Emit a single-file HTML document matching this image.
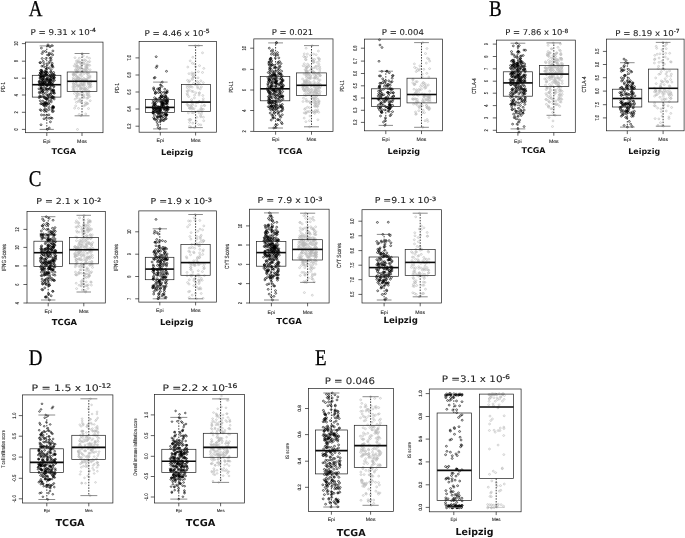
<!DOCTYPE html>
<html lang="en"><head><meta charset="utf-8"><title>Figure</title>
<style>
html,body{margin:0;padding:0;background:#fff;}
body{width:685px;height:538px;overflow:hidden;}
svg{display:block;filter:blur(.4px);}
text{text-rendering:geometricPrecision;}
</style></head><body>
<svg width="685" height="538" viewBox="0 0 685 538">
<rect width="685" height="538" fill="#fff"/>
<g><g fill="none" stroke="#000" stroke-width=".62" transform="scale(1 .9)">
<circle cx="40.4" cy="81" r="0.98"/><circle cx="44.9" cy="118.2" r="0.98"/><circle cx="45.8" cy="89.8" r="0.98"/><circle cx="40.3" cy="93.9" r="0.98"/><circle cx="42.4" cy="90.4" r="0.98"/><circle cx="53.8" cy="103.4" r="0.98"/><circle cx="41" cy="138.6" r="0.98"/><circle cx="44" cy="127.9" r="0.98"/><circle cx="51.6" cy="84.3" r="0.98"/><circle cx="48.1" cy="85.1" r="0.98"/><circle cx="40.3" cy="112" r="0.98"/><circle cx="42.4" cy="80.1" r="0.98"/><circle cx="48.1" cy="110" r="0.98"/><circle cx="43.7" cy="88.2" r="0.98"/><circle cx="48" cy="98.9" r="0.98"/><circle cx="52.5" cy="108.6" r="0.98"/><circle cx="41" cy="107.6" r="0.98"/><circle cx="50" cy="52" r="0.98"/><circle cx="49.4" cy="89.7" r="0.98"/><circle cx="48" cy="94.5" r="0.98"/><circle cx="48.3" cy="106.4" r="0.98"/><circle cx="46.2" cy="123.1" r="0.98"/><circle cx="49.2" cy="115.9" r="0.98"/><circle cx="49.9" cy="88.1" r="0.98"/><circle cx="44" cy="132" r="0.98"/><circle cx="49.5" cy="92.9" r="0.98"/><circle cx="40.9" cy="85" r="0.98"/><circle cx="51" cy="91.9" r="0.98"/><circle cx="52.7" cy="93.9" r="0.98"/><circle cx="46.1" cy="78.7" r="0.98"/><circle cx="51.9" cy="122.2" r="0.98"/><circle cx="45.6" cy="75" r="0.98"/><circle cx="42.2" cy="65" r="0.98"/><circle cx="43.2" cy="68.2" r="0.98"/><circle cx="43.5" cy="73.6" r="0.98"/><circle cx="45.5" cy="92.2" r="0.98"/><circle cx="49.2" cy="59.1" r="0.98"/><circle cx="48.5" cy="114.6" r="0.98"/><circle cx="50.4" cy="135.4" r="0.98"/><circle cx="51.3" cy="108.7" r="0.98"/><circle cx="48.9" cy="88.3" r="0.98"/><circle cx="40" cy="89.8" r="0.98"/><circle cx="39.9" cy="86.7" r="0.98"/><circle cx="41.5" cy="82.1" r="0.98"/><circle cx="52.7" cy="91.8" r="0.98"/><circle cx="41.3" cy="97.6" r="0.98"/><circle cx="41" cy="85.6" r="0.98"/><circle cx="54.2" cy="110" r="0.98"/><circle cx="40.6" cy="87.6" r="0.98"/><circle cx="43.1" cy="93.4" r="0.98"/><circle cx="53.9" cy="96.4" r="0.98"/><circle cx="41.2" cy="97.9" r="0.98"/><circle cx="53.7" cy="118.8" r="0.98"/><circle cx="49.9" cy="98.3" r="0.98"/><circle cx="51" cy="87.8" r="0.98"/><circle cx="51.1" cy="103.3" r="0.98"/><circle cx="54.4" cy="89.3" r="0.98"/><circle cx="50.9" cy="130.9" r="0.98"/><circle cx="47.1" cy="95" r="0.98"/><circle cx="39.6" cy="83" r="0.98"/><circle cx="49.8" cy="91.9" r="0.98"/><circle cx="46" cy="109.7" r="0.98"/><circle cx="42.4" cy="91.2" r="0.98"/><circle cx="48.8" cy="90.7" r="0.98"/><circle cx="52" cy="107.2" r="0.98"/><circle cx="40.7" cy="78.2" r="0.98"/><circle cx="52.5" cy="124.1" r="0.98"/><circle cx="41.7" cy="94.1" r="0.98"/><circle cx="44.4" cy="117.4" r="0.98"/><circle cx="45.3" cy="114.3" r="0.98"/><circle cx="50.3" cy="97.7" r="0.98"/><circle cx="53.1" cy="87.9" r="0.98"/><circle cx="41.3" cy="102.5" r="0.98"/><circle cx="44.7" cy="123.8" r="0.98"/><circle cx="41" cy="97.8" r="0.98"/><circle cx="47.2" cy="72.1" r="0.98"/><circle cx="45.8" cy="99.5" r="0.98"/><circle cx="42.9" cy="100.6" r="0.98"/><circle cx="42.8" cy="84.6" r="0.98"/><circle cx="41" cy="95.4" r="0.98"/><circle cx="44.7" cy="115.4" r="0.98"/><circle cx="45.8" cy="65.1" r="0.98"/><circle cx="46.8" cy="116.2" r="0.98"/><circle cx="45.9" cy="98" r="0.98"/><circle cx="39" cy="93.7" r="0.98"/><circle cx="50.3" cy="105" r="0.98"/><circle cx="44.2" cy="114.5" r="0.98"/><circle cx="41.5" cy="127.7" r="0.98"/><circle cx="42.9" cy="106.3" r="0.98"/><circle cx="47.8" cy="91.5" r="0.98"/><circle cx="52.7" cy="118.2" r="0.98"/><circle cx="47" cy="80.1" r="0.98"/><circle cx="46.1" cy="109.9" r="0.98"/><circle cx="49.3" cy="142.3" r="0.98"/><circle cx="53.7" cy="100.8" r="0.98"/><circle cx="51.1" cy="59.6" r="0.98"/><circle cx="41.1" cy="80.6" r="0.98"/><circle cx="40.3" cy="83.8" r="0.98"/><circle cx="51.2" cy="100.8" r="0.98"/><circle cx="49.2" cy="112.4" r="0.98"/><circle cx="52.2" cy="73.8" r="0.98"/><circle cx="45.2" cy="103.7" r="0.98"/><circle cx="52.9" cy="56.6" r="0.98"/><circle cx="47" cy="105.6" r="0.98"/><circle cx="42.3" cy="80.1" r="0.98"/><circle cx="47.7" cy="93.6" r="0.98"/><circle cx="39.2" cy="91.1" r="0.98"/><circle cx="40.3" cy="80.9" r="0.98"/><circle cx="51.1" cy="111.3" r="0.98"/><circle cx="39.7" cy="106.8" r="0.98"/><circle cx="43.2" cy="103.9" r="0.98"/><circle cx="51" cy="64" r="0.98"/><circle cx="41.7" cy="78.1" r="0.98"/><circle cx="41.1" cy="122.8" r="0.98"/><circle cx="49.7" cy="83.8" r="0.98"/><circle cx="48.5" cy="61.3" r="0.98"/><circle cx="40.7" cy="115.3" r="0.98"/><circle cx="46.2" cy="131.3" r="0.98"/><circle cx="47.6" cy="81.6" r="0.98"/><circle cx="47.2" cy="95.3" r="0.98"/><circle cx="40.8" cy="86" r="0.98"/><circle cx="43.9" cy="84.2" r="0.98"/><circle cx="50.9" cy="90.9" r="0.98"/><circle cx="44.5" cy="84.4" r="0.98"/><circle cx="42.9" cy="94.1" r="0.98"/><circle cx="41.9" cy="92" r="0.98"/><circle cx="53" cy="74.6" r="0.98"/><circle cx="46.7" cy="87.2" r="0.98"/><circle cx="45.2" cy="113.8" r="0.98"/><circle cx="44.5" cy="116.3" r="0.98"/><circle cx="44.5" cy="107.8" r="0.98"/><circle cx="41.2" cy="82.2" r="0.98"/><circle cx="41.5" cy="93.4" r="0.98"/><circle cx="52" cy="82.2" r="0.98"/><circle cx="42.8" cy="102.1" r="0.98"/><circle cx="46.2" cy="83" r="0.98"/><circle cx="53.8" cy="82.7" r="0.98"/><circle cx="47.5" cy="99.4" r="0.98"/><circle cx="44.6" cy="81.1" r="0.98"/><circle cx="44.9" cy="91.3" r="0.98"/><circle cx="46.9" cy="83.7" r="0.98"/><circle cx="43.1" cy="93.9" r="0.98"/><circle cx="39.3" cy="90.5" r="0.98"/><circle cx="42.6" cy="91.4" r="0.98"/><circle cx="48.9" cy="127.6" r="0.98"/><circle cx="52.7" cy="100.3" r="0.98"/><circle cx="41.9" cy="73.5" r="0.98"/><circle cx="52" cy="131.4" r="0.98"/><circle cx="50.4" cy="104.7" r="0.98"/><circle cx="46.9" cy="110.1" r="0.98"/><circle cx="51.3" cy="113.2" r="0.98"/><circle cx="49.2" cy="131.4" r="0.98"/><circle cx="42.9" cy="115.9" r="0.98"/><circle cx="40.7" cy="84.3" r="0.98"/><circle cx="47.7" cy="108.5" r="0.98"/><circle cx="46.6" cy="115.8" r="0.98"/><circle cx="51.1" cy="77.4" r="0.98"/><circle cx="49.1" cy="119.4" r="0.98"/><circle cx="50.5" cy="93.8" r="0.98"/><circle cx="50.3" cy="83.3" r="0.98"/><circle cx="50.6" cy="88.6" r="0.98"/><circle cx="46.5" cy="114.2" r="0.98"/><circle cx="51" cy="94.9" r="0.98"/><circle cx="41.3" cy="99.2" r="0.98"/><circle cx="50.6" cy="89.3" r="0.98"/><circle cx="39.9" cy="91.9" r="0.98"/><circle cx="49.5" cy="93.1" r="0.98"/><circle cx="47.1" cy="101.7" r="0.98"/><circle cx="46.3" cy="82.6" r="0.98"/><circle cx="54.2" cy="86" r="0.98"/><circle cx="39.3" cy="102.5" r="0.98"/><circle cx="46.1" cy="76.8" r="0.98"/><circle cx="43.1" cy="57.3" r="0.98"/><circle cx="41.2" cy="100.7" r="0.98"/><circle cx="53.2" cy="120.3" r="0.98"/><circle cx="52.8" cy="86.2" r="0.98"/><circle cx="42.9" cy="116.1" r="0.98"/><circle cx="39" cy="98.7" r="0.98"/><circle cx="46" cy="93.8" r="0.98"/><circle cx="44" cy="85.1" r="0.98"/><circle cx="39.2" cy="108.6" r="0.98"/><circle cx="53.5" cy="99.6" r="0.98"/><circle cx="53.1" cy="102.9" r="0.98"/><circle cx="54.4" cy="83.4" r="0.98"/><circle cx="44.7" cy="108.8" r="0.98"/><circle cx="40.5" cy="93.3" r="0.98"/><circle cx="43.4" cy="100.5" r="0.98"/><circle cx="47" cy="94.2" r="0.98"/><circle cx="44.9" cy="81.9" r="0.98"/><circle cx="48.6" cy="122" r="0.98"/><circle cx="53.1" cy="118.9" r="0.98"/><circle cx="50.5" cy="95.3" r="0.98"/><circle cx="50.8" cy="89.3" r="0.98"/><circle cx="53.5" cy="95.6" r="0.98"/><circle cx="46.4" cy="89.3" r="0.98"/><circle cx="54.2" cy="86.6" r="0.98"/><circle cx="48.9" cy="69.9" r="0.98"/><circle cx="41.9" cy="79.6" r="0.98"/><circle cx="42.2" cy="88.6" r="0.98"/><circle cx="53" cy="108.5" r="0.98"/><circle cx="46" cy="94.4" r="0.98"/><circle cx="44.3" cy="91.7" r="0.98"/><circle cx="42.7" cy="87.8" r="0.98"/><circle cx="50.1" cy="64.8" r="0.98"/><circle cx="45.5" cy="80.4" r="0.98"/><circle cx="40.1" cy="107.4" r="0.98"/><circle cx="54" cy="84.3" r="0.98"/><circle cx="51.9" cy="72.3" r="0.98"/><circle cx="43.2" cy="93.6" r="0.98"/><circle cx="53.6" cy="80.5" r="0.98"/><circle cx="52.5" cy="107.2" r="0.98"/><circle cx="52.2" cy="70.3" r="0.98"/><circle cx="48.2" cy="89.2" r="0.98"/><circle cx="51.1" cy="66.6" r="0.98"/><circle cx="53.4" cy="123.5" r="0.98"/><circle cx="47.1" cy="87.2" r="0.98"/><circle cx="53.7" cy="101.6" r="0.98"/><circle cx="46.2" cy="115" r="0.98"/><circle cx="40.3" cy="121.9" r="0.98"/><circle cx="49.1" cy="99.1" r="0.98"/><circle cx="42.1" cy="59.5" r="0.98"/><circle cx="41.1" cy="78.4" r="0.98"/><circle cx="47.2" cy="76" r="0.98"/><circle cx="48.4" cy="105.2" r="0.98"/><circle cx="43.7" cy="87" r="0.98"/><circle cx="52.2" cy="72.6" r="0.98"/><circle cx="42.7" cy="88.4" r="0.98"/><circle cx="44.1" cy="70.7" r="0.98"/><circle cx="46.8" cy="88.2" r="0.98"/><circle cx="49.4" cy="107.9" r="0.98"/><circle cx="42.5" cy="101.7" r="0.98"/><circle cx="49.6" cy="85.6" r="0.98"/><circle cx="51.2" cy="80.3" r="0.98"/><circle cx="54" cy="107.9" r="0.98"/><circle cx="51.9" cy="93.8" r="0.98"/><circle cx="43.6" cy="89.4" r="0.98"/><circle cx="46.7" cy="128.1" r="0.98"/><circle cx="49.4" cy="91.4" r="0.98"/><circle cx="41.6" cy="115" r="0.98"/><circle cx="41.3" cy="84.5" r="0.98"/><circle cx="41.4" cy="53.4" r="0.98"/><circle cx="49.9" cy="68.3" r="0.98"/><circle cx="53" cy="119.4" r="0.98"/><circle cx="50.5" cy="79.8" r="0.98"/><circle cx="48.9" cy="60.8" r="0.98"/><circle cx="41.7" cy="84.4" r="0.98"/><circle cx="43.4" cy="84.2" r="0.98"/><circle cx="54" cy="86.5" r="0.98"/><circle cx="44.5" cy="91.9" r="0.98"/><circle cx="39.8" cy="103.6" r="0.98"/><circle cx="44.9" cy="79.3" r="0.98"/><circle cx="53" cy="100.9" r="0.98"/><circle cx="45.5" cy="80.3" r="0.98"/><circle cx="39.5" cy="94.7" r="0.98"/><circle cx="53.4" cy="89.7" r="0.98"/><circle cx="44.3" cy="93.5" r="0.98"/><circle cx="52.7" cy="61" r="0.98"/><circle cx="43.9" cy="96.6" r="0.98"/><circle cx="40" cy="69.6" r="0.98"/><circle cx="53.1" cy="119.2" r="0.98"/><circle cx="42.8" cy="83.1" r="0.98"/><circle cx="45.4" cy="57.1" r="0.98"/><circle cx="45.7" cy="83.8" r="0.98"/><circle cx="51.5" cy="85.3" r="0.98"/><circle cx="51.9" cy="99.8" r="0.98"/><circle cx="44.1" cy="108.3" r="0.98"/><circle cx="51.2" cy="85.5" r="0.98"/><circle cx="42.9" cy="85.7" r="0.98"/><circle cx="40.4" cy="69.6" r="0.98"/><circle cx="52.2" cy="120.3" r="0.98"/><circle cx="46.8" cy="88.1" r="0.98"/><circle cx="46" cy="98.7" r="0.98"/><circle cx="49.3" cy="75.4" r="0.98"/><circle cx="52.1" cy="108.3" r="0.98"/><circle cx="43.9" cy="122.5" r="0.98"/><circle cx="45" cy="121.1" r="0.98"/><circle cx="42.8" cy="98.9" r="0.98"/><circle cx="52.6" cy="83" r="0.98"/><circle cx="54.5" cy="103.6" r="0.98"/><circle cx="42.8" cy="112.3" r="0.98"/><circle cx="48" cy="51" r="0.98"/><circle cx="47.4" cy="143.8" r="0.98"/><circle cx="48" cy="49.8" r="0.98"/><circle cx="52" cy="50.6" r="0.98"/>
</g>
<g fill="none" stroke="#b9b9b9" stroke-width=".62" transform="scale(1 .9)">
<circle cx="87.6" cy="105.4" r="0.98"/><circle cx="89.4" cy="101.7" r="0.98"/><circle cx="76.3" cy="88.2" r="0.98"/><circle cx="83.5" cy="98.4" r="0.98"/><circle cx="81.2" cy="113.5" r="0.98"/><circle cx="86.5" cy="68.2" r="0.98"/><circle cx="84.1" cy="108" r="0.98"/><circle cx="79.7" cy="77.6" r="0.98"/><circle cx="83.8" cy="87" r="0.98"/><circle cx="76.7" cy="102.6" r="0.98"/><circle cx="76.4" cy="79.6" r="0.98"/><circle cx="77.1" cy="69.9" r="0.98"/><circle cx="74.7" cy="96.1" r="0.98"/><circle cx="82.9" cy="88.7" r="0.98"/><circle cx="85.5" cy="98.7" r="0.98"/><circle cx="78" cy="85.4" r="0.98"/><circle cx="83.2" cy="77.6" r="0.98"/><circle cx="80.5" cy="86.5" r="0.98"/><circle cx="76.8" cy="106.2" r="0.98"/><circle cx="76.5" cy="90.7" r="0.98"/><circle cx="87.6" cy="77.2" r="0.98"/><circle cx="88.9" cy="81" r="0.98"/><circle cx="83" cy="89" r="0.98"/><circle cx="89.6" cy="92.8" r="0.98"/><circle cx="82.1" cy="79.7" r="0.98"/><circle cx="78.1" cy="80.1" r="0.98"/><circle cx="81.8" cy="97.5" r="0.98"/><circle cx="90.6" cy="93.9" r="0.98"/><circle cx="89.5" cy="64.7" r="0.98"/><circle cx="75" cy="64.1" r="0.98"/><circle cx="83.9" cy="117.8" r="0.98"/><circle cx="76.4" cy="113.7" r="0.98"/><circle cx="88.4" cy="93.3" r="0.98"/><circle cx="76.5" cy="107" r="0.98"/><circle cx="80" cy="75.4" r="0.98"/><circle cx="77.5" cy="79.4" r="0.98"/><circle cx="83.1" cy="94.2" r="0.98"/><circle cx="73.5" cy="93.2" r="0.98"/><circle cx="82.9" cy="107" r="0.98"/><circle cx="78.6" cy="105.5" r="0.98"/><circle cx="84.8" cy="76.3" r="0.98"/><circle cx="80.9" cy="82.3" r="0.98"/><circle cx="77.4" cy="77.3" r="0.98"/><circle cx="86.9" cy="103.4" r="0.98"/><circle cx="74.9" cy="82.9" r="0.98"/><circle cx="80.8" cy="74.7" r="0.98"/><circle cx="74.2" cy="73.2" r="0.98"/><circle cx="74.4" cy="97.4" r="0.98"/><circle cx="73.8" cy="93.8" r="0.98"/><circle cx="79.9" cy="109.9" r="0.98"/><circle cx="90.2" cy="111.9" r="0.98"/><circle cx="87.1" cy="115.1" r="0.98"/><circle cx="89.7" cy="72.6" r="0.98"/><circle cx="75.8" cy="92.6" r="0.98"/><circle cx="79.3" cy="95.9" r="0.98"/><circle cx="75.7" cy="92.9" r="0.98"/><circle cx="75.5" cy="95.1" r="0.98"/><circle cx="88.5" cy="120.6" r="0.98"/><circle cx="78.7" cy="88.9" r="0.98"/><circle cx="76.6" cy="72.2" r="0.98"/><circle cx="88.5" cy="69" r="0.98"/><circle cx="87.1" cy="81.3" r="0.98"/><circle cx="79.7" cy="68.9" r="0.98"/><circle cx="83" cy="94.9" r="0.98"/><circle cx="91" cy="96.1" r="0.98"/><circle cx="80.1" cy="95.6" r="0.98"/><circle cx="83.4" cy="95" r="0.98"/><circle cx="86.4" cy="100" r="0.98"/><circle cx="87.9" cy="86.9" r="0.98"/><circle cx="83.3" cy="62.1" r="0.98"/><circle cx="79.2" cy="127.1" r="0.98"/><circle cx="84.1" cy="81.8" r="0.98"/><circle cx="82.2" cy="88.5" r="0.98"/><circle cx="84.8" cy="98.4" r="0.98"/><circle cx="73" cy="82.2" r="0.98"/><circle cx="77.1" cy="79" r="0.98"/><circle cx="83.6" cy="100" r="0.98"/><circle cx="75.6" cy="78" r="0.98"/><circle cx="77.5" cy="103.6" r="0.98"/><circle cx="88.3" cy="72.3" r="0.98"/><circle cx="80.3" cy="103.8" r="0.98"/><circle cx="83" cy="68.3" r="0.98"/><circle cx="84.7" cy="88.7" r="0.98"/><circle cx="77.9" cy="67.3" r="0.98"/><circle cx="73.8" cy="100.7" r="0.98"/><circle cx="74.1" cy="100.5" r="0.98"/><circle cx="73.1" cy="97.2" r="0.98"/><circle cx="76.6" cy="98.9" r="0.98"/><circle cx="82.1" cy="93.7" r="0.98"/><circle cx="78.5" cy="94.3" r="0.98"/><circle cx="73.9" cy="81.6" r="0.98"/><circle cx="73" cy="95.8" r="0.98"/><circle cx="85.9" cy="116.1" r="0.98"/><circle cx="76.9" cy="89.5" r="0.98"/><circle cx="77.4" cy="73.5" r="0.98"/><circle cx="85.4" cy="77.3" r="0.98"/><circle cx="85.4" cy="114.1" r="0.98"/><circle cx="87" cy="74.9" r="0.98"/><circle cx="77.7" cy="96.2" r="0.98"/><circle cx="88.8" cy="101.7" r="0.98"/><circle cx="77.6" cy="88" r="0.98"/><circle cx="86.5" cy="88.9" r="0.98"/><circle cx="89.5" cy="96.2" r="0.98"/><circle cx="85.5" cy="101.2" r="0.98"/><circle cx="87.8" cy="108.9" r="0.98"/><circle cx="88.6" cy="92.8" r="0.98"/><circle cx="78.5" cy="87.2" r="0.98"/><circle cx="84" cy="70.7" r="0.98"/><circle cx="73.4" cy="83.1" r="0.98"/><circle cx="89.9" cy="85.8" r="0.98"/><circle cx="73.5" cy="88" r="0.98"/><circle cx="84.5" cy="93.5" r="0.98"/><circle cx="83.7" cy="90.8" r="0.98"/><circle cx="87.8" cy="84.7" r="0.98"/><circle cx="88.8" cy="95.1" r="0.98"/><circle cx="90.2" cy="94.2" r="0.98"/><circle cx="73.4" cy="88.3" r="0.98"/><circle cx="87.7" cy="98.1" r="0.98"/><circle cx="78.2" cy="101" r="0.98"/><circle cx="75.3" cy="71" r="0.98"/><circle cx="80.6" cy="94.4" r="0.98"/><circle cx="77.7" cy="77.4" r="0.98"/><circle cx="78.7" cy="87.2" r="0.98"/><circle cx="82.1" cy="105.9" r="0.98"/><circle cx="80.4" cy="93.4" r="0.98"/><circle cx="87" cy="87.7" r="0.98"/><circle cx="76.8" cy="85" r="0.98"/><circle cx="75.1" cy="110.2" r="0.98"/><circle cx="76.5" cy="90.7" r="0.98"/><circle cx="90.8" cy="91.1" r="0.98"/><circle cx="87" cy="72.5" r="0.98"/><circle cx="81.9" cy="89.3" r="0.98"/><circle cx="90.1" cy="84.5" r="0.98"/><circle cx="76.9" cy="80" r="0.98"/><circle cx="84.5" cy="98.4" r="0.98"/><circle cx="87.3" cy="90.3" r="0.98"/><circle cx="79.4" cy="95.7" r="0.98"/><circle cx="80.3" cy="69.4" r="0.98"/><circle cx="74.6" cy="120.2" r="0.98"/><circle cx="78" cy="73.8" r="0.98"/><circle cx="88.6" cy="106.6" r="0.98"/><circle cx="81.3" cy="90.2" r="0.98"/><circle cx="84.7" cy="91.1" r="0.98"/><circle cx="79.3" cy="64.7" r="0.98"/><circle cx="86.3" cy="77.9" r="0.98"/><circle cx="81" cy="71.5" r="0.98"/><circle cx="81.3" cy="97.9" r="0.98"/><circle cx="77.2" cy="94.5" r="0.98"/><circle cx="88.2" cy="82.7" r="0.98"/><circle cx="76.4" cy="67.7" r="0.98"/><circle cx="75.9" cy="81.7" r="0.98"/><circle cx="76.7" cy="73.8" r="0.98"/><circle cx="90.5" cy="91.4" r="0.98"/><circle cx="79.9" cy="83.3" r="0.98"/><circle cx="80.8" cy="97.9" r="0.98"/><circle cx="84.2" cy="66.4" r="0.98"/><circle cx="73.4" cy="86.2" r="0.98"/><circle cx="87" cy="75.7" r="0.98"/><circle cx="81.4" cy="113.9" r="0.98"/><circle cx="83.9" cy="90.3" r="0.98"/><circle cx="80.7" cy="88.4" r="0.98"/><circle cx="85.7" cy="126.6" r="0.98"/><circle cx="89" cy="87" r="0.98"/><circle cx="85.2" cy="116.7" r="0.98"/><circle cx="81.2" cy="100.5" r="0.98"/><circle cx="84.1" cy="70.5" r="0.98"/><circle cx="85.4" cy="66.9" r="0.98"/><circle cx="77.6" cy="104.4" r="0.98"/><circle cx="80.5" cy="69.8" r="0.98"/><circle cx="89.9" cy="96.8" r="0.98"/><circle cx="80.1" cy="75.3" r="0.98"/><circle cx="89.7" cy="68.4" r="0.98"/><circle cx="87.1" cy="81.6" r="0.98"/><circle cx="82.4" cy="93" r="0.98"/><circle cx="85.7" cy="73.3" r="0.98"/><circle cx="84.5" cy="99.7" r="0.98"/><circle cx="89.7" cy="107.3" r="0.98"/><circle cx="85.4" cy="88.2" r="0.98"/><circle cx="91" cy="89.7" r="0.98"/><circle cx="74" cy="82.5" r="0.98"/><circle cx="80.5" cy="88.3" r="0.98"/><circle cx="85.7" cy="88.9" r="0.98"/><circle cx="86.5" cy="89.3" r="0.98"/><circle cx="82.5" cy="102.1" r="0.98"/><circle cx="76.7" cy="85.5" r="0.98"/><circle cx="86.8" cy="75.8" r="0.98"/><circle cx="83.1" cy="102.8" r="0.98"/><circle cx="90.1" cy="77.5" r="0.98"/><circle cx="87.3" cy="72.1" r="0.98"/><circle cx="78.6" cy="68.7" r="0.98"/><circle cx="79.6" cy="112.6" r="0.98"/><circle cx="78.2" cy="112.6" r="0.98"/><circle cx="76.2" cy="90" r="0.98"/><circle cx="85.8" cy="74.2" r="0.98"/><circle cx="81.6" cy="89.9" r="0.98"/><circle cx="84.4" cy="77.4" r="0.98"/><circle cx="87.7" cy="115.2" r="0.98"/><circle cx="87.1" cy="63.5" r="0.98"/><circle cx="88.1" cy="92.3" r="0.98"/><circle cx="73.2" cy="99.3" r="0.98"/><circle cx="77.9" cy="69" r="0.98"/><circle cx="75.5" cy="83.7" r="0.98"/><circle cx="75.6" cy="88" r="0.98"/><circle cx="87.1" cy="105.5" r="0.98"/><circle cx="86.8" cy="74.1" r="0.98"/><circle cx="88.9" cy="104.7" r="0.98"/><circle cx="85.5" cy="96.2" r="0.98"/><circle cx="86.4" cy="99.7" r="0.98"/><circle cx="77.9" cy="75.9" r="0.98"/><circle cx="75.7" cy="77.2" r="0.98"/><circle cx="75.9" cy="74.3" r="0.98"/><circle cx="82" cy="84.2" r="0.98"/><circle cx="88.3" cy="91.6" r="0.98"/><circle cx="83.2" cy="89" r="0.98"/><circle cx="80.5" cy="99" r="0.98"/><circle cx="74.5" cy="103.9" r="0.98"/><circle cx="84" cy="93" r="0.98"/><circle cx="90" cy="93.4" r="0.98"/><circle cx="81.7" cy="72.1" r="0.98"/><circle cx="73.4" cy="92.6" r="0.98"/><circle cx="88.5" cy="101" r="0.98"/><circle cx="81.5" cy="80.5" r="0.98"/><circle cx="80.8" cy="91.8" r="0.98"/><circle cx="83" cy="79.9" r="0.98"/><circle cx="80.3" cy="98.6" r="0.98"/><circle cx="78.5" cy="120.4" r="0.98"/><circle cx="86.8" cy="114.3" r="0.98"/><circle cx="78.6" cy="86.8" r="0.98"/><circle cx="86.8" cy="71.7" r="0.98"/><circle cx="86" cy="79.1" r="0.98"/><circle cx="78.3" cy="95.4" r="0.98"/><circle cx="76.3" cy="89" r="0.98"/><circle cx="86.9" cy="109.2" r="0.98"/><circle cx="83.9" cy="105.7" r="0.98"/><circle cx="83.6" cy="108.3" r="0.98"/><circle cx="77.1" cy="108.7" r="0.98"/><circle cx="75.7" cy="117.6" r="0.98"/><circle cx="73.6" cy="83.5" r="0.98"/><circle cx="79.8" cy="111.2" r="0.98"/><circle cx="87.1" cy="102.8" r="0.98"/><circle cx="82.2" cy="59.4" r="0.98"/><circle cx="81" cy="128.7" r="0.98"/><circle cx="77.5" cy="143.8" r="0.98"/>
</g>
<g fill="none" stroke="#1e1e1e" stroke-width=".7">
<rect x="25.5" y="42.1" width="77.5" height="90.6"/>
<path d="M25.5 129.4h-3.6"/>
<path d="M25.5 112.3h-3.6"/>
<path d="M25.5 95h-3.6"/>
<path d="M25.5 78.2h-3.6"/>
<path d="M25.5 61.2h-3.6"/>
<path d="M25.5 43.6h-3.6"/>
<path d="M46.8 132.7v3.3"/>
<rect x="32.3" y="75.3" width="28.6" height="21.8"/>
<path stroke="#3a3a3a" stroke-width=".58" d="M39.6 45.9h14.3 M39.6 129.4h14.3"/>
<path stroke="#000" stroke-width=".75" stroke-dasharray="1.5 1.3" d="M46.8 75.3V45.9 M46.8 97.1V129.4"/>
<path stroke="#0a0a0a" stroke-width="1.6" d="M32.3 84.7H60.9"/>
<path d="M82 132.7v3.3"/>
<rect x="67.2" y="72" width="29.7" height="19.4"/>
<path stroke="#3a3a3a" stroke-width=".58" d="M74.6 53.5h14.9 M74.6 115.8h14.9"/>
<path stroke="#000" stroke-width=".75" stroke-dasharray="1.5 1.3" d="M82 72V53.5 M82 91.4V115.8"/>
<path stroke="#0a0a0a" stroke-width="1.6" d="M67.2 81.3H96.9"/>
</g>
<g font-family="'Liberation Sans',Arial,sans-serif" fill="#1a1a1a" stroke="#1a1a1a" stroke-width=".12" text-anchor="middle">
<text font-size="5.6" transform="translate(18.2 129.4) rotate(-90) scale(0.72 1)">0</text>
<text font-size="5.6" transform="translate(18.2 112.3) rotate(-90) scale(0.72 1)">2</text>
<text font-size="5.6" transform="translate(18.2 95) rotate(-90) scale(0.72 1)">4</text>
<text font-size="5.6" transform="translate(18.2 78.2) rotate(-90) scale(0.72 1)">6</text>
<text font-size="5.6" transform="translate(18.2 61.2) rotate(-90) scale(0.72 1)">8</text>
<text font-size="5.6" transform="translate(18.2 43.6) rotate(-90) scale(0.72 1)">10</text>
<text stroke-width=".1" fill="#2a2a2a" font-size="5.9" text-anchor="start" textLength="9.6" lengthAdjust="spacingAndGlyphs" transform="translate(5.3 91.8) rotate(-90)">PD-1</text>
<text stroke-width=".08" text-anchor="start" textLength="7.5" lengthAdjust="spacingAndGlyphs" font-size="4.9" x="43" y="142.9">Epi</text>
<text stroke-width=".08" text-anchor="start" textLength="9.8" lengthAdjust="spacingAndGlyphs" font-size="4.9" x="77.1" y="142.9">Mes</text>
</g>
<text font-family="'DejaVu Sans',Verdana,sans-serif" font-weight="bold" font-size="8" x="51.4" y="154.4" fill="#111" textLength="24.6" lengthAdjust="spacingAndGlyphs">TCGA</text>
<text font-family="'DejaVu Sans',Verdana,sans-serif" font-size="8" x="30.4" y="35" fill="#222" stroke="#222" stroke-width=".07" textLength="65.4" lengthAdjust="spacingAndGlyphs">P = 9.31 x 10<tspan font-size="5.6" dy="-2.6" stroke-width=".22">-4</tspan></text></g>
<g><g fill="none" stroke="#000" stroke-width=".62" transform="scale(1 .9)">
<circle cx="159.3" cy="109.2" r="0.98"/><circle cx="167.1" cy="122.8" r="0.98"/><circle cx="154.3" cy="115.9" r="0.98"/><circle cx="161.5" cy="120.3" r="0.98"/><circle cx="158.5" cy="120.7" r="0.98"/><circle cx="167.2" cy="119.8" r="0.98"/><circle cx="154.5" cy="127.9" r="0.98"/><circle cx="155.8" cy="120.7" r="0.98"/><circle cx="163.2" cy="118" r="0.98"/><circle cx="167.7" cy="119.2" r="0.98"/><circle cx="152.8" cy="114.6" r="0.98"/><circle cx="156.3" cy="122.6" r="0.98"/><circle cx="164.6" cy="120.4" r="0.98"/><circle cx="165.9" cy="121.8" r="0.98"/><circle cx="163.3" cy="129.5" r="0.98"/><circle cx="166.9" cy="110" r="0.98"/><circle cx="153.6" cy="98.9" r="0.98"/><circle cx="162.7" cy="114.7" r="0.98"/><circle cx="163.8" cy="125.7" r="0.98"/><circle cx="165.9" cy="113.9" r="0.98"/><circle cx="161.4" cy="107.6" r="0.98"/><circle cx="163.1" cy="114.7" r="0.98"/><circle cx="162.6" cy="115.7" r="0.98"/><circle cx="159.1" cy="127" r="0.98"/><circle cx="164.7" cy="112.2" r="0.98"/><circle cx="157.7" cy="139" r="0.98"/><circle cx="164.8" cy="99.1" r="0.98"/><circle cx="162" cy="116" r="0.98"/><circle cx="157.4" cy="124.9" r="0.98"/><circle cx="165.9" cy="103.7" r="0.98"/><circle cx="166.4" cy="112.2" r="0.98"/><circle cx="157.2" cy="129.8" r="0.98"/><circle cx="161.7" cy="118.2" r="0.98"/><circle cx="166" cy="128.1" r="0.98"/><circle cx="165.8" cy="107.3" r="0.98"/><circle cx="157.2" cy="132.6" r="0.98"/><circle cx="166.7" cy="123.8" r="0.98"/><circle cx="154.5" cy="100.6" r="0.98"/><circle cx="164.2" cy="121" r="0.98"/><circle cx="156.2" cy="124.7" r="0.98"/><circle cx="155.8" cy="123.5" r="0.98"/><circle cx="164" cy="106.1" r="0.98"/><circle cx="165.1" cy="122.8" r="0.98"/><circle cx="156.1" cy="120.2" r="0.98"/><circle cx="160.6" cy="133.3" r="0.98"/><circle cx="161.6" cy="102.8" r="0.98"/><circle cx="163.5" cy="116.4" r="0.98"/><circle cx="161.3" cy="111.6" r="0.98"/><circle cx="153.3" cy="111.9" r="0.98"/><circle cx="158.3" cy="119.8" r="0.98"/><circle cx="155.4" cy="103.8" r="0.98"/><circle cx="158.1" cy="130.3" r="0.98"/><circle cx="168" cy="121.5" r="0.98"/><circle cx="160.1" cy="119.6" r="0.98"/><circle cx="159.1" cy="120.4" r="0.98"/><circle cx="163.9" cy="133.9" r="0.98"/><circle cx="153.3" cy="125.6" r="0.98"/><circle cx="155.3" cy="117" r="0.98"/><circle cx="165.6" cy="103.4" r="0.98"/><circle cx="167.3" cy="114" r="0.98"/><circle cx="158.8" cy="129.8" r="0.98"/><circle cx="167.4" cy="112.4" r="0.98"/><circle cx="166.8" cy="102" r="0.98"/><circle cx="158.7" cy="124.1" r="0.98"/><circle cx="167.2" cy="100.9" r="0.98"/><circle cx="166.7" cy="118.9" r="0.98"/><circle cx="165.3" cy="127.2" r="0.98"/><circle cx="162.6" cy="114.6" r="0.98"/><circle cx="154.2" cy="132.2" r="0.98"/><circle cx="163.1" cy="118.4" r="0.98"/><circle cx="157.5" cy="119.5" r="0.98"/><circle cx="154.5" cy="113.1" r="0.98"/><circle cx="154.7" cy="114.6" r="0.98"/><circle cx="152.8" cy="124.7" r="0.98"/><circle cx="167.1" cy="120.1" r="0.98"/><circle cx="167.1" cy="116" r="0.98"/><circle cx="159.5" cy="122.9" r="0.98"/><circle cx="167" cy="114.7" r="0.98"/><circle cx="157.9" cy="125.7" r="0.98"/><circle cx="160" cy="126" r="0.98"/><circle cx="153.4" cy="123" r="0.98"/><circle cx="161.1" cy="124" r="0.98"/><circle cx="158.9" cy="112.2" r="0.98"/><circle cx="156.8" cy="111.8" r="0.98"/><circle cx="160.2" cy="121.9" r="0.98"/><circle cx="166.5" cy="112.4" r="0.98"/><circle cx="166.5" cy="114.9" r="0.98"/><circle cx="155.7" cy="119.7" r="0.98"/><circle cx="155.6" cy="117" r="0.98"/><circle cx="167.7" cy="109.4" r="0.98"/><circle cx="157" cy="122.7" r="0.98"/><circle cx="153.3" cy="121.1" r="0.98"/><circle cx="153" cy="125.6" r="0.98"/><circle cx="158.3" cy="141.8" r="0.98"/><circle cx="160.6" cy="94.4" r="0.98"/><circle cx="159.3" cy="119" r="0.98"/><circle cx="154.6" cy="121.5" r="0.98"/><circle cx="164.1" cy="102.5" r="0.98"/><circle cx="153.8" cy="120.5" r="0.98"/><circle cx="160.2" cy="122.6" r="0.98"/><circle cx="163.5" cy="114.4" r="0.98"/><circle cx="161.5" cy="130.5" r="0.98"/><circle cx="159" cy="99.7" r="0.98"/><circle cx="153.5" cy="124.8" r="0.98"/><circle cx="165.7" cy="127.6" r="0.98"/><circle cx="153.7" cy="97.6" r="0.98"/><circle cx="157.3" cy="136.2" r="0.98"/><circle cx="165.5" cy="115.4" r="0.98"/><circle cx="161.8" cy="112.8" r="0.98"/><circle cx="160.6" cy="108.5" r="0.98"/><circle cx="163.6" cy="112.7" r="0.98"/><circle cx="166.1" cy="119.8" r="0.98"/><circle cx="164.3" cy="116.2" r="0.98"/><circle cx="165.8" cy="106.8" r="0.98"/><circle cx="160.7" cy="129.4" r="0.98"/><circle cx="152.7" cy="119.7" r="0.98"/><circle cx="154" cy="120.2" r="0.98"/><circle cx="165.2" cy="111.1" r="0.98"/><circle cx="156" cy="102.6" r="0.98"/><circle cx="161.8" cy="107.7" r="0.98"/><circle cx="154.8" cy="132.3" r="0.98"/><circle cx="163.7" cy="121.2" r="0.98"/><circle cx="160.3" cy="108.3" r="0.98"/><circle cx="154.6" cy="108.6" r="0.98"/><circle cx="165.7" cy="107.8" r="0.98"/><circle cx="161.4" cy="106" r="0.98"/><circle cx="166.8" cy="127.4" r="0.98"/><circle cx="159.2" cy="98.2" r="0.98"/><circle cx="166.8" cy="127.7" r="0.98"/><circle cx="157.8" cy="120.7" r="0.98"/><circle cx="167.7" cy="112.2" r="0.98"/><circle cx="166.4" cy="127.1" r="0.98"/><circle cx="160.6" cy="120.9" r="0.98"/><circle cx="167.1" cy="121.6" r="0.98"/><circle cx="158.4" cy="102.9" r="0.98"/><circle cx="153.7" cy="124.9" r="0.98"/><circle cx="154.6" cy="116.6" r="0.98"/><circle cx="164.7" cy="119.4" r="0.98"/><circle cx="165.8" cy="129.6" r="0.98"/><circle cx="153.7" cy="130.7" r="0.98"/><circle cx="156.7" cy="120.6" r="0.98"/><circle cx="166.2" cy="131.9" r="0.98"/><circle cx="159.3" cy="119.4" r="0.98"/><circle cx="157.3" cy="129.5" r="0.98"/><circle cx="161.8" cy="115.3" r="0.98"/><circle cx="160.5" cy="122.7" r="0.98"/><circle cx="155.3" cy="103.4" r="0.98"/><circle cx="154.5" cy="115.9" r="0.98"/><circle cx="156.4" cy="110.3" r="0.98"/><circle cx="161" cy="113.3" r="0.98"/><circle cx="162.5" cy="127.7" r="0.98"/><circle cx="163.5" cy="108.4" r="0.98"/><circle cx="159.9" cy="102" r="0.98"/><circle cx="156.3" cy="113.9" r="0.98"/><circle cx="161.6" cy="106.4" r="0.98"/><circle cx="158" cy="118.3" r="0.98"/><circle cx="160.2" cy="120.1" r="0.98"/><circle cx="167.2" cy="102.6" r="0.98"/><circle cx="153.5" cy="118.3" r="0.98"/><circle cx="159.4" cy="124.2" r="0.98"/><circle cx="163.8" cy="108.5" r="0.98"/><circle cx="156.1" cy="110.1" r="0.98"/><circle cx="157.7" cy="119.7" r="0.98"/><circle cx="163" cy="111.7" r="0.98"/><circle cx="160.6" cy="128.5" r="0.98"/><circle cx="163.7" cy="131.9" r="0.98"/><circle cx="163.1" cy="133.9" r="0.98"/><circle cx="154.4" cy="121.6" r="0.98"/><circle cx="161.5" cy="133.6" r="0.98"/><circle cx="167.6" cy="118.7" r="0.98"/><circle cx="165.4" cy="132.1" r="0.98"/><circle cx="158.5" cy="126.6" r="0.98"/><circle cx="157.5" cy="98.9" r="0.98"/><circle cx="161.2" cy="113.8" r="0.98"/><circle cx="165.6" cy="109.2" r="0.98"/><circle cx="159.5" cy="98.5" r="0.98"/><circle cx="161.5" cy="116.9" r="0.98"/><circle cx="153.9" cy="123.8" r="0.98"/><circle cx="165.4" cy="126.6" r="0.98"/><circle cx="156.3" cy="133.8" r="0.98"/><circle cx="153.2" cy="117.7" r="0.98"/><circle cx="160.3" cy="120" r="0.98"/><circle cx="168.2" cy="120.9" r="0.98"/><circle cx="160.5" cy="129.7" r="0.98"/><circle cx="161.7" cy="125.4" r="0.98"/><circle cx="167.2" cy="111.4" r="0.98"/><circle cx="158.3" cy="123.1" r="0.98"/><circle cx="161.3" cy="118.4" r="0.98"/><circle cx="160.1" cy="135.1" r="0.98"/><circle cx="162" cy="96" r="0.98"/><circle cx="162.3" cy="91.2" r="0.98"/><circle cx="159.7" cy="143.2" r="0.98"/><circle cx="156.2" cy="63" r="0.98"/><circle cx="157" cy="73.3" r="0.98"/><circle cx="156.3" cy="75" r="0.98"/><circle cx="166.5" cy="79.2" r="0.98"/><circle cx="155" cy="86.1" r="0.98"/><circle cx="154.2" cy="86.7" r="0.98"/>
</g>
<g fill="none" stroke="#b9b9b9" stroke-width=".62" transform="scale(1 .9)">
<circle cx="192.3" cy="117.2" r="0.98"/><circle cx="201.5" cy="122" r="0.98"/><circle cx="198.6" cy="138.4" r="0.98"/><circle cx="203.7" cy="134.2" r="0.98"/><circle cx="191.8" cy="121.3" r="0.98"/><circle cx="195.7" cy="117.7" r="0.98"/><circle cx="197.5" cy="96.5" r="0.98"/><circle cx="203.8" cy="76" r="0.98"/><circle cx="200.6" cy="128.7" r="0.98"/><circle cx="199.1" cy="105.6" r="0.98"/><circle cx="197.1" cy="94.6" r="0.98"/><circle cx="190.9" cy="141.2" r="0.98"/><circle cx="198.2" cy="91.8" r="0.98"/><circle cx="204.7" cy="117.4" r="0.98"/><circle cx="189.3" cy="120.1" r="0.98"/><circle cx="188.4" cy="117.6" r="0.98"/><circle cx="201.4" cy="96.5" r="0.98"/><circle cx="200.8" cy="129.8" r="0.98"/><circle cx="192.8" cy="63.6" r="0.98"/><circle cx="192.9" cy="115.5" r="0.98"/><circle cx="203.1" cy="112.1" r="0.98"/><circle cx="192.9" cy="120.4" r="0.98"/><circle cx="202.8" cy="106.1" r="0.98"/><circle cx="204.1" cy="116.8" r="0.98"/><circle cx="187.4" cy="97.4" r="0.98"/><circle cx="202" cy="121.4" r="0.98"/><circle cx="192.4" cy="70.3" r="0.98"/><circle cx="203.4" cy="130.2" r="0.98"/><circle cx="193.6" cy="92.8" r="0.98"/><circle cx="190.5" cy="117" r="0.98"/><circle cx="200.8" cy="89.7" r="0.98"/><circle cx="189.8" cy="89.8" r="0.98"/><circle cx="192" cy="83.2" r="0.98"/><circle cx="193.9" cy="85.3" r="0.98"/><circle cx="188.7" cy="107.4" r="0.98"/><circle cx="190" cy="120.3" r="0.98"/><circle cx="190.9" cy="95.9" r="0.98"/><circle cx="189.3" cy="99.8" r="0.98"/><circle cx="188.4" cy="125.5" r="0.98"/><circle cx="194.6" cy="105.7" r="0.98"/><circle cx="201.1" cy="120.3" r="0.98"/><circle cx="193.5" cy="85.3" r="0.98"/><circle cx="190.7" cy="133" r="0.98"/><circle cx="194.8" cy="124.4" r="0.98"/><circle cx="199.4" cy="112.8" r="0.98"/><circle cx="193.3" cy="82.1" r="0.98"/><circle cx="197.5" cy="90.6" r="0.98"/><circle cx="195.8" cy="103.1" r="0.98"/><circle cx="191.4" cy="119.1" r="0.98"/><circle cx="196.8" cy="130.3" r="0.98"/><circle cx="193.7" cy="85.2" r="0.98"/><circle cx="192.5" cy="88.3" r="0.98"/><circle cx="189.5" cy="140.3" r="0.98"/><circle cx="192" cy="125.1" r="0.98"/><circle cx="192.3" cy="87.2" r="0.98"/><circle cx="191.9" cy="80.9" r="0.98"/><circle cx="202.5" cy="80.5" r="0.98"/><circle cx="189.6" cy="136" r="0.98"/><circle cx="187.8" cy="74.5" r="0.98"/><circle cx="194" cy="120.8" r="0.98"/><circle cx="199.1" cy="125.7" r="0.98"/><circle cx="197.9" cy="97.9" r="0.98"/><circle cx="188.8" cy="91.1" r="0.98"/><circle cx="187.1" cy="115.9" r="0.98"/><circle cx="190.2" cy="67.6" r="0.98"/><circle cx="187.2" cy="104.1" r="0.98"/><circle cx="198" cy="86.5" r="0.98"/><circle cx="199.5" cy="93.2" r="0.98"/><circle cx="194.5" cy="81.4" r="0.98"/><circle cx="201.8" cy="113.8" r="0.98"/><circle cx="191.7" cy="114" r="0.98"/><circle cx="187.6" cy="89.2" r="0.98"/><circle cx="189" cy="81.8" r="0.98"/><circle cx="200.1" cy="121.9" r="0.98"/><circle cx="198.5" cy="50.8" r="0.98"/><circle cx="191.6" cy="112.6" r="0.98"/><circle cx="202.5" cy="58.7" r="0.98"/><circle cx="199.5" cy="73" r="0.98"/><circle cx="197.9" cy="123.4" r="0.98"/><circle cx="194.4" cy="70.9" r="0.98"/><circle cx="203.4" cy="121.4" r="0.98"/><circle cx="199.3" cy="112.8" r="0.98"/><circle cx="191.2" cy="118" r="0.98"/><circle cx="196.3" cy="134.9" r="0.98"/><circle cx="187.5" cy="105.5" r="0.98"/><circle cx="192.2" cy="96.8" r="0.98"/><circle cx="199.4" cy="103.1" r="0.98"/><circle cx="195.9" cy="114.3" r="0.98"/><circle cx="203.3" cy="91.8" r="0.98"/><circle cx="189.2" cy="94.9" r="0.98"/><circle cx="200.3" cy="98.8" r="0.98"/><circle cx="198.4" cy="79.7" r="0.98"/><circle cx="200.8" cy="138.8" r="0.98"/><circle cx="191.8" cy="101.4" r="0.98"/><circle cx="191.6" cy="110.7" r="0.98"/><circle cx="199.3" cy="103.5" r="0.98"/><circle cx="195" cy="93.9" r="0.98"/><circle cx="189.6" cy="96.6" r="0.98"/><circle cx="187.9" cy="116.7" r="0.98"/><circle cx="189.1" cy="133" r="0.98"/><circle cx="194.4" cy="108.8" r="0.98"/><circle cx="203.3" cy="109.8" r="0.98"/><circle cx="198" cy="114" r="0.98"/><circle cx="191" cy="120.1" r="0.98"/><circle cx="187.1" cy="95.3" r="0.98"/><circle cx="189.9" cy="120.3" r="0.98"/><circle cx="201.8" cy="124.3" r="0.98"/><circle cx="201.4" cy="126.6" r="0.98"/><circle cx="192.8" cy="136.8" r="0.98"/><circle cx="193.2" cy="101.8" r="0.98"/><circle cx="193.3" cy="125.4" r="0.98"/><circle cx="196.8" cy="113.7" r="0.98"/><circle cx="201.5" cy="117.9" r="0.98"/><circle cx="195.6" cy="74.1" r="0.98"/><circle cx="187.9" cy="101.7" r="0.98"/><circle cx="190" cy="132.7" r="0.98"/><circle cx="187.2" cy="101" r="0.98"/><circle cx="195.4" cy="50.7" r="0.98"/><circle cx="194.4" cy="141.8" r="0.98"/>
</g>
<g fill="none" stroke="#1e1e1e" stroke-width=".7">
<rect x="139.1" y="41.5" width="77.3" height="90.7"/>
<path d="M139.1 57.9h-3.6"/>
<path d="M139.1 75h-3.6"/>
<path d="M139.1 92h-3.6"/>
<path d="M139.1 109h-3.6"/>
<path d="M139.1 126.2h-3.6"/>
<path d="M160.3 132.2v3.3"/>
<rect x="145.5" y="99.4" width="28.9" height="13.1"/>
<path stroke="#3a3a3a" stroke-width=".58" d="M153.1 82.1h14.5 M153.1 128.9h14.5"/>
<path stroke="#000" stroke-width=".75" stroke-dasharray="1.5 1.3" d="M160.3 99.4V82.1 M160.3 112.5V128.9"/>
<path stroke="#0a0a0a" stroke-width="1.6" d="M145.5 107.4H174.4"/>
<path d="M195.6 132.2v3.3"/>
<rect x="181.5" y="84.4" width="29.1" height="27"/>
<path stroke="#3a3a3a" stroke-width=".58" d="M188.3 45.6h14.5 M188.3 127.6h14.5"/>
<path stroke="#000" stroke-width=".75" stroke-dasharray="1.5 1.3" d="M195.6 84.4V45.6 M195.6 111.4V127.6"/>
<path stroke="#0a0a0a" stroke-width="1.6" d="M181.5 102.1H210.6"/>
</g>
<g font-family="'Liberation Sans',Arial,sans-serif" fill="#1a1a1a" stroke="#1a1a1a" stroke-width=".12" text-anchor="middle">
<text font-size="5.6" transform="translate(131.4 57.9) rotate(-90) scale(0.72 1)">7.0</text>
<text font-size="5.6" transform="translate(131.4 75) rotate(-90) scale(0.72 1)">6.8</text>
<text font-size="5.6" transform="translate(131.4 92) rotate(-90) scale(0.72 1)">6.6</text>
<text font-size="5.6" transform="translate(131.4 109) rotate(-90) scale(0.72 1)">6.4</text>
<text font-size="5.6" transform="translate(131.4 126.2) rotate(-90) scale(0.72 1)">6.2</text>
<text stroke-width=".1" fill="#2a2a2a" font-size="5.9" text-anchor="start" textLength="9.6" lengthAdjust="spacingAndGlyphs" transform="translate(118.7 92.8) rotate(-90)">PD-1</text>
<text stroke-width=".08" text-anchor="start" textLength="7.5" lengthAdjust="spacingAndGlyphs" font-size="4.9" x="156.6" y="142.3">Epi</text>
<text stroke-width=".08" text-anchor="start" textLength="9.8" lengthAdjust="spacingAndGlyphs" font-size="4.9" x="190.7" y="142.3">Mes</text>
</g>
<text font-family="'DejaVu Sans',Verdana,sans-serif" font-weight="bold" font-size="8" x="161" y="154.6" fill="#111" textLength="32.3" lengthAdjust="spacingAndGlyphs">Leipzig</text>
<text font-family="'DejaVu Sans',Verdana,sans-serif" font-size="8" x="144.4" y="36" fill="#222" stroke="#222" stroke-width=".07" textLength="65.3" lengthAdjust="spacingAndGlyphs">P = 4.46 x 10<tspan font-size="5.6" dy="-2.6" stroke-width=".22">-5</tspan></text></g>
<g><g fill="none" stroke="#000" stroke-width=".62" transform="scale(1 .9)">
<circle cx="267.7" cy="100.3" r="0.98"/><circle cx="274.5" cy="120" r="0.98"/><circle cx="277.9" cy="70.6" r="0.98"/><circle cx="274.7" cy="114.5" r="0.98"/><circle cx="280.7" cy="107.2" r="0.98"/><circle cx="274.7" cy="107.1" r="0.98"/><circle cx="273.3" cy="112.9" r="0.98"/><circle cx="275" cy="83.2" r="0.98"/><circle cx="282" cy="107.6" r="0.98"/><circle cx="280.5" cy="106.8" r="0.98"/><circle cx="272.5" cy="86.3" r="0.98"/><circle cx="282.1" cy="122.9" r="0.98"/><circle cx="273.2" cy="88.4" r="0.98"/><circle cx="268.4" cy="112" r="0.98"/><circle cx="269.2" cy="89.1" r="0.98"/><circle cx="273.7" cy="118.1" r="0.98"/><circle cx="276.5" cy="119.7" r="0.98"/><circle cx="269.7" cy="86.2" r="0.98"/><circle cx="269.9" cy="79" r="0.98"/><circle cx="271.9" cy="114.5" r="0.98"/><circle cx="275.4" cy="83.5" r="0.98"/><circle cx="271.3" cy="101.6" r="0.98"/><circle cx="276.9" cy="116.7" r="0.98"/><circle cx="274.2" cy="82.8" r="0.98"/><circle cx="276.3" cy="61.1" r="0.98"/><circle cx="279.5" cy="113.3" r="0.98"/><circle cx="270.2" cy="66.3" r="0.98"/><circle cx="273.9" cy="100.5" r="0.98"/><circle cx="279.5" cy="73.4" r="0.98"/><circle cx="279.9" cy="92.2" r="0.98"/><circle cx="267.9" cy="97.1" r="0.98"/><circle cx="271.4" cy="117.7" r="0.98"/><circle cx="281.7" cy="93" r="0.98"/><circle cx="281.1" cy="118.8" r="0.98"/><circle cx="271.2" cy="133.4" r="0.98"/><circle cx="273.3" cy="118.5" r="0.98"/><circle cx="269.9" cy="114.3" r="0.98"/><circle cx="278.8" cy="64.3" r="0.98"/><circle cx="277.2" cy="99.7" r="0.98"/><circle cx="276.4" cy="92.7" r="0.98"/><circle cx="277.9" cy="132.8" r="0.98"/><circle cx="271.4" cy="68.6" r="0.98"/><circle cx="269.7" cy="84.6" r="0.98"/><circle cx="270" cy="75.9" r="0.98"/><circle cx="272.3" cy="108.6" r="0.98"/><circle cx="273.9" cy="121.7" r="0.98"/><circle cx="278.4" cy="80.8" r="0.98"/><circle cx="282.3" cy="116" r="0.98"/><circle cx="275.6" cy="92.3" r="0.98"/><circle cx="280.3" cy="108.1" r="0.98"/><circle cx="278.3" cy="83.2" r="0.98"/><circle cx="275.3" cy="64.6" r="0.98"/><circle cx="281.4" cy="87.3" r="0.98"/><circle cx="269.2" cy="115" r="0.98"/><circle cx="277" cy="89.6" r="0.98"/><circle cx="271.3" cy="56.7" r="0.98"/><circle cx="274" cy="72.6" r="0.98"/><circle cx="267.8" cy="93.3" r="0.98"/><circle cx="275" cy="100.7" r="0.98"/><circle cx="268.4" cy="102.1" r="0.98"/><circle cx="272.1" cy="91" r="0.98"/><circle cx="272" cy="112.5" r="0.98"/><circle cx="268.4" cy="107.4" r="0.98"/><circle cx="279.9" cy="103.9" r="0.98"/><circle cx="277.3" cy="138.4" r="0.98"/><circle cx="281.4" cy="91.6" r="0.98"/><circle cx="278" cy="133.2" r="0.98"/><circle cx="275.7" cy="95.9" r="0.98"/><circle cx="273.6" cy="131" r="0.98"/><circle cx="273" cy="104.5" r="0.98"/><circle cx="283.3" cy="94.7" r="0.98"/><circle cx="271.5" cy="88.5" r="0.98"/><circle cx="270" cy="87.5" r="0.98"/><circle cx="274.8" cy="83.3" r="0.98"/><circle cx="272.6" cy="114.4" r="0.98"/><circle cx="272.7" cy="83" r="0.98"/><circle cx="276.4" cy="105.4" r="0.98"/><circle cx="276.8" cy="122.7" r="0.98"/><circle cx="271.4" cy="60.2" r="0.98"/><circle cx="279.7" cy="117.2" r="0.98"/><circle cx="281.4" cy="97.2" r="0.98"/><circle cx="272.7" cy="55.5" r="0.98"/><circle cx="268.1" cy="94.5" r="0.98"/><circle cx="271.2" cy="95.1" r="0.98"/><circle cx="271.5" cy="67.2" r="0.98"/><circle cx="271.1" cy="117.4" r="0.98"/><circle cx="282.3" cy="120.2" r="0.98"/><circle cx="280.7" cy="130.3" r="0.98"/><circle cx="270.2" cy="81" r="0.98"/><circle cx="277.4" cy="58.4" r="0.98"/><circle cx="271.1" cy="107.9" r="0.98"/><circle cx="274.1" cy="98.5" r="0.98"/><circle cx="273.3" cy="127.3" r="0.98"/><circle cx="277.6" cy="93.4" r="0.98"/><circle cx="275.5" cy="95.5" r="0.98"/><circle cx="267.9" cy="99.6" r="0.98"/><circle cx="276.5" cy="120.7" r="0.98"/><circle cx="278.8" cy="124.3" r="0.98"/><circle cx="269.3" cy="89" r="0.98"/><circle cx="269.6" cy="77.1" r="0.98"/><circle cx="274.5" cy="125" r="0.98"/><circle cx="277.9" cy="120" r="0.98"/><circle cx="273" cy="111.9" r="0.98"/><circle cx="279.8" cy="100.2" r="0.98"/><circle cx="273" cy="129.8" r="0.98"/><circle cx="272.4" cy="120.2" r="0.98"/><circle cx="282.6" cy="101.7" r="0.98"/><circle cx="277.8" cy="75.7" r="0.98"/><circle cx="273.4" cy="99.9" r="0.98"/><circle cx="269.1" cy="103.2" r="0.98"/><circle cx="270.7" cy="64.9" r="0.98"/><circle cx="271.1" cy="72.9" r="0.98"/><circle cx="273.5" cy="99" r="0.98"/><circle cx="282" cy="84.1" r="0.98"/><circle cx="269.1" cy="68.9" r="0.98"/><circle cx="275.6" cy="101.3" r="0.98"/><circle cx="272.8" cy="91.6" r="0.98"/><circle cx="269.9" cy="119.5" r="0.98"/><circle cx="274.2" cy="124.8" r="0.98"/><circle cx="268.8" cy="110" r="0.98"/><circle cx="281.5" cy="136.1" r="0.98"/><circle cx="271.6" cy="122.4" r="0.98"/><circle cx="271.4" cy="97" r="0.98"/><circle cx="279.4" cy="77.1" r="0.98"/><circle cx="271.4" cy="117.7" r="0.98"/><circle cx="272.3" cy="72" r="0.98"/><circle cx="280" cy="128.9" r="0.98"/><circle cx="281.6" cy="87.2" r="0.98"/><circle cx="278.3" cy="78.3" r="0.98"/><circle cx="281.1" cy="123.6" r="0.98"/><circle cx="281.6" cy="90.9" r="0.98"/><circle cx="270.6" cy="91.1" r="0.98"/><circle cx="282.1" cy="137.4" r="0.98"/><circle cx="283" cy="88.9" r="0.98"/><circle cx="282.1" cy="97.2" r="0.98"/><circle cx="270.4" cy="97.9" r="0.98"/><circle cx="269.2" cy="107.6" r="0.98"/><circle cx="281" cy="70.6" r="0.98"/><circle cx="268.5" cy="114" r="0.98"/><circle cx="268.4" cy="90.6" r="0.98"/><circle cx="271.9" cy="127.8" r="0.98"/><circle cx="283.3" cy="95.5" r="0.98"/><circle cx="281.6" cy="96.2" r="0.98"/><circle cx="274.5" cy="87.8" r="0.98"/><circle cx="278.5" cy="97.8" r="0.98"/><circle cx="269.5" cy="96.9" r="0.98"/><circle cx="275.5" cy="74.9" r="0.98"/><circle cx="282.9" cy="106.7" r="0.98"/><circle cx="279.2" cy="109.8" r="0.98"/><circle cx="268.9" cy="91.7" r="0.98"/><circle cx="275.7" cy="84.4" r="0.98"/><circle cx="268.3" cy="80.6" r="0.98"/><circle cx="278" cy="105.2" r="0.98"/><circle cx="282.3" cy="127.5" r="0.98"/><circle cx="279" cy="107.8" r="0.98"/><circle cx="283" cy="89.9" r="0.98"/><circle cx="273.9" cy="79.5" r="0.98"/><circle cx="269.3" cy="53.5" r="0.98"/><circle cx="273.7" cy="99.5" r="0.98"/><circle cx="271.4" cy="70.8" r="0.98"/><circle cx="281.6" cy="79.1" r="0.98"/><circle cx="278.3" cy="69.1" r="0.98"/><circle cx="272.8" cy="83.2" r="0.98"/><circle cx="268.3" cy="118.5" r="0.98"/><circle cx="277" cy="113" r="0.98"/><circle cx="271.7" cy="117.5" r="0.98"/><circle cx="279" cy="99.5" r="0.98"/><circle cx="276" cy="78.9" r="0.98"/><circle cx="277.6" cy="106.4" r="0.98"/><circle cx="271.4" cy="114.3" r="0.98"/><circle cx="275.2" cy="102.7" r="0.98"/><circle cx="275.9" cy="141.7" r="0.98"/><circle cx="282.3" cy="96.6" r="0.98"/><circle cx="276" cy="109.4" r="0.98"/><circle cx="270.5" cy="104.3" r="0.98"/><circle cx="275" cy="112.1" r="0.98"/><circle cx="281" cy="118.3" r="0.98"/><circle cx="274" cy="60.7" r="0.98"/><circle cx="270.2" cy="102.9" r="0.98"/><circle cx="269.4" cy="89.2" r="0.98"/><circle cx="274.9" cy="90.6" r="0.98"/><circle cx="274.1" cy="75.4" r="0.98"/><circle cx="275.3" cy="106" r="0.98"/><circle cx="279.4" cy="119" r="0.98"/><circle cx="275.9" cy="90.4" r="0.98"/><circle cx="273.7" cy="81.1" r="0.98"/><circle cx="270.9" cy="95.9" r="0.98"/><circle cx="268.6" cy="101.2" r="0.98"/><circle cx="272.8" cy="95.4" r="0.98"/><circle cx="280.6" cy="82.8" r="0.98"/><circle cx="271.4" cy="72.4" r="0.98"/><circle cx="279.6" cy="68.4" r="0.98"/><circle cx="274.7" cy="102.8" r="0.98"/><circle cx="278.9" cy="94.3" r="0.98"/><circle cx="280.1" cy="74.1" r="0.98"/><circle cx="273.9" cy="82.7" r="0.98"/><circle cx="282.9" cy="110.1" r="0.98"/><circle cx="273.6" cy="104.5" r="0.98"/><circle cx="279.6" cy="102.3" r="0.98"/><circle cx="276" cy="91.9" r="0.98"/><circle cx="268.9" cy="70.9" r="0.98"/><circle cx="275" cy="118" r="0.98"/><circle cx="275.2" cy="87.5" r="0.98"/><circle cx="274.7" cy="116" r="0.98"/><circle cx="277.8" cy="61" r="0.98"/><circle cx="274" cy="101.4" r="0.98"/><circle cx="279.8" cy="87.7" r="0.98"/><circle cx="270.1" cy="121.4" r="0.98"/><circle cx="270.2" cy="65.6" r="0.98"/><circle cx="279.4" cy="81.3" r="0.98"/><circle cx="278.5" cy="126.8" r="0.98"/><circle cx="268.7" cy="88.3" r="0.98"/><circle cx="282.8" cy="121.4" r="0.98"/><circle cx="281.3" cy="111.6" r="0.98"/><circle cx="268" cy="86.3" r="0.98"/><circle cx="272.3" cy="119.3" r="0.98"/><circle cx="281.2" cy="92.7" r="0.98"/><circle cx="275.8" cy="112.7" r="0.98"/><circle cx="281.1" cy="82.3" r="0.98"/><circle cx="281.2" cy="104" r="0.98"/><circle cx="276.2" cy="96.7" r="0.98"/><circle cx="275" cy="92.3" r="0.98"/><circle cx="280.1" cy="81.9" r="0.98"/><circle cx="282.1" cy="89" r="0.98"/><circle cx="276.1" cy="115" r="0.98"/><circle cx="276.6" cy="93.1" r="0.98"/><circle cx="272.3" cy="93.3" r="0.98"/><circle cx="279.6" cy="133.5" r="0.98"/><circle cx="281.4" cy="85.3" r="0.98"/><circle cx="269.2" cy="72.2" r="0.98"/><circle cx="269" cy="110.1" r="0.98"/><circle cx="276.5" cy="117.7" r="0.98"/><circle cx="275.6" cy="139.1" r="0.98"/><circle cx="271.1" cy="106.2" r="0.98"/><circle cx="270.2" cy="113.4" r="0.98"/><circle cx="269.2" cy="101.1" r="0.98"/><circle cx="282.6" cy="107.5" r="0.98"/><circle cx="281.9" cy="90.2" r="0.98"/><circle cx="270.3" cy="111.5" r="0.98"/><circle cx="280.9" cy="96.7" r="0.98"/><circle cx="271.4" cy="93.1" r="0.98"/><circle cx="270.3" cy="109.3" r="0.98"/><circle cx="273.1" cy="121.7" r="0.98"/><circle cx="282.6" cy="119.1" r="0.98"/><circle cx="269.1" cy="69" r="0.98"/><circle cx="276.3" cy="89.5" r="0.98"/><circle cx="275.1" cy="87.5" r="0.98"/><circle cx="270.2" cy="125.6" r="0.98"/><circle cx="269.8" cy="111.4" r="0.98"/><circle cx="272.3" cy="99.8" r="0.98"/><circle cx="282.4" cy="98.6" r="0.98"/><circle cx="275.4" cy="74.9" r="0.98"/><circle cx="269.6" cy="118.8" r="0.98"/><circle cx="272.1" cy="84.1" r="0.98"/><circle cx="282.2" cy="106.7" r="0.98"/><circle cx="277.1" cy="86.7" r="0.98"/><circle cx="277.8" cy="125.2" r="0.98"/><circle cx="273.4" cy="58.3" r="0.98"/><circle cx="270.5" cy="98.1" r="0.98"/><circle cx="272.9" cy="131.2" r="0.98"/><circle cx="276.4" cy="90.2" r="0.98"/><circle cx="277.1" cy="101.9" r="0.98"/><circle cx="269.8" cy="74.9" r="0.98"/><circle cx="269.8" cy="103.7" r="0.98"/><circle cx="278.1" cy="110.2" r="0.98"/><circle cx="270.6" cy="83" r="0.98"/><circle cx="281.1" cy="117.3" r="0.98"/><circle cx="270.9" cy="64.7" r="0.98"/><circle cx="275.5" cy="91.3" r="0.98"/><circle cx="269.6" cy="105.5" r="0.98"/><circle cx="275.7" cy="85.8" r="0.98"/><circle cx="271.2" cy="77.1" r="0.98"/><circle cx="271.5" cy="95.6" r="0.98"/><circle cx="275.6" cy="108.5" r="0.98"/><circle cx="280.2" cy="94.1" r="0.98"/><circle cx="279.5" cy="104" r="0.98"/><circle cx="272" cy="85.1" r="0.98"/><circle cx="272.5" cy="79.5" r="0.98"/><circle cx="269.3" cy="113.5" r="0.98"/><circle cx="280.1" cy="101.3" r="0.98"/><circle cx="276.4" cy="47.7" r="0.98"/><circle cx="273.8" cy="142.2" r="0.98"/><circle cx="276.5" cy="47.2" r="0.98"/>
</g>
<g fill="none" stroke="#b9b9b9" stroke-width=".62" transform="scale(1 .9)">
<circle cx="313.1" cy="67.4" r="0.98"/><circle cx="314.7" cy="117.1" r="0.98"/><circle cx="308.6" cy="100.7" r="0.98"/><circle cx="304.2" cy="131.2" r="0.98"/><circle cx="309.9" cy="103.7" r="0.98"/><circle cx="315.7" cy="81.8" r="0.98"/><circle cx="305.1" cy="101.3" r="0.98"/><circle cx="306.4" cy="86.1" r="0.98"/><circle cx="320.1" cy="84.3" r="0.98"/><circle cx="311.5" cy="99.7" r="0.98"/><circle cx="318.4" cy="113.2" r="0.98"/><circle cx="313.8" cy="102" r="0.98"/><circle cx="316.7" cy="103.2" r="0.98"/><circle cx="305.3" cy="90.9" r="0.98"/><circle cx="314.5" cy="109.9" r="0.98"/><circle cx="318.8" cy="115.4" r="0.98"/><circle cx="315.5" cy="118.2" r="0.98"/><circle cx="310.3" cy="101.9" r="0.98"/><circle cx="316.2" cy="115.8" r="0.98"/><circle cx="312.1" cy="107.6" r="0.98"/><circle cx="305.9" cy="135.2" r="0.98"/><circle cx="317.7" cy="97.7" r="0.98"/><circle cx="306.1" cy="79.6" r="0.98"/><circle cx="319" cy="92.8" r="0.98"/><circle cx="315.1" cy="114.1" r="0.98"/><circle cx="314.8" cy="87.1" r="0.98"/><circle cx="316.6" cy="123.7" r="0.98"/><circle cx="317.1" cy="69.4" r="0.98"/><circle cx="313.2" cy="79.3" r="0.98"/><circle cx="311.3" cy="95.2" r="0.98"/><circle cx="304.3" cy="92.9" r="0.98"/><circle cx="310.8" cy="114.6" r="0.98"/><circle cx="306.4" cy="81.2" r="0.98"/><circle cx="307.8" cy="78.9" r="0.98"/><circle cx="307.6" cy="71.3" r="0.98"/><circle cx="316.5" cy="117.6" r="0.98"/><circle cx="314.8" cy="84.1" r="0.98"/><circle cx="307.3" cy="89" r="0.98"/><circle cx="309" cy="104.3" r="0.98"/><circle cx="318.2" cy="73.2" r="0.98"/><circle cx="311.5" cy="76.9" r="0.98"/><circle cx="317.6" cy="92.2" r="0.98"/><circle cx="305.5" cy="94.2" r="0.98"/><circle cx="310.7" cy="94.9" r="0.98"/><circle cx="304.1" cy="94.9" r="0.98"/><circle cx="317.8" cy="110.3" r="0.98"/><circle cx="317.7" cy="122.1" r="0.98"/><circle cx="304.7" cy="121.5" r="0.98"/><circle cx="309.5" cy="134.1" r="0.98"/><circle cx="313.8" cy="109.2" r="0.98"/><circle cx="318.1" cy="64.4" r="0.98"/><circle cx="309" cy="90.5" r="0.98"/><circle cx="314.4" cy="124.3" r="0.98"/><circle cx="310.6" cy="105.8" r="0.98"/><circle cx="315.7" cy="115.6" r="0.98"/><circle cx="308.5" cy="73.9" r="0.98"/><circle cx="306.1" cy="53.6" r="0.98"/><circle cx="312.9" cy="105" r="0.98"/><circle cx="313.8" cy="68.4" r="0.98"/><circle cx="316" cy="73.5" r="0.98"/><circle cx="319.7" cy="74.3" r="0.98"/><circle cx="317.1" cy="99.6" r="0.98"/><circle cx="314.7" cy="126" r="0.98"/><circle cx="308" cy="123.9" r="0.98"/><circle cx="316.1" cy="60.8" r="0.98"/><circle cx="305.2" cy="77.4" r="0.98"/><circle cx="315.8" cy="101.9" r="0.98"/><circle cx="308.1" cy="86.3" r="0.98"/><circle cx="320.1" cy="88.9" r="0.98"/><circle cx="306.1" cy="110.4" r="0.98"/><circle cx="308.3" cy="82.1" r="0.98"/><circle cx="304.3" cy="90.1" r="0.98"/><circle cx="319.7" cy="78.9" r="0.98"/><circle cx="306.2" cy="82.3" r="0.98"/><circle cx="313.6" cy="124.9" r="0.98"/><circle cx="308.2" cy="104.5" r="0.98"/><circle cx="312.6" cy="93.8" r="0.98"/><circle cx="315.8" cy="113.5" r="0.98"/><circle cx="312" cy="65.1" r="0.98"/><circle cx="313.6" cy="60.1" r="0.98"/><circle cx="317.5" cy="94" r="0.98"/><circle cx="308.8" cy="99.6" r="0.98"/><circle cx="303.6" cy="96" r="0.98"/><circle cx="316" cy="107.1" r="0.98"/><circle cx="305.3" cy="120.6" r="0.98"/><circle cx="314" cy="75.4" r="0.98"/><circle cx="316.2" cy="111.8" r="0.98"/><circle cx="318.9" cy="71.4" r="0.98"/><circle cx="317" cy="103.8" r="0.98"/><circle cx="306" cy="77.7" r="0.98"/><circle cx="314.3" cy="114.6" r="0.98"/><circle cx="304.8" cy="98.8" r="0.98"/><circle cx="311.5" cy="75.5" r="0.98"/><circle cx="314.6" cy="101.7" r="0.98"/><circle cx="307.6" cy="112.6" r="0.98"/><circle cx="316.6" cy="107.1" r="0.98"/><circle cx="315.9" cy="109.2" r="0.98"/><circle cx="318.2" cy="115" r="0.98"/><circle cx="314.3" cy="96.1" r="0.98"/><circle cx="305.8" cy="125.6" r="0.98"/><circle cx="307.4" cy="101.3" r="0.98"/><circle cx="313.2" cy="67.8" r="0.98"/><circle cx="306.4" cy="96.4" r="0.98"/><circle cx="314.6" cy="80.8" r="0.98"/><circle cx="315.2" cy="99.8" r="0.98"/><circle cx="317.4" cy="76.5" r="0.98"/><circle cx="305.6" cy="66" r="0.98"/><circle cx="303.4" cy="94.2" r="0.98"/><circle cx="304.3" cy="59.9" r="0.98"/><circle cx="304.5" cy="105" r="0.98"/><circle cx="308.5" cy="82" r="0.98"/><circle cx="306.5" cy="105.8" r="0.98"/><circle cx="317.1" cy="102.9" r="0.98"/><circle cx="304.2" cy="125.5" r="0.98"/><circle cx="310.2" cy="114.2" r="0.98"/><circle cx="313.9" cy="90.5" r="0.98"/><circle cx="311.7" cy="109.3" r="0.98"/><circle cx="306.5" cy="103.3" r="0.98"/><circle cx="318.7" cy="124.8" r="0.98"/><circle cx="320.5" cy="93.8" r="0.98"/><circle cx="310.7" cy="83.9" r="0.98"/><circle cx="315.4" cy="96" r="0.98"/><circle cx="309.7" cy="87.6" r="0.98"/><circle cx="306" cy="83.7" r="0.98"/><circle cx="306.3" cy="112.6" r="0.98"/><circle cx="305.9" cy="96.6" r="0.98"/><circle cx="319.2" cy="65.3" r="0.98"/><circle cx="319.6" cy="104.3" r="0.98"/><circle cx="303.5" cy="99.3" r="0.98"/><circle cx="303.7" cy="62.7" r="0.98"/><circle cx="307.2" cy="98.9" r="0.98"/><circle cx="306" cy="66.4" r="0.98"/><circle cx="303.5" cy="109" r="0.98"/><circle cx="308.8" cy="93.8" r="0.98"/><circle cx="304.2" cy="100.9" r="0.98"/><circle cx="305.6" cy="73.6" r="0.98"/><circle cx="316.8" cy="103.9" r="0.98"/><circle cx="304.3" cy="90.1" r="0.98"/><circle cx="311.6" cy="102.6" r="0.98"/><circle cx="319.1" cy="94.7" r="0.98"/><circle cx="319.7" cy="98.2" r="0.98"/><circle cx="309.6" cy="119.7" r="0.98"/><circle cx="317.6" cy="105.2" r="0.98"/><circle cx="313" cy="80.6" r="0.98"/><circle cx="302.4" cy="93.6" r="0.98"/><circle cx="303.1" cy="98.9" r="0.98"/><circle cx="312.1" cy="112.9" r="0.98"/><circle cx="318.4" cy="82.1" r="0.98"/><circle cx="313.8" cy="69.2" r="0.98"/><circle cx="309.3" cy="92.9" r="0.98"/><circle cx="310.7" cy="102.6" r="0.98"/><circle cx="314" cy="102.7" r="0.98"/><circle cx="315.6" cy="100.6" r="0.98"/><circle cx="311" cy="91.9" r="0.98"/><circle cx="306.9" cy="79.7" r="0.98"/><circle cx="314.6" cy="118.1" r="0.98"/><circle cx="313.1" cy="66.7" r="0.98"/><circle cx="307.4" cy="60" r="0.98"/><circle cx="316.8" cy="97" r="0.98"/><circle cx="313.8" cy="111.2" r="0.98"/><circle cx="320.2" cy="101.9" r="0.98"/><circle cx="303" cy="96.5" r="0.98"/><circle cx="306.3" cy="91.9" r="0.98"/><circle cx="317.9" cy="133.1" r="0.98"/><circle cx="305.3" cy="106.1" r="0.98"/><circle cx="316.2" cy="87" r="0.98"/><circle cx="306.5" cy="63.1" r="0.98"/><circle cx="305.3" cy="99.2" r="0.98"/><circle cx="317.9" cy="117.8" r="0.98"/><circle cx="303" cy="112.8" r="0.98"/><circle cx="311.5" cy="123.8" r="0.98"/><circle cx="313.2" cy="105.4" r="0.98"/><circle cx="312.3" cy="99.7" r="0.98"/><circle cx="309.6" cy="91.6" r="0.98"/><circle cx="317.6" cy="94.6" r="0.98"/><circle cx="310.7" cy="98.4" r="0.98"/><circle cx="310.2" cy="86.6" r="0.98"/><circle cx="320.1" cy="83.5" r="0.98"/><circle cx="315.7" cy="99.2" r="0.98"/><circle cx="317.9" cy="100.7" r="0.98"/><circle cx="316.2" cy="83.1" r="0.98"/><circle cx="313.4" cy="82" r="0.98"/><circle cx="303.6" cy="95" r="0.98"/><circle cx="315.1" cy="92.4" r="0.98"/><circle cx="309.9" cy="113" r="0.98"/><circle cx="314.2" cy="97.1" r="0.98"/><circle cx="319.1" cy="98" r="0.98"/><circle cx="314.9" cy="124.3" r="0.98"/><circle cx="310.3" cy="78" r="0.98"/><circle cx="306.5" cy="124.2" r="0.98"/><circle cx="307.5" cy="119.1" r="0.98"/><circle cx="308.8" cy="83.3" r="0.98"/><circle cx="319.9" cy="76.5" r="0.98"/><circle cx="319.3" cy="104.9" r="0.98"/><circle cx="315.5" cy="122.5" r="0.98"/><circle cx="306.5" cy="91.2" r="0.98"/><circle cx="319.3" cy="96.6" r="0.98"/><circle cx="318.7" cy="90.3" r="0.98"/><circle cx="312" cy="123.3" r="0.98"/><circle cx="313.8" cy="86.7" r="0.98"/><circle cx="312.2" cy="79" r="0.98"/><circle cx="314.2" cy="105.6" r="0.98"/><circle cx="319" cy="112.1" r="0.98"/><circle cx="319.2" cy="68" r="0.98"/><circle cx="306.4" cy="78.7" r="0.98"/><circle cx="307.1" cy="92" r="0.98"/><circle cx="320.5" cy="96.3" r="0.98"/><circle cx="314.6" cy="66" r="0.98"/><circle cx="316.1" cy="104.4" r="0.98"/><circle cx="315" cy="94.6" r="0.98"/><circle cx="307.1" cy="89.9" r="0.98"/><circle cx="314.2" cy="108.6" r="0.98"/><circle cx="314.8" cy="112.2" r="0.98"/><circle cx="302.6" cy="87.8" r="0.98"/><circle cx="304.9" cy="91.8" r="0.98"/><circle cx="307.3" cy="96.5" r="0.98"/><circle cx="307.9" cy="98.1" r="0.98"/><circle cx="315" cy="86.3" r="0.98"/><circle cx="319.5" cy="93.5" r="0.98"/><circle cx="317.5" cy="85.7" r="0.98"/><circle cx="318" cy="87.8" r="0.98"/><circle cx="314.6" cy="105.3" r="0.98"/><circle cx="318.8" cy="81.5" r="0.98"/><circle cx="314.4" cy="94" r="0.98"/><circle cx="305" cy="100.3" r="0.98"/><circle cx="320.2" cy="83.8" r="0.98"/><circle cx="306.6" cy="79.5" r="0.98"/><circle cx="303.2" cy="73.1" r="0.98"/><circle cx="309.4" cy="124" r="0.98"/><circle cx="305.9" cy="125.9" r="0.98"/><circle cx="311.9" cy="94.9" r="0.98"/><circle cx="307.1" cy="75.3" r="0.98"/><circle cx="316.4" cy="98.4" r="0.98"/><circle cx="306.2" cy="75.3" r="0.98"/><circle cx="314" cy="80.2" r="0.98"/><circle cx="318.1" cy="81.8" r="0.98"/><circle cx="306.9" cy="74.7" r="0.98"/><circle cx="310.5" cy="61.5" r="0.98"/><circle cx="305" cy="63.6" r="0.98"/><circle cx="311.1" cy="86.8" r="0.98"/><circle cx="304.5" cy="92.1" r="0.98"/><circle cx="309.1" cy="72.9" r="0.98"/><circle cx="304.3" cy="70.8" r="0.98"/><circle cx="315.9" cy="84.7" r="0.98"/><circle cx="317.1" cy="124" r="0.98"/><circle cx="318.4" cy="56.7" r="0.98"/><circle cx="318.2" cy="95.4" r="0.98"/><circle cx="304" cy="82.3" r="0.98"/><circle cx="315.5" cy="74.6" r="0.98"/><circle cx="310.6" cy="84.4" r="0.98"/><circle cx="309" cy="86.4" r="0.98"/><circle cx="319.4" cy="65.8" r="0.98"/><circle cx="314.3" cy="93.5" r="0.98"/><circle cx="302.7" cy="97" r="0.98"/><circle cx="306.6" cy="93.3" r="0.98"/><circle cx="313.3" cy="69.5" r="0.98"/><circle cx="319.1" cy="113.2" r="0.98"/><circle cx="317.3" cy="118.5" r="0.98"/><circle cx="306.6" cy="84.2" r="0.98"/><circle cx="318.8" cy="100.8" r="0.98"/><circle cx="310.4" cy="93.6" r="0.98"/><circle cx="305.8" cy="89.4" r="0.98"/><circle cx="310" cy="128.9" r="0.98"/><circle cx="312.2" cy="50.7" r="0.98"/><circle cx="309.6" cy="140.9" r="0.98"/>
</g>
<g fill="none" stroke="#1e1e1e" stroke-width=".7">
<rect x="253.8" y="38.9" width="79.2" height="92.5"/>
<path d="M253.8 48.2h-3.6"/>
<path d="M253.8 69.4h-3.6"/>
<path d="M253.8 90h-3.6"/>
<path d="M253.8 110.5h-3.6"/>
<path d="M253.8 131.4h-3.6"/>
<path d="M275.6 131.4v3.3"/>
<rect x="260.3" y="76.5" width="29.5" height="24.3"/>
<path stroke="#3a3a3a" stroke-width=".58" d="M268.2 42.9h14.8 M268.2 128h14.8"/>
<path stroke="#000" stroke-width=".75" stroke-dasharray="1.5 1.3" d="M275.6 76.5V42.9 M275.6 100.8V128"/>
<path stroke="#0a0a0a" stroke-width="1.6" d="M260.3 88.8H289.8"/>
<path d="M311.5 131.4v3.3"/>
<rect x="296.5" y="72.9" width="30" height="22.5"/>
<path stroke="#3a3a3a" stroke-width=".58" d="M304 45.6h15 M304 126.8h15"/>
<path stroke="#000" stroke-width=".75" stroke-dasharray="1.5 1.3" d="M311.5 72.9V45.6 M311.5 95.4V126.8"/>
<path stroke="#0a0a0a" stroke-width="1.6" d="M296.5 85.3H326.5"/>
</g>
<g font-family="'Liberation Sans',Arial,sans-serif" fill="#1a1a1a" stroke="#1a1a1a" stroke-width=".12" text-anchor="middle">
<text font-size="5.6" transform="translate(246.4 48.2) rotate(-90) scale(0.72 1)">10</text>
<text font-size="5.6" transform="translate(246.4 69.4) rotate(-90) scale(0.72 1)">8</text>
<text font-size="5.6" transform="translate(246.4 90) rotate(-90) scale(0.72 1)">6</text>
<text font-size="5.6" transform="translate(246.4 110.5) rotate(-90) scale(0.72 1)">4</text>
<text font-size="5.6" transform="translate(246.4 131.4) rotate(-90) scale(0.72 1)">2</text>
<text stroke-width=".1" fill="#2a2a2a" font-size="5.9" text-anchor="start" textLength="11.2" lengthAdjust="spacingAndGlyphs" transform="translate(232.7 92.6) rotate(-90)">PD-L1</text>
<text stroke-width=".08" text-anchor="start" textLength="7.5" lengthAdjust="spacingAndGlyphs" font-size="4.9" x="271.9" y="141.3">Epi</text>
<text stroke-width=".08" text-anchor="start" textLength="9.8" lengthAdjust="spacingAndGlyphs" font-size="4.9" x="306.6" y="141.3">Mes</text>
</g>
<text font-family="'DejaVu Sans',Verdana,sans-serif" font-weight="bold" font-size="8" x="277.8" y="154" fill="#111" textLength="24.5" lengthAdjust="spacingAndGlyphs">TCGA</text>
<text font-family="'DejaVu Sans',Verdana,sans-serif" font-size="8" x="271.8" y="35.3" fill="#222" stroke="#222" stroke-width=".07" textLength="41.4" lengthAdjust="spacingAndGlyphs">P = 0.021</text></g>
<g><g fill="none" stroke="#000" stroke-width=".62" transform="scale(1 .9)">
<circle cx="382" cy="125" r="0.98"/><circle cx="393.6" cy="106.6" r="0.98"/><circle cx="381.1" cy="114.7" r="0.98"/><circle cx="385.2" cy="133.9" r="0.98"/><circle cx="384.4" cy="95.8" r="0.98"/><circle cx="388.5" cy="106" r="0.98"/><circle cx="390.9" cy="102.8" r="0.98"/><circle cx="387.5" cy="102.7" r="0.98"/><circle cx="388.8" cy="89.8" r="0.98"/><circle cx="381.7" cy="103.6" r="0.98"/><circle cx="380.2" cy="100.6" r="0.98"/><circle cx="387.1" cy="111.3" r="0.98"/><circle cx="380.7" cy="118.5" r="0.98"/><circle cx="385.1" cy="112.8" r="0.98"/><circle cx="391" cy="91.5" r="0.98"/><circle cx="382.4" cy="122" r="0.98"/><circle cx="392.3" cy="113" r="0.98"/><circle cx="378.2" cy="106.6" r="0.98"/><circle cx="391.5" cy="99.3" r="0.98"/><circle cx="388" cy="123.4" r="0.98"/><circle cx="380.5" cy="128.9" r="0.98"/><circle cx="390.4" cy="97.9" r="0.98"/><circle cx="392.5" cy="124.1" r="0.98"/><circle cx="386.7" cy="79.2" r="0.98"/><circle cx="388.6" cy="93.8" r="0.98"/><circle cx="386.2" cy="108.2" r="0.98"/><circle cx="379.5" cy="122" r="0.98"/><circle cx="388.4" cy="120" r="0.98"/><circle cx="378.4" cy="119.9" r="0.98"/><circle cx="388" cy="98.5" r="0.98"/><circle cx="392.2" cy="86.9" r="0.98"/><circle cx="393" cy="110.9" r="0.98"/><circle cx="384.5" cy="92.6" r="0.98"/><circle cx="389.4" cy="117.2" r="0.98"/><circle cx="388.3" cy="102.6" r="0.98"/><circle cx="381.4" cy="115.9" r="0.98"/><circle cx="378.6" cy="101.3" r="0.98"/><circle cx="379.5" cy="95.6" r="0.98"/><circle cx="392.6" cy="117.1" r="0.98"/><circle cx="384.9" cy="122.1" r="0.98"/><circle cx="385.5" cy="89.8" r="0.98"/><circle cx="383.8" cy="105.2" r="0.98"/><circle cx="389.9" cy="116.4" r="0.98"/><circle cx="388.9" cy="121.2" r="0.98"/><circle cx="381.4" cy="124" r="0.98"/><circle cx="390.9" cy="112.6" r="0.98"/><circle cx="391.1" cy="119.1" r="0.98"/><circle cx="378.3" cy="116.9" r="0.98"/><circle cx="389.3" cy="114.1" r="0.98"/><circle cx="380.6" cy="108" r="0.98"/><circle cx="378" cy="110" r="0.98"/><circle cx="393.5" cy="107.1" r="0.98"/><circle cx="380.5" cy="84.4" r="0.98"/><circle cx="383.3" cy="116.8" r="0.98"/><circle cx="383" cy="110.8" r="0.98"/><circle cx="379.1" cy="97.2" r="0.98"/><circle cx="380.5" cy="107.8" r="0.98"/><circle cx="382.4" cy="91.9" r="0.98"/><circle cx="389.1" cy="123.8" r="0.98"/><circle cx="392.4" cy="99.1" r="0.98"/><circle cx="378.7" cy="109.9" r="0.98"/><circle cx="389.2" cy="103.9" r="0.98"/><circle cx="390.2" cy="94.7" r="0.98"/><circle cx="381.3" cy="124" r="0.98"/><circle cx="390.4" cy="119.2" r="0.98"/><circle cx="388.4" cy="110.1" r="0.98"/><circle cx="380.2" cy="115.2" r="0.98"/><circle cx="387.9" cy="102.8" r="0.98"/><circle cx="382" cy="105.7" r="0.98"/><circle cx="379.4" cy="84.3" r="0.98"/><circle cx="381.4" cy="113.8" r="0.98"/><circle cx="387.5" cy="93.8" r="0.98"/><circle cx="381.5" cy="125" r="0.98"/><circle cx="380.5" cy="103" r="0.98"/><circle cx="389.9" cy="98.9" r="0.98"/><circle cx="390.4" cy="116.4" r="0.98"/><circle cx="387.5" cy="108.5" r="0.98"/><circle cx="378.7" cy="104.1" r="0.98"/><circle cx="391.1" cy="127.2" r="0.98"/><circle cx="381.8" cy="79.3" r="0.98"/><circle cx="383.8" cy="90.1" r="0.98"/><circle cx="386.3" cy="110.1" r="0.98"/><circle cx="384" cy="113.4" r="0.98"/><circle cx="381.9" cy="105.7" r="0.98"/><circle cx="385.4" cy="111.5" r="0.98"/><circle cx="389.8" cy="120.8" r="0.98"/><circle cx="387.6" cy="119.3" r="0.98"/><circle cx="382.7" cy="87.6" r="0.98"/><circle cx="393.3" cy="103.2" r="0.98"/><circle cx="387.6" cy="119.6" r="0.98"/><circle cx="379.3" cy="96.5" r="0.98"/><circle cx="379.3" cy="111.3" r="0.98"/><circle cx="379.9" cy="92.5" r="0.98"/><circle cx="389.8" cy="119.7" r="0.98"/><circle cx="379.6" cy="105.3" r="0.98"/><circle cx="390.9" cy="99.3" r="0.98"/><circle cx="381" cy="92.6" r="0.98"/><circle cx="380.1" cy="120.1" r="0.98"/><circle cx="393.2" cy="102.9" r="0.98"/><circle cx="392" cy="107.9" r="0.98"/><circle cx="385.4" cy="131.1" r="0.98"/><circle cx="385.3" cy="118.1" r="0.98"/><circle cx="389.4" cy="116.1" r="0.98"/><circle cx="379.9" cy="95.5" r="0.98"/><circle cx="385.3" cy="109.3" r="0.98"/><circle cx="380.5" cy="119.6" r="0.98"/><circle cx="389.6" cy="113" r="0.98"/><circle cx="381" cy="100.6" r="0.98"/><circle cx="386.9" cy="95.6" r="0.98"/><circle cx="389.3" cy="80.8" r="0.98"/><circle cx="383.5" cy="135.6" r="0.98"/><circle cx="390.2" cy="128.6" r="0.98"/><circle cx="383.5" cy="99.1" r="0.98"/><circle cx="379.9" cy="97.9" r="0.98"/><circle cx="387.8" cy="95.6" r="0.98"/><circle cx="389.7" cy="116.7" r="0.98"/><circle cx="392.5" cy="84.2" r="0.98"/><circle cx="389.6" cy="121" r="0.98"/><circle cx="387.1" cy="79.1" r="0.98"/><circle cx="384.8" cy="139.3" r="0.98"/><circle cx="379.5" cy="44.2" r="0.98"/><circle cx="380" cy="50" r="0.98"/><circle cx="382" cy="52.8" r="0.98"/><circle cx="379" cy="68.1" r="0.98"/><circle cx="393" cy="83.9" r="0.98"/><circle cx="392" cy="90.6" r="0.98"/>
</g>
<g fill="none" stroke="#b9b9b9" stroke-width=".62" transform="scale(1 .9)">
<circle cx="415.5" cy="124.4" r="0.98"/><circle cx="418.8" cy="123" r="0.98"/><circle cx="427.4" cy="120" r="0.98"/><circle cx="415.7" cy="127" r="0.98"/><circle cx="424.3" cy="105.8" r="0.98"/><circle cx="427.5" cy="64.7" r="0.98"/><circle cx="426.4" cy="117.1" r="0.98"/><circle cx="428.3" cy="108.5" r="0.98"/><circle cx="414.2" cy="94.1" r="0.98"/><circle cx="413" cy="87.9" r="0.98"/><circle cx="413.5" cy="105.8" r="0.98"/><circle cx="416" cy="110.2" r="0.98"/><circle cx="428.9" cy="65.6" r="0.98"/><circle cx="423.8" cy="77" r="0.98"/><circle cx="425" cy="134.2" r="0.98"/><circle cx="428.3" cy="94.4" r="0.98"/><circle cx="427.1" cy="119.5" r="0.98"/><circle cx="421.2" cy="116.4" r="0.98"/><circle cx="416.5" cy="76" r="0.98"/><circle cx="419.1" cy="77.9" r="0.98"/><circle cx="429.1" cy="107.4" r="0.98"/><circle cx="423.1" cy="91.9" r="0.98"/><circle cx="414" cy="99.2" r="0.98"/><circle cx="427" cy="119.4" r="0.98"/><circle cx="426" cy="111.1" r="0.98"/><circle cx="416.4" cy="112.7" r="0.98"/><circle cx="419.5" cy="119.7" r="0.98"/><circle cx="429.4" cy="105.7" r="0.98"/><circle cx="425.8" cy="97.3" r="0.98"/><circle cx="422.3" cy="82.3" r="0.98"/><circle cx="429.9" cy="108.8" r="0.98"/><circle cx="422.6" cy="111.7" r="0.98"/><circle cx="422.4" cy="117.4" r="0.98"/><circle cx="427.1" cy="132.8" r="0.98"/><circle cx="412.9" cy="88.7" r="0.98"/><circle cx="428.8" cy="109.3" r="0.98"/><circle cx="428.8" cy="120.9" r="0.98"/><circle cx="415" cy="109.6" r="0.98"/><circle cx="423.4" cy="109.8" r="0.98"/><circle cx="417.6" cy="78.4" r="0.98"/><circle cx="414.6" cy="74.9" r="0.98"/><circle cx="418.5" cy="102.5" r="0.98"/><circle cx="417" cy="105.1" r="0.98"/><circle cx="415.7" cy="115.2" r="0.98"/><circle cx="423" cy="112.7" r="0.98"/><circle cx="426.1" cy="110.3" r="0.98"/><circle cx="427.7" cy="107.7" r="0.98"/><circle cx="413.6" cy="115.7" r="0.98"/><circle cx="413.6" cy="110.5" r="0.98"/><circle cx="424.8" cy="107.1" r="0.98"/><circle cx="429.7" cy="67.9" r="0.98"/><circle cx="426.4" cy="95.5" r="0.98"/><circle cx="419.8" cy="100" r="0.98"/><circle cx="417.9" cy="112.8" r="0.98"/><circle cx="415.8" cy="102.8" r="0.98"/><circle cx="421.6" cy="93.9" r="0.98"/><circle cx="429.6" cy="76.3" r="0.98"/><circle cx="429.7" cy="101.3" r="0.98"/><circle cx="415" cy="93.5" r="0.98"/><circle cx="414.4" cy="71" r="0.98"/><circle cx="419" cy="118.8" r="0.98"/><circle cx="418.8" cy="99.4" r="0.98"/><circle cx="428.1" cy="111.2" r="0.98"/><circle cx="412.5" cy="110" r="0.98"/><circle cx="423.9" cy="106.7" r="0.98"/><circle cx="419.8" cy="117.8" r="0.98"/><circle cx="424.5" cy="94.8" r="0.98"/><circle cx="429" cy="121.8" r="0.98"/><circle cx="426.3" cy="70.1" r="0.98"/><circle cx="424.4" cy="125.2" r="0.98"/><circle cx="419.9" cy="73.1" r="0.98"/><circle cx="414.5" cy="93.5" r="0.98"/><circle cx="418.2" cy="106" r="0.98"/><circle cx="421.4" cy="99.1" r="0.98"/><circle cx="422.1" cy="85.3" r="0.98"/><circle cx="424" cy="112.9" r="0.98"/><circle cx="423.5" cy="91.8" r="0.98"/><circle cx="417.3" cy="116.9" r="0.98"/><circle cx="428.8" cy="85.6" r="0.98"/><circle cx="417.5" cy="113.5" r="0.98"/><circle cx="425" cy="98.1" r="0.98"/><circle cx="416" cy="90.7" r="0.98"/><circle cx="416.5" cy="99.8" r="0.98"/><circle cx="417.2" cy="90.8" r="0.98"/><circle cx="429.7" cy="110.7" r="0.98"/><circle cx="427.8" cy="134.9" r="0.98"/><circle cx="416.2" cy="79.5" r="0.98"/><circle cx="428" cy="111.7" r="0.98"/><circle cx="425.5" cy="59.5" r="0.98"/><circle cx="429.6" cy="120.5" r="0.98"/><circle cx="412.8" cy="92" r="0.98"/><circle cx="423.9" cy="107.5" r="0.98"/><circle cx="423.5" cy="96.1" r="0.98"/><circle cx="430" cy="112.4" r="0.98"/><circle cx="419.6" cy="76.6" r="0.98"/><circle cx="416.6" cy="101.2" r="0.98"/><circle cx="416.3" cy="126.6" r="0.98"/><circle cx="415.1" cy="103.7" r="0.98"/><circle cx="422.1" cy="104.2" r="0.98"/><circle cx="413" cy="109.8" r="0.98"/><circle cx="420.6" cy="96.1" r="0.98"/><circle cx="423.2" cy="122.5" r="0.98"/><circle cx="427" cy="53.9" r="0.98"/><circle cx="422.5" cy="125.2" r="0.98"/><circle cx="425" cy="93" r="0.98"/><circle cx="426.8" cy="81.5" r="0.98"/><circle cx="427" cy="106.5" r="0.98"/><circle cx="424.6" cy="104.7" r="0.98"/><circle cx="430" cy="106.9" r="0.98"/><circle cx="428.9" cy="119.1" r="0.98"/><circle cx="417.3" cy="110.4" r="0.98"/><circle cx="426.6" cy="117.3" r="0.98"/><circle cx="422.7" cy="47.3" r="0.98"/><circle cx="422.8" cy="141.4" r="0.98"/>
</g>
<g fill="none" stroke="#1e1e1e" stroke-width=".7">
<rect x="364.5" y="39.1" width="78.1" height="91.7"/>
<path d="M364.5 48.2h-3.6"/>
<path d="M364.5 61.1h-3.6"/>
<path d="M364.5 73.5h-3.6"/>
<path d="M364.5 85.8h-3.6"/>
<path d="M364.5 98h-3.6"/>
<path d="M364.5 110.3h-3.6"/>
<path d="M364.5 122.4h-3.6"/>
<path d="M385.8 130.8v3.3"/>
<rect x="371.5" y="88.8" width="28.8" height="17.7"/>
<path stroke="#3a3a3a" stroke-width=".58" d="M378.6 71.2h14.4 M378.6 125.4h14.4"/>
<path stroke="#000" stroke-width=".75" stroke-dasharray="1.5 1.3" d="M385.8 88.8V71.2 M385.8 106.5V125.4"/>
<path stroke="#0a0a0a" stroke-width="1.6" d="M371.5 98.5H400.3"/>
<path d="M421.5 130.8v3.3"/>
<rect x="407" y="78.2" width="29.5" height="24.7"/>
<path stroke="#3a3a3a" stroke-width=".58" d="M414.1 42.6h14.8 M414.1 127.3h14.8"/>
<path stroke="#000" stroke-width=".75" stroke-dasharray="1.5 1.3" d="M421.5 78.2V42.6 M421.5 102.9V127.3"/>
<path stroke="#0a0a0a" stroke-width="1.6" d="M407 94.5H436.5"/>
</g>
<g font-family="'Liberation Sans',Arial,sans-serif" fill="#1a1a1a" stroke="#1a1a1a" stroke-width=".12" text-anchor="middle">
<text font-size="5.6" transform="translate(356.9 48.2) rotate(-90) scale(0.72 1)">6.8</text>
<text font-size="5.6" transform="translate(356.9 61.1) rotate(-90) scale(0.72 1)">6.7</text>
<text font-size="5.6" transform="translate(356.9 73.5) rotate(-90) scale(0.72 1)">6.6</text>
<text font-size="5.6" transform="translate(356.9 85.8) rotate(-90) scale(0.72 1)">6.5</text>
<text font-size="5.6" transform="translate(356.9 98) rotate(-90) scale(0.72 1)">6.4</text>
<text font-size="5.6" transform="translate(356.9 110.3) rotate(-90) scale(0.72 1)">6.3</text>
<text font-size="5.6" transform="translate(356.9 122.4) rotate(-90) scale(0.72 1)">6.2</text>
<text stroke-width=".1" fill="#2a2a2a" font-size="5.9" text-anchor="start" textLength="11.2" lengthAdjust="spacingAndGlyphs" transform="translate(343.7 91.6) rotate(-90)">PD-L1</text>
<text stroke-width=".08" text-anchor="start" textLength="7.5" lengthAdjust="spacingAndGlyphs" font-size="4.9" x="382.1" y="140.8">Epi</text>
<text stroke-width=".08" text-anchor="start" textLength="9.8" lengthAdjust="spacingAndGlyphs" font-size="4.9" x="416.6" y="140.8">Mes</text>
</g>
<text font-family="'DejaVu Sans',Verdana,sans-serif" font-weight="bold" font-size="8" x="387.6" y="154.2" fill="#111" textLength="32.4" lengthAdjust="spacingAndGlyphs">Leipzig</text>
<text font-family="'DejaVu Sans',Verdana,sans-serif" font-size="8" x="381.8" y="35.3" fill="#222" stroke="#222" stroke-width=".07" textLength="42" lengthAdjust="spacingAndGlyphs">P = 0.004</text></g>
<g><g fill="none" stroke="#000" stroke-width=".62" transform="scale(1 .9)">
<circle cx="521.9" cy="99.4" r="0.98"/><circle cx="519.6" cy="77.3" r="0.98"/><circle cx="514.5" cy="78.9" r="0.98"/><circle cx="511.7" cy="111.9" r="0.98"/><circle cx="522" cy="92.7" r="0.98"/><circle cx="524.2" cy="104.5" r="0.98"/><circle cx="512.6" cy="137.9" r="0.98"/><circle cx="512.1" cy="114.6" r="0.98"/><circle cx="517.1" cy="64.1" r="0.98"/><circle cx="514.5" cy="121.2" r="0.98"/><circle cx="517.8" cy="98" r="0.98"/><circle cx="513.4" cy="100.1" r="0.98"/><circle cx="524.5" cy="95.8" r="0.98"/><circle cx="525.3" cy="112.9" r="0.98"/><circle cx="521.4" cy="62.2" r="0.98"/><circle cx="523.4" cy="77.6" r="0.98"/><circle cx="512.3" cy="72.4" r="0.98"/><circle cx="512.3" cy="99.8" r="0.98"/><circle cx="521.4" cy="113.7" r="0.98"/><circle cx="514.1" cy="80.5" r="0.98"/><circle cx="510.8" cy="108.2" r="0.98"/><circle cx="523.2" cy="61.6" r="0.98"/><circle cx="517.4" cy="73.6" r="0.98"/><circle cx="515.4" cy="86.3" r="0.98"/><circle cx="513.6" cy="126.8" r="0.98"/><circle cx="513" cy="88.5" r="0.98"/><circle cx="515.4" cy="102.3" r="0.98"/><circle cx="522.1" cy="73.4" r="0.98"/><circle cx="524.3" cy="83.3" r="0.98"/><circle cx="524.7" cy="71.1" r="0.98"/><circle cx="519.9" cy="108.9" r="0.98"/><circle cx="511.8" cy="106.6" r="0.98"/><circle cx="522.5" cy="110.9" r="0.98"/><circle cx="517.3" cy="92.6" r="0.98"/><circle cx="524.9" cy="108" r="0.98"/><circle cx="518.7" cy="109.8" r="0.98"/><circle cx="513.2" cy="68.6" r="0.98"/><circle cx="514.5" cy="71.2" r="0.98"/><circle cx="518.8" cy="88.2" r="0.98"/><circle cx="523.9" cy="103.1" r="0.98"/><circle cx="525.1" cy="86.3" r="0.98"/><circle cx="524.9" cy="110.5" r="0.98"/><circle cx="518.6" cy="73.5" r="0.98"/><circle cx="512.2" cy="79.9" r="0.98"/><circle cx="519.9" cy="89.9" r="0.98"/><circle cx="516" cy="123.7" r="0.98"/><circle cx="520" cy="102.8" r="0.98"/><circle cx="515.8" cy="113.3" r="0.98"/><circle cx="515" cy="116.9" r="0.98"/><circle cx="511" cy="94.2" r="0.98"/><circle cx="511.9" cy="99.3" r="0.98"/><circle cx="520.3" cy="117.2" r="0.98"/><circle cx="520.9" cy="122.4" r="0.98"/><circle cx="524.8" cy="73.7" r="0.98"/><circle cx="519" cy="86.2" r="0.98"/><circle cx="519.1" cy="58.1" r="0.98"/><circle cx="510.8" cy="116" r="0.98"/><circle cx="511.9" cy="77.2" r="0.98"/><circle cx="514.8" cy="129.5" r="0.98"/><circle cx="524.9" cy="111.4" r="0.98"/><circle cx="521" cy="90.5" r="0.98"/><circle cx="512.4" cy="67.2" r="0.98"/><circle cx="520.4" cy="81.7" r="0.98"/><circle cx="525.4" cy="108.8" r="0.98"/><circle cx="512.9" cy="114.9" r="0.98"/><circle cx="518.7" cy="114.4" r="0.98"/><circle cx="512.4" cy="80.8" r="0.98"/><circle cx="512.4" cy="83.9" r="0.98"/><circle cx="517.9" cy="96.2" r="0.98"/><circle cx="518.8" cy="104.4" r="0.98"/><circle cx="510.9" cy="89" r="0.98"/><circle cx="513.7" cy="91.2" r="0.98"/><circle cx="513.8" cy="94.2" r="0.98"/><circle cx="517.6" cy="58.1" r="0.98"/><circle cx="513.7" cy="76.2" r="0.98"/><circle cx="522.5" cy="124.1" r="0.98"/><circle cx="519.2" cy="50.6" r="0.98"/><circle cx="511.1" cy="91.3" r="0.98"/><circle cx="520.2" cy="88.2" r="0.98"/><circle cx="514.9" cy="85.2" r="0.98"/><circle cx="512.6" cy="107.2" r="0.98"/><circle cx="515.1" cy="86.8" r="0.98"/><circle cx="512.7" cy="98.4" r="0.98"/><circle cx="512.4" cy="73.5" r="0.98"/><circle cx="519.9" cy="99.8" r="0.98"/><circle cx="518" cy="83.6" r="0.98"/><circle cx="521" cy="68" r="0.98"/><circle cx="513" cy="113.8" r="0.98"/><circle cx="512.1" cy="121.6" r="0.98"/><circle cx="510.3" cy="105.2" r="0.98"/><circle cx="511.5" cy="82.3" r="0.98"/><circle cx="525.6" cy="100.8" r="0.98"/><circle cx="513.5" cy="89.3" r="0.98"/><circle cx="520.5" cy="65" r="0.98"/><circle cx="518.6" cy="88.2" r="0.98"/><circle cx="524.5" cy="99.1" r="0.98"/><circle cx="513.5" cy="70.9" r="0.98"/><circle cx="517.8" cy="92.5" r="0.98"/><circle cx="522.7" cy="105.4" r="0.98"/><circle cx="513.3" cy="51" r="0.98"/><circle cx="520.8" cy="72.7" r="0.98"/><circle cx="524.8" cy="116" r="0.98"/><circle cx="511.9" cy="85" r="0.98"/><circle cx="511.9" cy="60" r="0.98"/><circle cx="521" cy="95.5" r="0.98"/><circle cx="521.1" cy="75.4" r="0.98"/><circle cx="510.6" cy="72.7" r="0.98"/><circle cx="521.5" cy="89.4" r="0.98"/><circle cx="523.7" cy="100.4" r="0.98"/><circle cx="511.9" cy="101.8" r="0.98"/><circle cx="510.7" cy="91.4" r="0.98"/><circle cx="523.8" cy="90.7" r="0.98"/><circle cx="522.2" cy="112.1" r="0.98"/><circle cx="519" cy="135.7" r="0.98"/><circle cx="518.8" cy="125" r="0.98"/><circle cx="518.1" cy="57.2" r="0.98"/><circle cx="518.1" cy="82.9" r="0.98"/><circle cx="513.7" cy="110.2" r="0.98"/><circle cx="516.7" cy="70.5" r="0.98"/><circle cx="512.9" cy="92.6" r="0.98"/><circle cx="521.1" cy="98.2" r="0.98"/><circle cx="518.1" cy="129.2" r="0.98"/><circle cx="516.1" cy="72.6" r="0.98"/><circle cx="516.4" cy="82.3" r="0.98"/><circle cx="521.5" cy="102.6" r="0.98"/><circle cx="517.2" cy="73" r="0.98"/><circle cx="521.9" cy="86.1" r="0.98"/><circle cx="513.5" cy="111.5" r="0.98"/><circle cx="520.7" cy="86.4" r="0.98"/><circle cx="520.6" cy="123.3" r="0.98"/><circle cx="510.9" cy="76.1" r="0.98"/><circle cx="518.3" cy="99.8" r="0.98"/><circle cx="514.3" cy="130.8" r="0.98"/><circle cx="511.8" cy="85.2" r="0.98"/><circle cx="515.8" cy="94.2" r="0.98"/><circle cx="517.7" cy="71" r="0.98"/><circle cx="522.9" cy="125.8" r="0.98"/><circle cx="516.8" cy="70.4" r="0.98"/><circle cx="512.7" cy="80.6" r="0.98"/><circle cx="524.6" cy="90.2" r="0.98"/><circle cx="523.7" cy="113.1" r="0.98"/><circle cx="513.8" cy="61" r="0.98"/><circle cx="524.2" cy="99.9" r="0.98"/><circle cx="516.3" cy="85.6" r="0.98"/><circle cx="516.2" cy="92.3" r="0.98"/><circle cx="510.2" cy="88.4" r="0.98"/><circle cx="520.7" cy="90.9" r="0.98"/><circle cx="513.3" cy="111.8" r="0.98"/><circle cx="514.7" cy="80.6" r="0.98"/><circle cx="523" cy="69.8" r="0.98"/><circle cx="519.1" cy="95.2" r="0.98"/><circle cx="511.4" cy="68" r="0.98"/><circle cx="518.1" cy="76.8" r="0.98"/><circle cx="513.7" cy="72.6" r="0.98"/><circle cx="523.9" cy="77.1" r="0.98"/><circle cx="525.5" cy="83.4" r="0.98"/><circle cx="519.3" cy="83.6" r="0.98"/><circle cx="510.8" cy="81.4" r="0.98"/><circle cx="522.2" cy="98.5" r="0.98"/><circle cx="525.3" cy="78.7" r="0.98"/><circle cx="519.8" cy="82.5" r="0.98"/><circle cx="523.2" cy="102.9" r="0.98"/><circle cx="512.3" cy="121.9" r="0.98"/><circle cx="521.5" cy="70.8" r="0.98"/><circle cx="517.3" cy="84.1" r="0.98"/><circle cx="510" cy="91.8" r="0.98"/><circle cx="516.9" cy="77.4" r="0.98"/><circle cx="514.6" cy="103.5" r="0.98"/><circle cx="518.1" cy="86.9" r="0.98"/><circle cx="513.8" cy="66.9" r="0.98"/><circle cx="515.9" cy="123.5" r="0.98"/><circle cx="514.7" cy="74.4" r="0.98"/><circle cx="524.7" cy="76.6" r="0.98"/><circle cx="518.4" cy="72" r="0.98"/><circle cx="515.4" cy="74.5" r="0.98"/><circle cx="525" cy="104.1" r="0.98"/><circle cx="516.4" cy="76" r="0.98"/><circle cx="517.1" cy="78" r="0.98"/><circle cx="514.1" cy="69.1" r="0.98"/><circle cx="516.2" cy="132" r="0.98"/><circle cx="510.6" cy="103.1" r="0.98"/><circle cx="520.3" cy="65.3" r="0.98"/><circle cx="517.5" cy="85.3" r="0.98"/><circle cx="520.9" cy="79.9" r="0.98"/><circle cx="520" cy="68.8" r="0.98"/><circle cx="518" cy="83.6" r="0.98"/><circle cx="518.7" cy="84.8" r="0.98"/><circle cx="512.8" cy="66.9" r="0.98"/><circle cx="520.7" cy="89.5" r="0.98"/><circle cx="518.9" cy="120.4" r="0.98"/><circle cx="517.1" cy="70.8" r="0.98"/><circle cx="516" cy="125.6" r="0.98"/><circle cx="525.1" cy="79.7" r="0.98"/><circle cx="519.7" cy="98.1" r="0.98"/><circle cx="524.7" cy="85" r="0.98"/><circle cx="523.4" cy="94.5" r="0.98"/><circle cx="522.9" cy="77.8" r="0.98"/><circle cx="517.1" cy="137.9" r="0.98"/><circle cx="520.9" cy="96.7" r="0.98"/><circle cx="524.1" cy="101.7" r="0.98"/><circle cx="510.6" cy="82.7" r="0.98"/><circle cx="519.8" cy="85.6" r="0.98"/><circle cx="512.5" cy="89.3" r="0.98"/><circle cx="524.2" cy="84.7" r="0.98"/><circle cx="524.1" cy="140.6" r="0.98"/><circle cx="524.6" cy="87.9" r="0.98"/><circle cx="521.4" cy="109.2" r="0.98"/><circle cx="518.6" cy="57.2" r="0.98"/><circle cx="523.1" cy="119.2" r="0.98"/><circle cx="522.4" cy="85.7" r="0.98"/><circle cx="513.5" cy="72.7" r="0.98"/><circle cx="523.1" cy="99.2" r="0.98"/><circle cx="520.5" cy="62.5" r="0.98"/><circle cx="525.1" cy="90" r="0.98"/><circle cx="518.1" cy="79.5" r="0.98"/><circle cx="521.2" cy="128.3" r="0.98"/><circle cx="515.7" cy="98.2" r="0.98"/><circle cx="520.2" cy="75.1" r="0.98"/><circle cx="518.2" cy="67.8" r="0.98"/><circle cx="518" cy="74.1" r="0.98"/><circle cx="513.2" cy="104.2" r="0.98"/><circle cx="512" cy="116.3" r="0.98"/><circle cx="519.8" cy="65.5" r="0.98"/><circle cx="513.7" cy="74.9" r="0.98"/><circle cx="510.5" cy="75.3" r="0.98"/><circle cx="518.7" cy="93.1" r="0.98"/><circle cx="519.6" cy="133.4" r="0.98"/><circle cx="523.6" cy="89.5" r="0.98"/><circle cx="520.6" cy="110.1" r="0.98"/><circle cx="524.2" cy="122.3" r="0.98"/><circle cx="511.8" cy="81.5" r="0.98"/><circle cx="513.6" cy="81.7" r="0.98"/><circle cx="516.1" cy="92.9" r="0.98"/><circle cx="513.1" cy="82.3" r="0.98"/><circle cx="518.4" cy="70.2" r="0.98"/><circle cx="511.5" cy="57.3" r="0.98"/><circle cx="513.1" cy="93.1" r="0.98"/><circle cx="518.5" cy="89.5" r="0.98"/><circle cx="521.9" cy="68.5" r="0.98"/><circle cx="519" cy="90.2" r="0.98"/><circle cx="515.9" cy="107.7" r="0.98"/><circle cx="520.6" cy="68" r="0.98"/><circle cx="518.7" cy="81.6" r="0.98"/><circle cx="523" cy="125.8" r="0.98"/><circle cx="514.3" cy="71.4" r="0.98"/><circle cx="517.7" cy="92" r="0.98"/><circle cx="514.8" cy="84.3" r="0.98"/><circle cx="521.1" cy="69.8" r="0.98"/><circle cx="514" cy="68.8" r="0.98"/><circle cx="521" cy="87.9" r="0.98"/><circle cx="525.6" cy="101.3" r="0.98"/><circle cx="516.7" cy="62.2" r="0.98"/><circle cx="516.2" cy="100.5" r="0.98"/><circle cx="518.1" cy="52.2" r="0.98"/><circle cx="517" cy="72.5" r="0.98"/><circle cx="512.9" cy="104.2" r="0.98"/><circle cx="523.7" cy="73.9" r="0.98"/><circle cx="517.3" cy="79.7" r="0.98"/><circle cx="514.2" cy="115.9" r="0.98"/><circle cx="515.8" cy="98" r="0.98"/><circle cx="525.4" cy="98.8" r="0.98"/><circle cx="523" cy="74.1" r="0.98"/><circle cx="512.5" cy="73.6" r="0.98"/><circle cx="513.3" cy="85.3" r="0.98"/><circle cx="520" cy="126.5" r="0.98"/><circle cx="515.3" cy="115.5" r="0.98"/><circle cx="515.3" cy="95.4" r="0.98"/><circle cx="522.4" cy="84.9" r="0.98"/><circle cx="518.6" cy="78.9" r="0.98"/><circle cx="511.7" cy="118.7" r="0.98"/><circle cx="511" cy="115.7" r="0.98"/><circle cx="516.3" cy="101.5" r="0.98"/><circle cx="516.6" cy="102.2" r="0.98"/><circle cx="524.9" cy="76.8" r="0.98"/><circle cx="516.9" cy="89.9" r="0.98"/><circle cx="520.1" cy="76.3" r="0.98"/><circle cx="516.2" cy="95.9" r="0.98"/><circle cx="510.7" cy="94" r="0.98"/><circle cx="523.7" cy="83.4" r="0.98"/><circle cx="514.8" cy="63.2" r="0.98"/><circle cx="516.5" cy="48" r="0.98"/><circle cx="518" cy="143.2" r="0.98"/><circle cx="524" cy="55.6" r="0.98"/><circle cx="525.5" cy="55.8" r="0.98"/><circle cx="519" cy="146.7" r="0.98"/>
</g>
<g fill="none" stroke="#b9b9b9" stroke-width=".62" transform="scale(1 .9)">
<circle cx="561.7" cy="73.7" r="0.98"/><circle cx="552.3" cy="84.3" r="0.98"/><circle cx="552.9" cy="64.4" r="0.98"/><circle cx="557.6" cy="91.2" r="0.98"/><circle cx="560.9" cy="64.7" r="0.98"/><circle cx="545.1" cy="75.3" r="0.98"/><circle cx="547.8" cy="61.3" r="0.98"/><circle cx="548.8" cy="74.4" r="0.98"/><circle cx="546.2" cy="81.5" r="0.98"/><circle cx="559.6" cy="74.8" r="0.98"/><circle cx="549.2" cy="81.5" r="0.98"/><circle cx="558.3" cy="80" r="0.98"/><circle cx="562" cy="78.7" r="0.98"/><circle cx="547.5" cy="59.5" r="0.98"/><circle cx="557.1" cy="66.3" r="0.98"/><circle cx="553.7" cy="85.3" r="0.98"/><circle cx="552.7" cy="71.2" r="0.98"/><circle cx="549.8" cy="72.2" r="0.98"/><circle cx="546.2" cy="91.2" r="0.98"/><circle cx="547" cy="97.1" r="0.98"/><circle cx="553.9" cy="82.7" r="0.98"/><circle cx="560.8" cy="97.1" r="0.98"/><circle cx="562.3" cy="72.1" r="0.98"/><circle cx="559.6" cy="80.3" r="0.98"/><circle cx="556.3" cy="102.5" r="0.98"/><circle cx="548.7" cy="118.1" r="0.98"/><circle cx="555.8" cy="68.9" r="0.98"/><circle cx="547.3" cy="60.8" r="0.98"/><circle cx="546.6" cy="89.9" r="0.98"/><circle cx="545.8" cy="69.7" r="0.98"/><circle cx="561.5" cy="65.1" r="0.98"/><circle cx="557.2" cy="70.3" r="0.98"/><circle cx="556.5" cy="91.3" r="0.98"/><circle cx="548.5" cy="67.1" r="0.98"/><circle cx="562.2" cy="92.7" r="0.98"/><circle cx="559.6" cy="105.2" r="0.98"/><circle cx="558.3" cy="81.6" r="0.98"/><circle cx="559.7" cy="118.2" r="0.98"/><circle cx="558.9" cy="72.4" r="0.98"/><circle cx="559.3" cy="77.2" r="0.98"/><circle cx="559.8" cy="100.4" r="0.98"/><circle cx="555" cy="88" r="0.98"/><circle cx="550.8" cy="75.2" r="0.98"/><circle cx="549" cy="69.8" r="0.98"/><circle cx="551" cy="109.2" r="0.98"/><circle cx="551.9" cy="87.6" r="0.98"/><circle cx="552.7" cy="71.9" r="0.98"/><circle cx="551.9" cy="54.6" r="0.98"/><circle cx="562.3" cy="80.1" r="0.98"/><circle cx="546.4" cy="82.3" r="0.98"/><circle cx="555.3" cy="86.9" r="0.98"/><circle cx="562.5" cy="82.7" r="0.98"/><circle cx="562.4" cy="70.8" r="0.98"/><circle cx="545.9" cy="110.4" r="0.98"/><circle cx="558.9" cy="110.3" r="0.98"/><circle cx="548.4" cy="117.9" r="0.98"/><circle cx="549.6" cy="93.8" r="0.98"/><circle cx="555.1" cy="74.4" r="0.98"/><circle cx="555.9" cy="112.2" r="0.98"/><circle cx="554.9" cy="115.3" r="0.98"/><circle cx="561.3" cy="70.3" r="0.98"/><circle cx="557.5" cy="72.2" r="0.98"/><circle cx="556.4" cy="93.3" r="0.98"/><circle cx="552.9" cy="115.1" r="0.98"/><circle cx="558.4" cy="73" r="0.98"/><circle cx="559.1" cy="67.3" r="0.98"/><circle cx="557" cy="69.9" r="0.98"/><circle cx="553.7" cy="90" r="0.98"/><circle cx="562" cy="76.9" r="0.98"/><circle cx="555.9" cy="116.5" r="0.98"/><circle cx="562.3" cy="74" r="0.98"/><circle cx="545.5" cy="68.7" r="0.98"/><circle cx="552.2" cy="75.3" r="0.98"/><circle cx="558.2" cy="116.4" r="0.98"/><circle cx="549.3" cy="102.9" r="0.98"/><circle cx="556.3" cy="68.3" r="0.98"/><circle cx="550.5" cy="83.4" r="0.98"/><circle cx="550.9" cy="96.1" r="0.98"/><circle cx="546.3" cy="82.1" r="0.98"/><circle cx="556.9" cy="58.8" r="0.98"/><circle cx="559.7" cy="100.4" r="0.98"/><circle cx="551.7" cy="85.2" r="0.98"/><circle cx="556" cy="81.3" r="0.98"/><circle cx="553.7" cy="69.2" r="0.98"/><circle cx="546.5" cy="78.8" r="0.98"/><circle cx="546.8" cy="90.9" r="0.98"/><circle cx="560" cy="108.5" r="0.98"/><circle cx="560.8" cy="82.7" r="0.98"/><circle cx="549.7" cy="88.6" r="0.98"/><circle cx="549.4" cy="102.3" r="0.98"/><circle cx="551.9" cy="120.8" r="0.98"/><circle cx="550.7" cy="81" r="0.98"/><circle cx="560.8" cy="110.5" r="0.98"/><circle cx="562.2" cy="104.9" r="0.98"/><circle cx="553.1" cy="73" r="0.98"/><circle cx="556.1" cy="90.1" r="0.98"/><circle cx="561" cy="113.5" r="0.98"/><circle cx="550.5" cy="77.8" r="0.98"/><circle cx="546.4" cy="115.9" r="0.98"/><circle cx="559.2" cy="95.6" r="0.98"/><circle cx="557.5" cy="75" r="0.98"/><circle cx="555.7" cy="92.3" r="0.98"/><circle cx="558" cy="52.6" r="0.98"/><circle cx="549.6" cy="108.6" r="0.98"/><circle cx="559.2" cy="96.5" r="0.98"/><circle cx="554.9" cy="73.8" r="0.98"/><circle cx="549.6" cy="86" r="0.98"/><circle cx="561.9" cy="81.3" r="0.98"/><circle cx="554.7" cy="74.7" r="0.98"/><circle cx="546.2" cy="99.6" r="0.98"/><circle cx="550.2" cy="78.1" r="0.98"/><circle cx="555.3" cy="91.4" r="0.98"/><circle cx="547.3" cy="77" r="0.98"/><circle cx="559.2" cy="105.4" r="0.98"/><circle cx="549.5" cy="58.6" r="0.98"/><circle cx="560.4" cy="72.9" r="0.98"/><circle cx="558.3" cy="110.8" r="0.98"/><circle cx="559.5" cy="102.4" r="0.98"/><circle cx="561.1" cy="100.5" r="0.98"/><circle cx="556.7" cy="58.9" r="0.98"/><circle cx="549.8" cy="97.7" r="0.98"/><circle cx="554.5" cy="67.6" r="0.98"/><circle cx="549.5" cy="63.7" r="0.98"/><circle cx="556.6" cy="115.4" r="0.98"/><circle cx="550.2" cy="78.1" r="0.98"/><circle cx="550.4" cy="58.8" r="0.98"/><circle cx="548.5" cy="119.1" r="0.98"/><circle cx="551" cy="77" r="0.98"/><circle cx="558.5" cy="86.5" r="0.98"/><circle cx="556.9" cy="77.7" r="0.98"/><circle cx="560.7" cy="81.9" r="0.98"/><circle cx="553" cy="61.7" r="0.98"/><circle cx="559.1" cy="76.7" r="0.98"/><circle cx="558.9" cy="95.1" r="0.98"/><circle cx="551.7" cy="85.7" r="0.98"/><circle cx="549.8" cy="75.4" r="0.98"/><circle cx="549.8" cy="86.4" r="0.98"/><circle cx="556.2" cy="100" r="0.98"/><circle cx="560.8" cy="59.3" r="0.98"/><circle cx="554.9" cy="60.7" r="0.98"/><circle cx="546.5" cy="83" r="0.98"/><circle cx="558.5" cy="98.1" r="0.98"/><circle cx="551.8" cy="64.7" r="0.98"/><circle cx="547.1" cy="97.8" r="0.98"/><circle cx="558.1" cy="94.8" r="0.98"/><circle cx="554.1" cy="91.7" r="0.98"/><circle cx="552.8" cy="72.2" r="0.98"/><circle cx="560.4" cy="56.4" r="0.98"/><circle cx="561.7" cy="66.4" r="0.98"/><circle cx="560" cy="64.7" r="0.98"/><circle cx="562.6" cy="72.8" r="0.98"/><circle cx="551.7" cy="67.4" r="0.98"/><circle cx="549.2" cy="113.2" r="0.98"/><circle cx="548.6" cy="102.9" r="0.98"/><circle cx="558.1" cy="86.5" r="0.98"/><circle cx="551.6" cy="72.5" r="0.98"/><circle cx="555.2" cy="81" r="0.98"/><circle cx="551.6" cy="109.6" r="0.98"/><circle cx="546" cy="75.6" r="0.98"/><circle cx="562.2" cy="101.6" r="0.98"/><circle cx="551.1" cy="74.7" r="0.98"/><circle cx="555.3" cy="66.7" r="0.98"/><circle cx="552.7" cy="124.9" r="0.98"/><circle cx="552.8" cy="75.8" r="0.98"/><circle cx="554.9" cy="104.2" r="0.98"/><circle cx="551" cy="74.6" r="0.98"/><circle cx="561" cy="86.3" r="0.98"/><circle cx="554.5" cy="79.5" r="0.98"/><circle cx="546" cy="104" r="0.98"/><circle cx="551.7" cy="71.7" r="0.98"/><circle cx="559.1" cy="109.5" r="0.98"/><circle cx="556.4" cy="66.1" r="0.98"/><circle cx="545.5" cy="75.1" r="0.98"/><circle cx="555.8" cy="60" r="0.98"/><circle cx="552.8" cy="77.5" r="0.98"/><circle cx="559.6" cy="78.9" r="0.98"/><circle cx="557.7" cy="74.2" r="0.98"/><circle cx="556.6" cy="75.7" r="0.98"/><circle cx="554.8" cy="64.7" r="0.98"/><circle cx="554.3" cy="61.7" r="0.98"/><circle cx="546.4" cy="87.3" r="0.98"/><circle cx="544.8" cy="79.1" r="0.98"/><circle cx="559.5" cy="55.6" r="0.98"/><circle cx="548.9" cy="85.7" r="0.98"/><circle cx="550.3" cy="99.3" r="0.98"/><circle cx="555.1" cy="102.6" r="0.98"/><circle cx="561.8" cy="110.3" r="0.98"/><circle cx="560.8" cy="80.4" r="0.98"/><circle cx="554.6" cy="82.2" r="0.98"/><circle cx="548.4" cy="80.8" r="0.98"/><circle cx="554.7" cy="100" r="0.98"/><circle cx="558.8" cy="87.9" r="0.98"/><circle cx="553.3" cy="82.1" r="0.98"/><circle cx="558.7" cy="81.2" r="0.98"/><circle cx="552.9" cy="112.5" r="0.98"/><circle cx="554.4" cy="89.1" r="0.98"/><circle cx="557.9" cy="94.4" r="0.98"/><circle cx="546.4" cy="77.6" r="0.98"/><circle cx="557.8" cy="70.4" r="0.98"/><circle cx="547" cy="97.8" r="0.98"/><circle cx="548.1" cy="111.7" r="0.98"/><circle cx="549.5" cy="82.2" r="0.98"/><circle cx="561.2" cy="106.9" r="0.98"/><circle cx="554.9" cy="82.3" r="0.98"/><circle cx="561" cy="60.7" r="0.98"/><circle cx="550.7" cy="100.6" r="0.98"/><circle cx="552.5" cy="81.3" r="0.98"/><circle cx="550.9" cy="120.7" r="0.98"/><circle cx="561.1" cy="78.4" r="0.98"/><circle cx="551.3" cy="80.7" r="0.98"/><circle cx="548" cy="75.6" r="0.98"/><circle cx="550.4" cy="68.9" r="0.98"/><circle cx="558.8" cy="92.8" r="0.98"/><circle cx="558.7" cy="107.7" r="0.98"/><circle cx="553.4" cy="120.4" r="0.98"/><circle cx="555.6" cy="62.9" r="0.98"/><circle cx="560.6" cy="60.6" r="0.98"/><circle cx="549.6" cy="113.4" r="0.98"/><circle cx="559.9" cy="89" r="0.98"/><circle cx="548.8" cy="61.6" r="0.98"/><circle cx="552.4" cy="82.7" r="0.98"/><circle cx="545.5" cy="94.6" r="0.98"/><circle cx="547.6" cy="61.9" r="0.98"/><circle cx="559.1" cy="73.8" r="0.98"/><circle cx="556.1" cy="80.8" r="0.98"/><circle cx="558.6" cy="92.3" r="0.98"/><circle cx="561.6" cy="75.3" r="0.98"/><circle cx="551.4" cy="54.1" r="0.98"/><circle cx="560.1" cy="113" r="0.98"/><circle cx="548.1" cy="50.4" r="0.98"/><circle cx="558.7" cy="96.1" r="0.98"/><circle cx="562.2" cy="89.9" r="0.98"/><circle cx="559" cy="78.5" r="0.98"/><circle cx="552.2" cy="95.1" r="0.98"/><circle cx="546.3" cy="110.6" r="0.98"/><circle cx="553.3" cy="109.9" r="0.98"/><circle cx="550.5" cy="106.8" r="0.98"/><circle cx="546.7" cy="105.7" r="0.98"/><circle cx="557.1" cy="86.1" r="0.98"/><circle cx="560.5" cy="48.9" r="0.98"/><circle cx="557.5" cy="76.9" r="0.98"/><circle cx="561.6" cy="85.2" r="0.98"/><circle cx="555.6" cy="80.8" r="0.98"/><circle cx="561.6" cy="83.1" r="0.98"/><circle cx="545.4" cy="79" r="0.98"/><circle cx="549.2" cy="59.4" r="0.98"/><circle cx="561.2" cy="81.6" r="0.98"/><circle cx="552.2" cy="91.7" r="0.98"/><circle cx="544.7" cy="87.7" r="0.98"/><circle cx="561.4" cy="65.2" r="0.98"/><circle cx="557.4" cy="83" r="0.98"/><circle cx="553.6" cy="78.2" r="0.98"/><circle cx="548.1" cy="57.2" r="0.98"/><circle cx="552.3" cy="85.2" r="0.98"/><circle cx="556.5" cy="81.3" r="0.98"/><circle cx="560.4" cy="104.9" r="0.98"/><circle cx="544.9" cy="79" r="0.98"/><circle cx="552.3" cy="79.5" r="0.98"/><circle cx="561.4" cy="75.7" r="0.98"/><circle cx="557.7" cy="66.7" r="0.98"/><circle cx="550.4" cy="104.1" r="0.98"/><circle cx="555.5" cy="89.4" r="0.98"/><circle cx="548.2" cy="107.3" r="0.98"/><circle cx="553.2" cy="47.7" r="0.98"/><circle cx="555.1" cy="128.1" r="0.98"/><circle cx="549" cy="130.6" r="0.98"/><circle cx="553" cy="134.4" r="0.98"/><circle cx="552.5" cy="140.6" r="0.98"/>
</g>
<g fill="none" stroke="#1e1e1e" stroke-width=".7">
<rect x="496.4" y="40.1" width="78.9" height="92.3"/>
<path d="M496.4 44.1h-3.6"/>
<path d="M496.4 56.5h-3.6"/>
<path d="M496.4 68.8h-3.6"/>
<path d="M496.4 81.2h-3.6"/>
<path d="M496.4 93.2h-3.6"/>
<path d="M496.4 105.6h-3.6"/>
<path d="M496.4 117.9h-3.6"/>
<path d="M496.4 130.3h-3.6"/>
<path d="M517.9 132.4v3.3"/>
<rect x="503.3" y="71.8" width="29.3" height="24.4"/>
<path stroke="#3a3a3a" stroke-width=".58" d="M510.6 43.2h14.7 M510.6 128.9h14.7"/>
<path stroke="#000" stroke-width=".75" stroke-dasharray="1.5 1.3" d="M517.9 71.8V43.2 M517.9 96.2V128.9"/>
<path stroke="#0a0a0a" stroke-width="1.6" d="M503.3 82.9H532.6"/>
<path d="M553.8 132.4v3.3"/>
<rect x="539.5" y="65.6" width="29.3" height="20.9"/>
<path stroke="#3a3a3a" stroke-width=".58" d="M546.5 42.9h14.6 M546.5 115.3h14.6"/>
<path stroke="#000" stroke-width=".75" stroke-dasharray="1.5 1.3" d="M553.8 65.6V42.9 M553.8 86.5V115.3"/>
<path stroke="#0a0a0a" stroke-width="1.6" d="M539.5 74.1H568.8"/>
</g>
<g font-family="'Liberation Sans',Arial,sans-serif" fill="#1a1a1a" stroke="#1a1a1a" stroke-width=".12" text-anchor="middle">
<text font-size="5.6" transform="translate(488.4 44.1) rotate(-90) scale(0.72 1)">9</text>
<text font-size="5.6" transform="translate(488.4 56.5) rotate(-90) scale(0.72 1)">8</text>
<text font-size="5.6" transform="translate(488.4 68.8) rotate(-90) scale(0.72 1)">7</text>
<text font-size="5.6" transform="translate(488.4 81.2) rotate(-90) scale(0.72 1)">6</text>
<text font-size="5.6" transform="translate(488.4 93.2) rotate(-90) scale(0.72 1)">5</text>
<text font-size="5.6" transform="translate(488.4 105.6) rotate(-90) scale(0.72 1)">4</text>
<text font-size="5.6" transform="translate(488.4 117.9) rotate(-90) scale(0.72 1)">3</text>
<text font-size="5.6" transform="translate(488.4 130.3) rotate(-90) scale(0.72 1)">2</text>
<text stroke-width=".1" fill="#2a2a2a" font-size="5.9" text-anchor="start" textLength="15.9" lengthAdjust="spacingAndGlyphs" transform="translate(475.8 94) rotate(-90)">CTLA-4</text>
<text stroke-width=".08" text-anchor="start" textLength="7.5" lengthAdjust="spacingAndGlyphs" font-size="4.9" x="514.1" y="142.6">Epi</text>
<text stroke-width=".08" text-anchor="start" textLength="9.8" lengthAdjust="spacingAndGlyphs" font-size="4.9" x="548.9" y="142.6">Mes</text>
</g>
<text font-family="'DejaVu Sans',Verdana,sans-serif" font-weight="bold" font-size="8" x="521.5" y="152.9" fill="#111" textLength="24" lengthAdjust="spacingAndGlyphs">TCGA</text>
<text font-family="'DejaVu Sans',Verdana,sans-serif" font-size="8" x="505.2" y="35.2" fill="#222" stroke="#222" stroke-width=".07" textLength="63" lengthAdjust="spacingAndGlyphs">P = 7.86 x 10<tspan font-size="5.6" dy="-2.6" stroke-width=".22">-8</tspan></text></g>
<g><g fill="none" stroke="#000" stroke-width=".62" transform="scale(1 .9)">
<circle cx="622.8" cy="116.4" r="0.98"/><circle cx="630.8" cy="108.4" r="0.98"/><circle cx="627.5" cy="124" r="0.98"/><circle cx="633.2" cy="129" r="0.98"/><circle cx="627.2" cy="119.8" r="0.98"/><circle cx="628.4" cy="124.9" r="0.98"/><circle cx="626.3" cy="95.1" r="0.98"/><circle cx="625.2" cy="116" r="0.98"/><circle cx="634.4" cy="96.2" r="0.98"/><circle cx="619.8" cy="102.9" r="0.98"/><circle cx="628.7" cy="121.5" r="0.98"/><circle cx="623.3" cy="99.2" r="0.98"/><circle cx="624.4" cy="84" r="0.98"/><circle cx="624.9" cy="83.6" r="0.98"/><circle cx="623.7" cy="86.7" r="0.98"/><circle cx="630.1" cy="91.2" r="0.98"/><circle cx="623.4" cy="123.1" r="0.98"/><circle cx="633" cy="112.1" r="0.98"/><circle cx="634.4" cy="123.6" r="0.98"/><circle cx="626.7" cy="121.8" r="0.98"/><circle cx="621.4" cy="86.4" r="0.98"/><circle cx="629.8" cy="117.9" r="0.98"/><circle cx="628.8" cy="81.8" r="0.98"/><circle cx="628.5" cy="87" r="0.98"/><circle cx="630.9" cy="109.4" r="0.98"/><circle cx="623.9" cy="74.2" r="0.98"/><circle cx="626.4" cy="97.3" r="0.98"/><circle cx="622.3" cy="114.9" r="0.98"/><circle cx="633.8" cy="125.8" r="0.98"/><circle cx="628.7" cy="77.2" r="0.98"/><circle cx="629.3" cy="91.3" r="0.98"/><circle cx="620.2" cy="98" r="0.98"/><circle cx="624.3" cy="100.7" r="0.98"/><circle cx="633.6" cy="112.6" r="0.98"/><circle cx="623.8" cy="110" r="0.98"/><circle cx="622.4" cy="128" r="0.98"/><circle cx="623" cy="78.4" r="0.98"/><circle cx="621.8" cy="96.9" r="0.98"/><circle cx="631.3" cy="101.9" r="0.98"/><circle cx="626.9" cy="96.1" r="0.98"/><circle cx="626.1" cy="104.4" r="0.98"/><circle cx="624.1" cy="139.4" r="0.98"/><circle cx="625.7" cy="130.4" r="0.98"/><circle cx="621.6" cy="105.8" r="0.98"/><circle cx="626.7" cy="123.2" r="0.98"/><circle cx="623.1" cy="126.2" r="0.98"/><circle cx="628" cy="97.5" r="0.98"/><circle cx="630.3" cy="89.6" r="0.98"/><circle cx="622.9" cy="98.7" r="0.98"/><circle cx="628.1" cy="114" r="0.98"/><circle cx="623.8" cy="109.3" r="0.98"/><circle cx="631.7" cy="96.7" r="0.98"/><circle cx="629.7" cy="118.8" r="0.98"/><circle cx="621.4" cy="79.3" r="0.98"/><circle cx="632.4" cy="108.5" r="0.98"/><circle cx="626.3" cy="126.6" r="0.98"/><circle cx="625.2" cy="84" r="0.98"/><circle cx="634.9" cy="106.5" r="0.98"/><circle cx="629.7" cy="105" r="0.98"/><circle cx="633.4" cy="103.2" r="0.98"/><circle cx="632" cy="101.2" r="0.98"/><circle cx="629.5" cy="115" r="0.98"/><circle cx="620.8" cy="111.7" r="0.98"/><circle cx="620.4" cy="120.4" r="0.98"/><circle cx="626.3" cy="114.7" r="0.98"/><circle cx="623.4" cy="116.7" r="0.98"/><circle cx="627.5" cy="94" r="0.98"/><circle cx="632.8" cy="93.2" r="0.98"/><circle cx="627.5" cy="104.2" r="0.98"/><circle cx="628.1" cy="99.3" r="0.98"/><circle cx="620.5" cy="121.8" r="0.98"/><circle cx="620" cy="119.2" r="0.98"/><circle cx="631.5" cy="96.5" r="0.98"/><circle cx="624.3" cy="93.2" r="0.98"/><circle cx="630.2" cy="111.9" r="0.98"/><circle cx="625.9" cy="115.7" r="0.98"/><circle cx="621.6" cy="102.2" r="0.98"/><circle cx="625.8" cy="98.1" r="0.98"/><circle cx="628.1" cy="94.9" r="0.98"/><circle cx="631.8" cy="96.6" r="0.98"/><circle cx="632.6" cy="92.3" r="0.98"/><circle cx="630.7" cy="138" r="0.98"/><circle cx="621.3" cy="113.7" r="0.98"/><circle cx="621.6" cy="90" r="0.98"/><circle cx="627.9" cy="115.7" r="0.98"/><circle cx="630.4" cy="95.3" r="0.98"/><circle cx="624.5" cy="117.7" r="0.98"/><circle cx="630.7" cy="79.1" r="0.98"/><circle cx="622" cy="118.3" r="0.98"/><circle cx="626.7" cy="118.7" r="0.98"/><circle cx="627.5" cy="116" r="0.98"/><circle cx="633.1" cy="119.9" r="0.98"/><circle cx="633" cy="104" r="0.98"/><circle cx="628.1" cy="122.8" r="0.98"/><circle cx="632" cy="104.7" r="0.98"/><circle cx="621.9" cy="77.9" r="0.98"/><circle cx="632.2" cy="105.2" r="0.98"/><circle cx="628.2" cy="110.3" r="0.98"/><circle cx="621.3" cy="124.6" r="0.98"/><circle cx="621.2" cy="119" r="0.98"/><circle cx="632" cy="99.2" r="0.98"/><circle cx="633.4" cy="127.2" r="0.98"/><circle cx="631.5" cy="98.2" r="0.98"/><circle cx="627.8" cy="108.7" r="0.98"/><circle cx="633.4" cy="119" r="0.98"/><circle cx="625.8" cy="123.7" r="0.98"/><circle cx="631.7" cy="102.7" r="0.98"/><circle cx="632" cy="107.4" r="0.98"/><circle cx="632.8" cy="91.9" r="0.98"/><circle cx="631.7" cy="126.6" r="0.98"/><circle cx="634.5" cy="114.9" r="0.98"/><circle cx="627.1" cy="90.1" r="0.98"/><circle cx="622.1" cy="122.8" r="0.98"/><circle cx="625.3" cy="103" r="0.98"/><circle cx="629.3" cy="134.9" r="0.98"/><circle cx="628.4" cy="105.1" r="0.98"/><circle cx="623.5" cy="105.2" r="0.98"/><circle cx="631.7" cy="79.9" r="0.98"/><circle cx="626.5" cy="123.9" r="0.98"/><circle cx="634.5" cy="98.2" r="0.98"/><circle cx="630.8" cy="117.2" r="0.98"/><circle cx="624.9" cy="115.8" r="0.98"/><circle cx="626.1" cy="105.9" r="0.98"/><circle cx="623.3" cy="127.3" r="0.98"/><circle cx="621.2" cy="76.1" r="0.98"/><circle cx="624.4" cy="91.8" r="0.98"/><circle cx="628.3" cy="115.4" r="0.98"/><circle cx="630.2" cy="116.5" r="0.98"/><circle cx="626.9" cy="131.1" r="0.98"/><circle cx="626.8" cy="108.5" r="0.98"/><circle cx="622.4" cy="113.3" r="0.98"/><circle cx="631.7" cy="129.3" r="0.98"/><circle cx="622.7" cy="88.8" r="0.98"/><circle cx="621.2" cy="106" r="0.98"/><circle cx="621.4" cy="97.4" r="0.98"/><circle cx="624.9" cy="124.8" r="0.98"/><circle cx="622.2" cy="115.2" r="0.98"/><circle cx="628.7" cy="119.9" r="0.98"/><circle cx="630.7" cy="125.6" r="0.98"/><circle cx="634.1" cy="116.2" r="0.98"/><circle cx="627.7" cy="70.3" r="0.98"/><circle cx="624.3" cy="72.9" r="0.98"/><circle cx="625.1" cy="114.9" r="0.98"/><circle cx="632.1" cy="140.5" r="0.98"/><circle cx="632" cy="94.5" r="0.98"/><circle cx="624.1" cy="77.6" r="0.98"/><circle cx="628.5" cy="91" r="0.98"/><circle cx="621" cy="103.7" r="0.98"/><circle cx="621.3" cy="129.1" r="0.98"/><circle cx="620.7" cy="114" r="0.98"/><circle cx="632" cy="115.8" r="0.98"/><circle cx="633.8" cy="98.2" r="0.98"/><circle cx="630" cy="114" r="0.98"/><circle cx="632.4" cy="124.5" r="0.98"/><circle cx="632.8" cy="98.8" r="0.98"/><circle cx="625.4" cy="69.7" r="0.98"/><circle cx="627.4" cy="141.2" r="0.98"/><circle cx="624" cy="65.6" r="0.98"/><circle cx="626" cy="67.2" r="0.98"/>
</g>
<g fill="none" stroke="#b9b9b9" stroke-width=".62" transform="scale(1 .9)">
<circle cx="662.1" cy="129" r="0.98"/><circle cx="654.4" cy="70" r="0.98"/><circle cx="666.9" cy="79.9" r="0.98"/><circle cx="669.8" cy="96.1" r="0.98"/><circle cx="658" cy="139.1" r="0.98"/><circle cx="660.6" cy="97" r="0.98"/><circle cx="662" cy="55.4" r="0.98"/><circle cx="656.2" cy="51.5" r="0.98"/><circle cx="662" cy="110.6" r="0.98"/><circle cx="659.9" cy="108.1" r="0.98"/><circle cx="661.3" cy="79.5" r="0.98"/><circle cx="659.8" cy="100.2" r="0.98"/><circle cx="665.4" cy="102.3" r="0.98"/><circle cx="670.7" cy="84.7" r="0.98"/><circle cx="660.7" cy="97" r="0.98"/><circle cx="664.9" cy="51" r="0.98"/><circle cx="666.3" cy="123.3" r="0.98"/><circle cx="661.7" cy="102.5" r="0.98"/><circle cx="669.7" cy="59.2" r="0.98"/><circle cx="664.1" cy="104.6" r="0.98"/><circle cx="667.5" cy="90.5" r="0.98"/><circle cx="666.2" cy="54.1" r="0.98"/><circle cx="662.1" cy="139.5" r="0.98"/><circle cx="669" cy="131.7" r="0.98"/><circle cx="671" cy="103.6" r="0.98"/><circle cx="654.6" cy="106.8" r="0.98"/><circle cx="654.4" cy="98" r="0.98"/><circle cx="669.6" cy="108.3" r="0.98"/><circle cx="671.4" cy="82.4" r="0.98"/><circle cx="659" cy="69.3" r="0.98"/><circle cx="654.4" cy="117.4" r="0.98"/><circle cx="663.1" cy="70" r="0.98"/><circle cx="656.7" cy="53.7" r="0.98"/><circle cx="661.3" cy="124.2" r="0.98"/><circle cx="671.6" cy="119.4" r="0.98"/><circle cx="670.7" cy="109.6" r="0.98"/><circle cx="654.5" cy="102" r="0.98"/><circle cx="666.2" cy="110" r="0.98"/><circle cx="670.8" cy="104.9" r="0.98"/><circle cx="654.6" cy="114.5" r="0.98"/><circle cx="671.9" cy="91.2" r="0.98"/><circle cx="668.9" cy="105" r="0.98"/><circle cx="667.2" cy="84.7" r="0.98"/><circle cx="668.4" cy="103.6" r="0.98"/><circle cx="655.6" cy="100.8" r="0.98"/><circle cx="669.2" cy="100.7" r="0.98"/><circle cx="656.1" cy="102.4" r="0.98"/><circle cx="667.8" cy="65.5" r="0.98"/><circle cx="664.6" cy="100.6" r="0.98"/><circle cx="671.6" cy="106" r="0.98"/><circle cx="660.2" cy="101.1" r="0.98"/><circle cx="655.4" cy="117.9" r="0.98"/><circle cx="660.5" cy="136.3" r="0.98"/><circle cx="667.6" cy="91.3" r="0.98"/><circle cx="669.3" cy="112.9" r="0.98"/><circle cx="664.4" cy="110.7" r="0.98"/><circle cx="655.7" cy="86.6" r="0.98"/><circle cx="656.2" cy="92.9" r="0.98"/><circle cx="665.2" cy="87.5" r="0.98"/><circle cx="666.6" cy="47.9" r="0.98"/><circle cx="664.3" cy="110" r="0.98"/><circle cx="658.9" cy="82.6" r="0.98"/><circle cx="670.6" cy="68.6" r="0.98"/><circle cx="659.1" cy="64.5" r="0.98"/><circle cx="663.8" cy="116" r="0.98"/><circle cx="670.6" cy="88.4" r="0.98"/><circle cx="668.1" cy="117.6" r="0.98"/><circle cx="654.5" cy="66.2" r="0.98"/><circle cx="655.9" cy="101.2" r="0.98"/><circle cx="666" cy="82.2" r="0.98"/><circle cx="654.8" cy="61.5" r="0.98"/><circle cx="660.9" cy="93.5" r="0.98"/><circle cx="658.6" cy="73.6" r="0.98"/><circle cx="661.5" cy="97.7" r="0.98"/><circle cx="669.3" cy="95.3" r="0.98"/><circle cx="663" cy="102.1" r="0.98"/><circle cx="662.3" cy="91" r="0.98"/><circle cx="663.1" cy="107.1" r="0.98"/><circle cx="656.1" cy="105.4" r="0.98"/><circle cx="665.3" cy="63.3" r="0.98"/><circle cx="661" cy="121" r="0.98"/><circle cx="670.6" cy="102.5" r="0.98"/><circle cx="660.3" cy="95.8" r="0.98"/><circle cx="669.6" cy="78.8" r="0.98"/><circle cx="671" cy="109.1" r="0.98"/><circle cx="664.4" cy="71.2" r="0.98"/><circle cx="655.7" cy="100.4" r="0.98"/><circle cx="657.6" cy="120.1" r="0.98"/><circle cx="665.6" cy="90.2" r="0.98"/><circle cx="668.9" cy="129.9" r="0.98"/><circle cx="657" cy="105.1" r="0.98"/><circle cx="657.2" cy="60.2" r="0.98"/><circle cx="665.7" cy="59.2" r="0.98"/><circle cx="655" cy="65.5" r="0.98"/><circle cx="664.3" cy="77" r="0.98"/><circle cx="658.9" cy="132.1" r="0.98"/><circle cx="663.6" cy="116.9" r="0.98"/><circle cx="661.8" cy="68.2" r="0.98"/><circle cx="669.3" cy="105.6" r="0.98"/><circle cx="667.1" cy="101.6" r="0.98"/><circle cx="670.8" cy="126" r="0.98"/><circle cx="664.4" cy="99.1" r="0.98"/><circle cx="658.3" cy="76.1" r="0.98"/><circle cx="662.9" cy="104.5" r="0.98"/><circle cx="666.4" cy="49.2" r="0.98"/><circle cx="658.8" cy="103.5" r="0.98"/><circle cx="660.5" cy="96" r="0.98"/><circle cx="659.9" cy="59.8" r="0.98"/><circle cx="662.8" cy="90.8" r="0.98"/><circle cx="660.3" cy="81.9" r="0.98"/><circle cx="663.6" cy="119.7" r="0.98"/><circle cx="664.2" cy="94" r="0.98"/><circle cx="659.1" cy="101.3" r="0.98"/><circle cx="663" cy="76.1" r="0.98"/><circle cx="655.1" cy="131.8" r="0.98"/><circle cx="661.3" cy="89.9" r="0.98"/><circle cx="671.2" cy="68.9" r="0.98"/><circle cx="662.9" cy="47.1" r="0.98"/><circle cx="663.4" cy="140.2" r="0.98"/>
</g>
<g fill="none" stroke="#1e1e1e" stroke-width=".7">
<rect x="606.5" y="39.1" width="77.6" height="91.7"/>
<path d="M606.5 51.4h-3.6"/>
<path d="M606.5 64.5h-3.6"/>
<path d="M606.5 77.7h-3.6"/>
<path d="M606.5 91.1h-3.6"/>
<path d="M606.5 104.7h-3.6"/>
<path d="M606.5 117.9h-3.6"/>
<path d="M627.3 130.8v3.3"/>
<rect x="612.6" y="89.2" width="29.2" height="17.8"/>
<path stroke="#3a3a3a" stroke-width=".58" d="M620 62.7h14.6 M620 127.1h14.6"/>
<path stroke="#000" stroke-width=".75" stroke-dasharray="1.5 1.3" d="M627.3 89.2V62.7 M627.3 107V127.1"/>
<path stroke="#0a0a0a" stroke-width="1.6" d="M612.6 98.5H641.8"/>
<path d="M663.1 130.8v3.3"/>
<rect x="648.5" y="69.1" width="29.4" height="32.9"/>
<path stroke="#3a3a3a" stroke-width=".58" d="M655.8 42.4h14.7 M655.8 126.2h14.7"/>
<path stroke="#000" stroke-width=".75" stroke-dasharray="1.5 1.3" d="M663.1 69.1V42.4 M663.1 102V126.2"/>
<path stroke="#0a0a0a" stroke-width="1.6" d="M648.5 88.3H677.9"/>
</g>
<g font-family="'Liberation Sans',Arial,sans-serif" fill="#1a1a1a" stroke="#1a1a1a" stroke-width=".12" text-anchor="middle">
<text font-size="5.6" transform="translate(598.9 51.4) rotate(-90) scale(0.72 1)">9.5</text>
<text font-size="5.6" transform="translate(598.9 64.5) rotate(-90) scale(0.72 1)">9.0</text>
<text font-size="5.6" transform="translate(598.9 77.7) rotate(-90) scale(0.72 1)">8.5</text>
<text font-size="5.6" transform="translate(598.9 91.1) rotate(-90) scale(0.72 1)">8.0</text>
<text font-size="5.6" transform="translate(598.9 104.7) rotate(-90) scale(0.72 1)">7.5</text>
<text font-size="5.6" transform="translate(598.9 117.9) rotate(-90) scale(0.72 1)">7.0</text>
<text stroke-width=".1" fill="#2a2a2a" font-size="5.9" text-anchor="start" textLength="15.9" lengthAdjust="spacingAndGlyphs" transform="translate(585.5 92.4) rotate(-90)">CTLA-4</text>
<text stroke-width=".08" text-anchor="start" textLength="7.5" lengthAdjust="spacingAndGlyphs" font-size="4.9" x="623.5" y="140.5">Epi</text>
<text stroke-width=".08" text-anchor="start" textLength="9.8" lengthAdjust="spacingAndGlyphs" font-size="4.9" x="658.2" y="140.5">Mes</text>
</g>
<text font-family="'DejaVu Sans',Verdana,sans-serif" font-weight="bold" font-size="8" x="628.3" y="153.6" fill="#111" textLength="31.8" lengthAdjust="spacingAndGlyphs">Leipzig</text>
<text font-family="'DejaVu Sans',Verdana,sans-serif" font-size="8" x="615.3" y="35.6" fill="#222" stroke="#222" stroke-width=".07" textLength="64.4" lengthAdjust="spacingAndGlyphs">P = 8.19 x 10<tspan font-size="5.6" dy="-2.6" stroke-width=".22">-7</tspan></text></g>
<g><g fill="none" stroke="#000" stroke-width=".62" transform="scale(1 .9)">
<circle cx="53.1" cy="300" r="0.98"/><circle cx="41.4" cy="261" r="0.98"/><circle cx="42.1" cy="310.1" r="0.98"/><circle cx="46.2" cy="287.2" r="0.98"/><circle cx="46.2" cy="291.4" r="0.98"/><circle cx="48" cy="283.9" r="0.98"/><circle cx="42.4" cy="298.6" r="0.98"/><circle cx="46.8" cy="278.7" r="0.98"/><circle cx="51.5" cy="289.4" r="0.98"/><circle cx="46.2" cy="316.1" r="0.98"/><circle cx="47.8" cy="312.9" r="0.98"/><circle cx="42.9" cy="298.2" r="0.98"/><circle cx="41.1" cy="278.8" r="0.98"/><circle cx="53.6" cy="263.3" r="0.98"/><circle cx="47.9" cy="263.2" r="0.98"/><circle cx="54.7" cy="269.2" r="0.98"/><circle cx="48.3" cy="291.9" r="0.98"/><circle cx="49.5" cy="316.9" r="0.98"/><circle cx="53.1" cy="244.7" r="0.98"/><circle cx="48.4" cy="280.1" r="0.98"/><circle cx="47.6" cy="293.1" r="0.98"/><circle cx="48.8" cy="261.7" r="0.98"/><circle cx="53" cy="257.4" r="0.98"/><circle cx="46.6" cy="255.1" r="0.98"/><circle cx="54.6" cy="279.5" r="0.98"/><circle cx="48.3" cy="249.5" r="0.98"/><circle cx="42.3" cy="299.8" r="0.98"/><circle cx="48.5" cy="267.4" r="0.98"/><circle cx="55.8" cy="288" r="0.98"/><circle cx="49.9" cy="266.7" r="0.98"/><circle cx="54.9" cy="280.7" r="0.98"/><circle cx="53.7" cy="260.9" r="0.98"/><circle cx="41.6" cy="273.1" r="0.98"/><circle cx="55.6" cy="278.4" r="0.98"/><circle cx="48.5" cy="279.7" r="0.98"/><circle cx="41.9" cy="286.6" r="0.98"/><circle cx="53.2" cy="299.9" r="0.98"/><circle cx="42.2" cy="287.5" r="0.98"/><circle cx="50.3" cy="266.8" r="0.98"/><circle cx="55.6" cy="286.5" r="0.98"/><circle cx="51.9" cy="309.4" r="0.98"/><circle cx="55.3" cy="257.1" r="0.98"/><circle cx="42.5" cy="292.4" r="0.98"/><circle cx="50.1" cy="291.5" r="0.98"/><circle cx="55.7" cy="284" r="0.98"/><circle cx="44.5" cy="280.6" r="0.98"/><circle cx="53.8" cy="311.6" r="0.98"/><circle cx="49.8" cy="306.8" r="0.98"/><circle cx="52.2" cy="260.3" r="0.98"/><circle cx="42.4" cy="300.2" r="0.98"/><circle cx="42" cy="276.4" r="0.98"/><circle cx="52.8" cy="274.5" r="0.98"/><circle cx="49.3" cy="317.2" r="0.98"/><circle cx="49.1" cy="242.6" r="0.98"/><circle cx="49.4" cy="297.2" r="0.98"/><circle cx="50.3" cy="298.6" r="0.98"/><circle cx="47.8" cy="266.3" r="0.98"/><circle cx="40.7" cy="290.6" r="0.98"/><circle cx="53.2" cy="292.8" r="0.98"/><circle cx="50.1" cy="257.2" r="0.98"/><circle cx="48.7" cy="279.9" r="0.98"/><circle cx="52" cy="258.2" r="0.98"/><circle cx="53.4" cy="271.9" r="0.98"/><circle cx="54.9" cy="294.5" r="0.98"/><circle cx="41.4" cy="256.6" r="0.98"/><circle cx="50.9" cy="294.7" r="0.98"/><circle cx="43.5" cy="254" r="0.98"/><circle cx="52.6" cy="270.4" r="0.98"/><circle cx="43.8" cy="289.9" r="0.98"/><circle cx="40.8" cy="276.3" r="0.98"/><circle cx="48.9" cy="327.1" r="0.98"/><circle cx="47.7" cy="303.6" r="0.98"/><circle cx="55.1" cy="285.7" r="0.98"/><circle cx="41" cy="260" r="0.98"/><circle cx="48.3" cy="272.2" r="0.98"/><circle cx="54.2" cy="255.7" r="0.98"/><circle cx="51.4" cy="285.6" r="0.98"/><circle cx="50.6" cy="283.7" r="0.98"/><circle cx="53.1" cy="305.1" r="0.98"/><circle cx="41" cy="286.3" r="0.98"/><circle cx="43.3" cy="261.1" r="0.98"/><circle cx="54.7" cy="296.9" r="0.98"/><circle cx="42.2" cy="306" r="0.98"/><circle cx="52.5" cy="253.6" r="0.98"/><circle cx="51.1" cy="257.3" r="0.98"/><circle cx="42.2" cy="250.9" r="0.98"/><circle cx="53.5" cy="311" r="0.98"/><circle cx="49.4" cy="273.3" r="0.98"/><circle cx="47.6" cy="275.5" r="0.98"/><circle cx="50.6" cy="271.4" r="0.98"/><circle cx="42.3" cy="312.9" r="0.98"/><circle cx="48.8" cy="302.7" r="0.98"/><circle cx="51.4" cy="290.1" r="0.98"/><circle cx="55.8" cy="280.4" r="0.98"/><circle cx="45.6" cy="302.4" r="0.98"/><circle cx="51.4" cy="296" r="0.98"/><circle cx="51.6" cy="277.6" r="0.98"/><circle cx="43.2" cy="261.2" r="0.98"/><circle cx="44.6" cy="276.9" r="0.98"/><circle cx="44.5" cy="287.9" r="0.98"/><circle cx="48" cy="284.1" r="0.98"/><circle cx="52.5" cy="289.8" r="0.98"/><circle cx="47.9" cy="273.2" r="0.98"/><circle cx="48.5" cy="311.1" r="0.98"/><circle cx="45.2" cy="277.4" r="0.98"/><circle cx="49.3" cy="292" r="0.98"/><circle cx="46.4" cy="287.4" r="0.98"/><circle cx="41.3" cy="306.4" r="0.98"/><circle cx="50.5" cy="299.2" r="0.98"/><circle cx="52.9" cy="271.3" r="0.98"/><circle cx="49.8" cy="295.4" r="0.98"/><circle cx="48.9" cy="285.5" r="0.98"/><circle cx="52.7" cy="323.6" r="0.98"/><circle cx="41.8" cy="265.6" r="0.98"/><circle cx="51.1" cy="292.2" r="0.98"/><circle cx="42.6" cy="243.4" r="0.98"/><circle cx="51.1" cy="269.8" r="0.98"/><circle cx="44" cy="298.4" r="0.98"/><circle cx="45.7" cy="281.1" r="0.98"/><circle cx="45.3" cy="330" r="0.98"/><circle cx="42.8" cy="315.6" r="0.98"/><circle cx="54.9" cy="260.8" r="0.98"/><circle cx="46.1" cy="292.9" r="0.98"/><circle cx="53.6" cy="275.1" r="0.98"/><circle cx="41.4" cy="283.9" r="0.98"/><circle cx="47.1" cy="294.5" r="0.98"/><circle cx="48.6" cy="298.7" r="0.98"/><circle cx="40.7" cy="296.8" r="0.98"/><circle cx="50.5" cy="293.1" r="0.98"/><circle cx="54.4" cy="288.8" r="0.98"/><circle cx="47.8" cy="277.4" r="0.98"/><circle cx="41.4" cy="291.7" r="0.98"/><circle cx="51.6" cy="311.2" r="0.98"/><circle cx="53.3" cy="277.7" r="0.98"/><circle cx="53.3" cy="286.7" r="0.98"/><circle cx="50" cy="308.8" r="0.98"/><circle cx="45.5" cy="289.8" r="0.98"/><circle cx="52.4" cy="299.4" r="0.98"/><circle cx="41.3" cy="274.2" r="0.98"/><circle cx="41.5" cy="280.5" r="0.98"/><circle cx="53.6" cy="295" r="0.98"/><circle cx="50.2" cy="298.3" r="0.98"/><circle cx="48.6" cy="269" r="0.98"/><circle cx="48.3" cy="274" r="0.98"/><circle cx="47.1" cy="290.7" r="0.98"/><circle cx="54.2" cy="271.3" r="0.98"/><circle cx="50.6" cy="276.7" r="0.98"/><circle cx="52.2" cy="279.5" r="0.98"/><circle cx="47" cy="261" r="0.98"/><circle cx="55" cy="265.5" r="0.98"/><circle cx="42.4" cy="278.8" r="0.98"/><circle cx="41.4" cy="302.4" r="0.98"/><circle cx="46.3" cy="310" r="0.98"/><circle cx="45.3" cy="288.3" r="0.98"/><circle cx="45" cy="303.8" r="0.98"/><circle cx="45.3" cy="311.1" r="0.98"/><circle cx="49.1" cy="265.1" r="0.98"/><circle cx="41.8" cy="294.6" r="0.98"/><circle cx="42.9" cy="264.4" r="0.98"/><circle cx="45.8" cy="269.4" r="0.98"/><circle cx="44.5" cy="311.4" r="0.98"/><circle cx="51.1" cy="276.4" r="0.98"/><circle cx="44.3" cy="292.4" r="0.98"/><circle cx="49.9" cy="291.6" r="0.98"/><circle cx="47.3" cy="302.3" r="0.98"/><circle cx="46.5" cy="250.6" r="0.98"/><circle cx="42.7" cy="322.1" r="0.98"/><circle cx="46.2" cy="295.2" r="0.98"/><circle cx="44.4" cy="297.3" r="0.98"/><circle cx="48.3" cy="260.8" r="0.98"/><circle cx="54.9" cy="305.8" r="0.98"/><circle cx="41.9" cy="321.6" r="0.98"/><circle cx="55.5" cy="268.4" r="0.98"/><circle cx="47.3" cy="304.4" r="0.98"/><circle cx="42.9" cy="263.3" r="0.98"/><circle cx="54" cy="282.6" r="0.98"/><circle cx="54" cy="292.2" r="0.98"/><circle cx="53.2" cy="267.3" r="0.98"/><circle cx="50.5" cy="273.7" r="0.98"/><circle cx="48" cy="285" r="0.98"/><circle cx="53.2" cy="289" r="0.98"/><circle cx="52.9" cy="274.4" r="0.98"/><circle cx="50.2" cy="265.9" r="0.98"/><circle cx="48.2" cy="254.9" r="0.98"/><circle cx="47.8" cy="266.1" r="0.98"/><circle cx="47" cy="303.3" r="0.98"/><circle cx="41.3" cy="299.1" r="0.98"/><circle cx="45" cy="299.2" r="0.98"/><circle cx="54.9" cy="272.4" r="0.98"/><circle cx="49" cy="303.1" r="0.98"/><circle cx="41.3" cy="263" r="0.98"/><circle cx="40.8" cy="296.1" r="0.98"/><circle cx="43.3" cy="259.9" r="0.98"/><circle cx="48.5" cy="326.2" r="0.98"/><circle cx="53.4" cy="259.6" r="0.98"/><circle cx="53.5" cy="275.1" r="0.98"/><circle cx="41.5" cy="276.8" r="0.98"/><circle cx="44.1" cy="303.5" r="0.98"/><circle cx="50" cy="296.8" r="0.98"/><circle cx="54.5" cy="311.6" r="0.98"/><circle cx="54.3" cy="273" r="0.98"/><circle cx="52.1" cy="301.7" r="0.98"/><circle cx="55.6" cy="284.4" r="0.98"/><circle cx="46.1" cy="330.3" r="0.98"/><circle cx="52.7" cy="299.6" r="0.98"/><circle cx="46.8" cy="248.1" r="0.98"/><circle cx="53.9" cy="296.8" r="0.98"/><circle cx="41.1" cy="261.3" r="0.98"/><circle cx="42.6" cy="251" r="0.98"/><circle cx="44.2" cy="305.9" r="0.98"/><circle cx="46.8" cy="280.1" r="0.98"/><circle cx="48.9" cy="315" r="0.98"/><circle cx="47.7" cy="309.1" r="0.98"/><circle cx="51.2" cy="279.7" r="0.98"/><circle cx="52.1" cy="265.3" r="0.98"/><circle cx="46.3" cy="329.6" r="0.98"/><circle cx="53.8" cy="261.1" r="0.98"/><circle cx="43.4" cy="296.3" r="0.98"/><circle cx="53.8" cy="289.9" r="0.98"/><circle cx="45.8" cy="260.5" r="0.98"/><circle cx="45.1" cy="284.4" r="0.98"/><circle cx="46.6" cy="305.3" r="0.98"/><circle cx="51.4" cy="277.2" r="0.98"/><circle cx="50.5" cy="259.3" r="0.98"/><circle cx="48.9" cy="277.2" r="0.98"/><circle cx="43.5" cy="283" r="0.98"/><circle cx="53.7" cy="274.1" r="0.98"/><circle cx="48.4" cy="298.3" r="0.98"/><circle cx="45.2" cy="276.8" r="0.98"/><circle cx="49.7" cy="296.3" r="0.98"/><circle cx="48.5" cy="276.1" r="0.98"/><circle cx="45.4" cy="305.1" r="0.98"/><circle cx="50" cy="295.9" r="0.98"/><circle cx="43.3" cy="292.1" r="0.98"/><circle cx="53" cy="289.8" r="0.98"/><circle cx="47.7" cy="267.4" r="0.98"/><circle cx="49.1" cy="290" r="0.98"/><circle cx="50.1" cy="282.5" r="0.98"/><circle cx="47.8" cy="265.6" r="0.98"/><circle cx="53.5" cy="287.7" r="0.98"/><circle cx="45.3" cy="270.8" r="0.98"/><circle cx="54.9" cy="302.4" r="0.98"/><circle cx="55.4" cy="279.1" r="0.98"/><circle cx="43.6" cy="249.5" r="0.98"/><circle cx="40.5" cy="289.2" r="0.98"/><circle cx="47.7" cy="275.8" r="0.98"/><circle cx="51.9" cy="274.6" r="0.98"/><circle cx="43.9" cy="245.2" r="0.98"/><circle cx="54.4" cy="290.3" r="0.98"/><circle cx="45.4" cy="294.5" r="0.98"/><circle cx="43.4" cy="278.8" r="0.98"/><circle cx="49.3" cy="298.3" r="0.98"/><circle cx="42.5" cy="315.4" r="0.98"/><circle cx="44.5" cy="312.9" r="0.98"/><circle cx="46.7" cy="282.3" r="0.98"/><circle cx="45.1" cy="291.6" r="0.98"/><circle cx="40.6" cy="287.1" r="0.98"/><circle cx="45.8" cy="315.3" r="0.98"/><circle cx="47.8" cy="272.3" r="0.98"/><circle cx="44.7" cy="305.1" r="0.98"/><circle cx="44.5" cy="292.8" r="0.98"/><circle cx="46.1" cy="276.1" r="0.98"/><circle cx="51.2" cy="328.7" r="0.98"/><circle cx="55" cy="278.4" r="0.98"/><circle cx="42.1" cy="281.8" r="0.98"/><circle cx="45.3" cy="314.6" r="0.98"/><circle cx="50.1" cy="281.8" r="0.98"/><circle cx="45.3" cy="264.3" r="0.98"/><circle cx="52.9" cy="323.7" r="0.98"/><circle cx="44.8" cy="319.9" r="0.98"/><circle cx="51" cy="299.3" r="0.98"/><circle cx="55" cy="252.9" r="0.98"/><circle cx="49.3" cy="304.5" r="0.98"/><circle cx="48.2" cy="291.8" r="0.98"/><circle cx="44" cy="301" r="0.98"/><circle cx="51.1" cy="260.3" r="0.98"/><circle cx="48.3" cy="317.2" r="0.98"/><circle cx="47.3" cy="282.2" r="0.98"/><circle cx="43.6" cy="283.2" r="0.98"/><circle cx="53.1" cy="267.9" r="0.98"/><circle cx="46.3" cy="240.8" r="0.98"/><circle cx="49.4" cy="333.3" r="0.98"/>
</g>
<g fill="none" stroke="#b9b9b9" stroke-width=".62" transform="scale(1 .9)">
<circle cx="90.5" cy="285.8" r="0.98"/><circle cx="82.9" cy="259.7" r="0.98"/><circle cx="84.6" cy="286.8" r="0.98"/><circle cx="79.5" cy="279.2" r="0.98"/><circle cx="89.8" cy="276.2" r="0.98"/><circle cx="78.8" cy="248" r="0.98"/><circle cx="80.5" cy="286.7" r="0.98"/><circle cx="88.3" cy="316.5" r="0.98"/><circle cx="87.1" cy="297.6" r="0.98"/><circle cx="88.1" cy="265" r="0.98"/><circle cx="77.3" cy="292.3" r="0.98"/><circle cx="75.4" cy="274" r="0.98"/><circle cx="77" cy="276.9" r="0.98"/><circle cx="88.8" cy="304.1" r="0.98"/><circle cx="84.5" cy="253.1" r="0.98"/><circle cx="92.3" cy="294.5" r="0.98"/><circle cx="91.9" cy="264" r="0.98"/><circle cx="86.5" cy="261.9" r="0.98"/><circle cx="87.3" cy="287" r="0.98"/><circle cx="83.9" cy="245" r="0.98"/><circle cx="76.5" cy="279.7" r="0.98"/><circle cx="87" cy="286.4" r="0.98"/><circle cx="83.5" cy="243.3" r="0.98"/><circle cx="83" cy="261.6" r="0.98"/><circle cx="85.4" cy="292.1" r="0.98"/><circle cx="78" cy="281.2" r="0.98"/><circle cx="90" cy="261.5" r="0.98"/><circle cx="91" cy="292.9" r="0.98"/><circle cx="92.3" cy="293.1" r="0.98"/><circle cx="79.2" cy="280.3" r="0.98"/><circle cx="74.9" cy="285.6" r="0.98"/><circle cx="78.2" cy="247.2" r="0.98"/><circle cx="80.7" cy="272.3" r="0.98"/><circle cx="89.3" cy="270.6" r="0.98"/><circle cx="75.4" cy="285" r="0.98"/><circle cx="80.3" cy="296.1" r="0.98"/><circle cx="76.8" cy="305.5" r="0.98"/><circle cx="91.2" cy="263.7" r="0.98"/><circle cx="75.4" cy="282.1" r="0.98"/><circle cx="86.8" cy="270.5" r="0.98"/><circle cx="78.9" cy="287.8" r="0.98"/><circle cx="86.2" cy="267.7" r="0.98"/><circle cx="85.7" cy="323.1" r="0.98"/><circle cx="84" cy="250.9" r="0.98"/><circle cx="83.7" cy="303.9" r="0.98"/><circle cx="84.1" cy="295.8" r="0.98"/><circle cx="74.7" cy="274.1" r="0.98"/><circle cx="78.8" cy="302.9" r="0.98"/><circle cx="85.2" cy="304.4" r="0.98"/><circle cx="87" cy="304.3" r="0.98"/><circle cx="84.1" cy="284.3" r="0.98"/><circle cx="79.4" cy="282.4" r="0.98"/><circle cx="81.1" cy="268.2" r="0.98"/><circle cx="87.8" cy="257.8" r="0.98"/><circle cx="86.1" cy="289.6" r="0.98"/><circle cx="81.5" cy="283.7" r="0.98"/><circle cx="77.3" cy="284.2" r="0.98"/><circle cx="82.3" cy="296.7" r="0.98"/><circle cx="90.1" cy="245.6" r="0.98"/><circle cx="88.7" cy="285.9" r="0.98"/><circle cx="78.3" cy="275.8" r="0.98"/><circle cx="77.8" cy="275.7" r="0.98"/><circle cx="82.3" cy="257.5" r="0.98"/><circle cx="87" cy="255.7" r="0.98"/><circle cx="90.7" cy="284.1" r="0.98"/><circle cx="77.3" cy="274.7" r="0.98"/><circle cx="86.3" cy="313.2" r="0.98"/><circle cx="82.4" cy="295.4" r="0.98"/><circle cx="77.3" cy="283.5" r="0.98"/><circle cx="89" cy="306.5" r="0.98"/><circle cx="75.4" cy="284.8" r="0.98"/><circle cx="76.3" cy="293" r="0.98"/><circle cx="88.8" cy="256.5" r="0.98"/><circle cx="81.6" cy="284.3" r="0.98"/><circle cx="76.5" cy="288.2" r="0.98"/><circle cx="81.2" cy="317.4" r="0.98"/><circle cx="76.5" cy="267.5" r="0.98"/><circle cx="79.1" cy="316.9" r="0.98"/><circle cx="78.5" cy="275.9" r="0.98"/><circle cx="88" cy="281.4" r="0.98"/><circle cx="83.2" cy="266.2" r="0.98"/><circle cx="87.2" cy="274.5" r="0.98"/><circle cx="76.5" cy="245.3" r="0.98"/><circle cx="90.1" cy="278.5" r="0.98"/><circle cx="81.2" cy="280.4" r="0.98"/><circle cx="86.3" cy="308.3" r="0.98"/><circle cx="88" cy="320.5" r="0.98"/><circle cx="82.4" cy="252.5" r="0.98"/><circle cx="81.9" cy="272.2" r="0.98"/><circle cx="90.7" cy="264.7" r="0.98"/><circle cx="89.4" cy="246.4" r="0.98"/><circle cx="88.3" cy="244.1" r="0.98"/><circle cx="77.7" cy="274.1" r="0.98"/><circle cx="81.2" cy="303.6" r="0.98"/><circle cx="85" cy="258.8" r="0.98"/><circle cx="88.1" cy="254.4" r="0.98"/><circle cx="88.2" cy="299.3" r="0.98"/><circle cx="85.4" cy="250.7" r="0.98"/><circle cx="76.2" cy="276.8" r="0.98"/><circle cx="79.3" cy="282.6" r="0.98"/><circle cx="88.1" cy="247.7" r="0.98"/><circle cx="88.8" cy="285.9" r="0.98"/><circle cx="86.1" cy="272.7" r="0.98"/><circle cx="86.7" cy="299.1" r="0.98"/><circle cx="76.1" cy="288.3" r="0.98"/><circle cx="91" cy="280.7" r="0.98"/><circle cx="80.9" cy="288.6" r="0.98"/><circle cx="82.3" cy="268.7" r="0.98"/><circle cx="91.7" cy="290.4" r="0.98"/><circle cx="86.5" cy="300.9" r="0.98"/><circle cx="82.3" cy="271.2" r="0.98"/><circle cx="77.3" cy="252.6" r="0.98"/><circle cx="84.2" cy="250.2" r="0.98"/><circle cx="87" cy="288.5" r="0.98"/><circle cx="76.3" cy="275.6" r="0.98"/><circle cx="91.6" cy="254.6" r="0.98"/><circle cx="76.8" cy="290.7" r="0.98"/><circle cx="87" cy="317.5" r="0.98"/><circle cx="81.7" cy="254.6" r="0.98"/><circle cx="76.4" cy="288.5" r="0.98"/><circle cx="83.9" cy="257.1" r="0.98"/><circle cx="89.6" cy="279.4" r="0.98"/><circle cx="78.7" cy="304.3" r="0.98"/><circle cx="75.5" cy="302.3" r="0.98"/><circle cx="88.1" cy="268.9" r="0.98"/><circle cx="90.4" cy="260.6" r="0.98"/><circle cx="89.8" cy="294.8" r="0.98"/><circle cx="76.6" cy="320.7" r="0.98"/><circle cx="86.5" cy="292.2" r="0.98"/><circle cx="84.2" cy="283.2" r="0.98"/><circle cx="87.2" cy="285.3" r="0.98"/><circle cx="89.2" cy="255.4" r="0.98"/><circle cx="82.3" cy="289.1" r="0.98"/><circle cx="77.3" cy="258.1" r="0.98"/><circle cx="91.2" cy="275.1" r="0.98"/><circle cx="90.5" cy="265.2" r="0.98"/><circle cx="87.1" cy="317.1" r="0.98"/><circle cx="79.5" cy="251.6" r="0.98"/><circle cx="75.7" cy="293.9" r="0.98"/><circle cx="81.3" cy="317.8" r="0.98"/><circle cx="81.3" cy="294.8" r="0.98"/><circle cx="84.9" cy="304.7" r="0.98"/><circle cx="89.1" cy="270.7" r="0.98"/><circle cx="86.1" cy="274" r="0.98"/><circle cx="76" cy="294.9" r="0.98"/><circle cx="92.3" cy="261" r="0.98"/><circle cx="76" cy="263.1" r="0.98"/><circle cx="79" cy="296.1" r="0.98"/><circle cx="75.9" cy="247.3" r="0.98"/><circle cx="85.1" cy="317.6" r="0.98"/><circle cx="81.1" cy="274.8" r="0.98"/><circle cx="80.8" cy="279.1" r="0.98"/><circle cx="89.1" cy="301.5" r="0.98"/><circle cx="83.7" cy="315.3" r="0.98"/><circle cx="78.7" cy="271.8" r="0.98"/><circle cx="83.6" cy="269" r="0.98"/><circle cx="83.7" cy="264.6" r="0.98"/><circle cx="77.7" cy="277" r="0.98"/><circle cx="76.1" cy="305.5" r="0.98"/><circle cx="79.6" cy="267.6" r="0.98"/><circle cx="75.7" cy="305" r="0.98"/><circle cx="87" cy="272" r="0.98"/><circle cx="92.5" cy="286.2" r="0.98"/><circle cx="79" cy="302.8" r="0.98"/><circle cx="79.1" cy="270.2" r="0.98"/><circle cx="79.9" cy="288.4" r="0.98"/><circle cx="91.6" cy="272.6" r="0.98"/><circle cx="78.5" cy="287.7" r="0.98"/><circle cx="85.5" cy="267.2" r="0.98"/><circle cx="88.3" cy="307.9" r="0.98"/><circle cx="91.9" cy="291.1" r="0.98"/><circle cx="83.6" cy="249.8" r="0.98"/><circle cx="90.1" cy="277.1" r="0.98"/><circle cx="91.6" cy="302.1" r="0.98"/><circle cx="81.2" cy="313" r="0.98"/><circle cx="91.6" cy="271" r="0.98"/><circle cx="86.8" cy="281.4" r="0.98"/><circle cx="85.4" cy="307.5" r="0.98"/><circle cx="76.6" cy="256.5" r="0.98"/><circle cx="84.9" cy="288.9" r="0.98"/><circle cx="79.4" cy="274.3" r="0.98"/><circle cx="89.1" cy="305.8" r="0.98"/><circle cx="83" cy="254.7" r="0.98"/><circle cx="90.4" cy="255.5" r="0.98"/><circle cx="87.3" cy="250" r="0.98"/><circle cx="88.3" cy="246.7" r="0.98"/><circle cx="92.9" cy="275.9" r="0.98"/><circle cx="89.9" cy="294.4" r="0.98"/><circle cx="90.4" cy="246.6" r="0.98"/><circle cx="84.3" cy="274.4" r="0.98"/><circle cx="80.2" cy="299.8" r="0.98"/><circle cx="87.1" cy="255.5" r="0.98"/><circle cx="89.8" cy="253.8" r="0.98"/><circle cx="84.8" cy="274.8" r="0.98"/><circle cx="78.8" cy="280.7" r="0.98"/><circle cx="92.3" cy="283.7" r="0.98"/><circle cx="75.8" cy="277.6" r="0.98"/><circle cx="89.5" cy="306.3" r="0.98"/><circle cx="91.9" cy="278.9" r="0.98"/><circle cx="89.7" cy="287.4" r="0.98"/><circle cx="91.5" cy="272.3" r="0.98"/><circle cx="82.1" cy="315.5" r="0.98"/><circle cx="89" cy="285.6" r="0.98"/><circle cx="87.4" cy="252" r="0.98"/><circle cx="85.7" cy="271" r="0.98"/><circle cx="90.7" cy="303.3" r="0.98"/><circle cx="84.2" cy="256.7" r="0.98"/><circle cx="79.9" cy="269" r="0.98"/><circle cx="86.5" cy="263.8" r="0.98"/><circle cx="87.7" cy="253.7" r="0.98"/><circle cx="75.1" cy="274.2" r="0.98"/><circle cx="92.6" cy="269.5" r="0.98"/><circle cx="83" cy="281.8" r="0.98"/><circle cx="86.6" cy="277" r="0.98"/><circle cx="83.5" cy="259.1" r="0.98"/><circle cx="84.1" cy="249" r="0.98"/><circle cx="86" cy="291.5" r="0.98"/><circle cx="88.4" cy="264.5" r="0.98"/><circle cx="81.2" cy="299.7" r="0.98"/><circle cx="74.7" cy="281.7" r="0.98"/><circle cx="82.9" cy="310.8" r="0.98"/><circle cx="79.1" cy="257.9" r="0.98"/><circle cx="86.1" cy="277.8" r="0.98"/><circle cx="79.8" cy="271.4" r="0.98"/><circle cx="91.4" cy="316.8" r="0.98"/><circle cx="79.5" cy="242.1" r="0.98"/><circle cx="86.9" cy="261.9" r="0.98"/><circle cx="75.9" cy="283.9" r="0.98"/><circle cx="77.2" cy="264.1" r="0.98"/><circle cx="81.3" cy="266.1" r="0.98"/><circle cx="86.4" cy="265.9" r="0.98"/><circle cx="89.9" cy="245.2" r="0.98"/><circle cx="78.3" cy="250.6" r="0.98"/><circle cx="76" cy="290.2" r="0.98"/><circle cx="76.2" cy="314.7" r="0.98"/><circle cx="74.7" cy="283.1" r="0.98"/><circle cx="92.5" cy="297.1" r="0.98"/><circle cx="89.4" cy="291.3" r="0.98"/><circle cx="81.4" cy="292.9" r="0.98"/><circle cx="82.8" cy="256" r="0.98"/><circle cx="88" cy="277" r="0.98"/><circle cx="82.3" cy="322.2" r="0.98"/><circle cx="89.3" cy="269.8" r="0.98"/><circle cx="89.8" cy="278.6" r="0.98"/><circle cx="91.1" cy="313.7" r="0.98"/><circle cx="84.3" cy="279.5" r="0.98"/><circle cx="74.6" cy="275.9" r="0.98"/><circle cx="75.3" cy="296.5" r="0.98"/><circle cx="83.6" cy="293.6" r="0.98"/><circle cx="89.3" cy="250.6" r="0.98"/><circle cx="88.9" cy="307" r="0.98"/><circle cx="83.3" cy="273.8" r="0.98"/><circle cx="80.8" cy="274.6" r="0.98"/><circle cx="81.8" cy="315.2" r="0.98"/><circle cx="90.9" cy="313.2" r="0.98"/><circle cx="81.9" cy="312.1" r="0.98"/><circle cx="76" cy="252.2" r="0.98"/><circle cx="84" cy="239.2" r="0.98"/><circle cx="85.5" cy="324.4" r="0.98"/>
</g>
<g fill="none" stroke="#1e1e1e" stroke-width=".7">
<rect x="27" y="211.4" width="78.3" height="91.6"/>
<path d="M27 229.4h-3.6"/>
<path d="M27 247.4h-3.6"/>
<path d="M27 265.9h-3.6"/>
<path d="M27 284.5h-3.6"/>
<path d="M27 303h-3.6"/>
<path d="M48.2 303v3.3"/>
<rect x="33.9" y="241.2" width="28.7" height="25.3"/>
<path stroke="#3a3a3a" stroke-width=".58" d="M41 216.7h14.4 M41 300h14.4"/>
<path stroke="#000" stroke-width=".75" stroke-dasharray="1.5 1.3" d="M48.2 241.2V216.7 M48.2 266.5V300"/>
<path stroke="#0a0a0a" stroke-width="1.6" d="M33.9 252.7H62.6"/>
<path d="M83.8 303v3.3"/>
<rect x="69.4" y="237.4" width="29.1" height="26.4"/>
<path stroke="#3a3a3a" stroke-width=".58" d="M76.5 215.3h14.5 M76.5 292h14.5"/>
<path stroke="#000" stroke-width=".75" stroke-dasharray="1.5 1.3" d="M83.8 237.4V215.3 M83.8 263.8V292"/>
<path stroke="#0a0a0a" stroke-width="1.6" d="M69.4 249.7H98.5"/>
</g>
<g font-family="'Liberation Sans',Arial,sans-serif" fill="#1a1a1a" stroke="#1a1a1a" stroke-width=".12" text-anchor="middle">
<text font-size="5.6" transform="translate(19.2 229.4) rotate(-90) scale(0.72 1)">12</text>
<text font-size="5.6" transform="translate(19.2 247.4) rotate(-90) scale(0.72 1)">10</text>
<text font-size="5.6" transform="translate(19.2 265.9) rotate(-90) scale(0.72 1)">8</text>
<text font-size="5.6" transform="translate(19.2 284.5) rotate(-90) scale(0.72 1)">6</text>
<text font-size="5.6" transform="translate(19.2 303) rotate(-90) scale(0.72 1)">4</text>
<text stroke-width=".1" fill="#2a2a2a" font-size="6.0" text-anchor="start" textLength="27" lengthAdjust="spacingAndGlyphs" transform="translate(6.3 271.1) rotate(-90)">IFNG Scores</text>
<text stroke-width=".08" text-anchor="start" textLength="7.5" lengthAdjust="spacingAndGlyphs" font-size="4.9" x="44.5" y="313.2">Epi</text>
<text stroke-width=".08" text-anchor="start" textLength="9.8" lengthAdjust="spacingAndGlyphs" font-size="4.9" x="78.9" y="313.2">Mes</text>
</g>
<text font-family="'DejaVu Sans',Verdana,sans-serif" font-weight="bold" font-size="8.3" x="51.7" y="324.9" fill="#111" textLength="25.4" lengthAdjust="spacingAndGlyphs">TCGA</text>
<text font-family="'DejaVu Sans',Verdana,sans-serif" font-size="8.3" x="36.2" y="204.4" fill="#222" stroke="#222" stroke-width=".07" textLength="64.9" lengthAdjust="spacingAndGlyphs">P = 2.1 x 10<tspan font-size="5.8" dy="-2.7" stroke-width=".22">-2</tspan></text></g>
<g><g fill="none" stroke="#000" stroke-width=".62" transform="scale(1 .9)">
<circle cx="165.8" cy="288.2" r="0.98"/><circle cx="162.8" cy="327" r="0.98"/><circle cx="158.6" cy="299.4" r="0.98"/><circle cx="163" cy="274.7" r="0.98"/><circle cx="159.8" cy="267.5" r="0.98"/><circle cx="159.2" cy="312.3" r="0.98"/><circle cx="161.7" cy="314.3" r="0.98"/><circle cx="164" cy="308.2" r="0.98"/><circle cx="161.3" cy="292.4" r="0.98"/><circle cx="162.6" cy="300" r="0.98"/><circle cx="164" cy="282.6" r="0.98"/><circle cx="157" cy="258.4" r="0.98"/><circle cx="164.4" cy="323.9" r="0.98"/><circle cx="158" cy="302.9" r="0.98"/><circle cx="164.5" cy="320.7" r="0.98"/><circle cx="158.6" cy="279.1" r="0.98"/><circle cx="165.2" cy="288" r="0.98"/><circle cx="167.1" cy="282.2" r="0.98"/><circle cx="157" cy="322.3" r="0.98"/><circle cx="165.6" cy="308.1" r="0.98"/><circle cx="156" cy="285.3" r="0.98"/><circle cx="162" cy="299.1" r="0.98"/><circle cx="152.1" cy="291.1" r="0.98"/><circle cx="161" cy="289.4" r="0.98"/><circle cx="156.2" cy="282.4" r="0.98"/><circle cx="157.6" cy="303" r="0.98"/><circle cx="152.4" cy="299.1" r="0.98"/><circle cx="160.6" cy="315.9" r="0.98"/><circle cx="166.1" cy="307.7" r="0.98"/><circle cx="166.6" cy="276.5" r="0.98"/><circle cx="165" cy="330.8" r="0.98"/><circle cx="152.8" cy="319.9" r="0.98"/><circle cx="164.6" cy="318.4" r="0.98"/><circle cx="165.1" cy="285.7" r="0.98"/><circle cx="153.6" cy="299" r="0.98"/><circle cx="160.3" cy="293.6" r="0.98"/><circle cx="157.8" cy="305.8" r="0.98"/><circle cx="157.6" cy="311.7" r="0.98"/><circle cx="161.1" cy="302.1" r="0.98"/><circle cx="154" cy="303.2" r="0.98"/><circle cx="166.5" cy="295.5" r="0.98"/><circle cx="154.5" cy="304.6" r="0.98"/><circle cx="157.5" cy="291.2" r="0.98"/><circle cx="166.3" cy="301.6" r="0.98"/><circle cx="160" cy="314" r="0.98"/><circle cx="159.8" cy="316.6" r="0.98"/><circle cx="158.3" cy="290.5" r="0.98"/><circle cx="166.8" cy="311.6" r="0.98"/><circle cx="155.5" cy="281" r="0.98"/><circle cx="164.3" cy="291" r="0.98"/><circle cx="161" cy="283.3" r="0.98"/><circle cx="153.7" cy="301" r="0.98"/><circle cx="162.5" cy="288.3" r="0.98"/><circle cx="156" cy="273.1" r="0.98"/><circle cx="165.3" cy="279.6" r="0.98"/><circle cx="158.4" cy="331.5" r="0.98"/><circle cx="166.9" cy="292.5" r="0.98"/><circle cx="158.3" cy="278.4" r="0.98"/><circle cx="159.6" cy="289.7" r="0.98"/><circle cx="162.7" cy="285.4" r="0.98"/><circle cx="163.6" cy="307.8" r="0.98"/><circle cx="156.4" cy="269.5" r="0.98"/><circle cx="159.7" cy="311.5" r="0.98"/><circle cx="163.8" cy="277.2" r="0.98"/><circle cx="153.6" cy="287.4" r="0.98"/><circle cx="158.6" cy="329.4" r="0.98"/><circle cx="165.6" cy="304.8" r="0.98"/><circle cx="159.1" cy="273.8" r="0.98"/><circle cx="163" cy="304.3" r="0.98"/><circle cx="160.5" cy="299.4" r="0.98"/><circle cx="152.8" cy="319.7" r="0.98"/><circle cx="165.3" cy="308.7" r="0.98"/><circle cx="163.6" cy="302.3" r="0.98"/><circle cx="153.7" cy="326.7" r="0.98"/><circle cx="155.2" cy="269" r="0.98"/><circle cx="154.1" cy="299.8" r="0.98"/><circle cx="160.4" cy="294.4" r="0.98"/><circle cx="160.2" cy="296" r="0.98"/><circle cx="153.3" cy="298.3" r="0.98"/><circle cx="154.7" cy="287.5" r="0.98"/><circle cx="154.7" cy="283" r="0.98"/><circle cx="153.2" cy="310" r="0.98"/><circle cx="153.4" cy="309.9" r="0.98"/><circle cx="166" cy="299.8" r="0.98"/><circle cx="163" cy="276.7" r="0.98"/><circle cx="158.9" cy="326.1" r="0.98"/><circle cx="164.8" cy="319.5" r="0.98"/><circle cx="155.1" cy="298.8" r="0.98"/><circle cx="166.5" cy="294.1" r="0.98"/><circle cx="162.4" cy="267.4" r="0.98"/><circle cx="154.7" cy="256.9" r="0.98"/><circle cx="158.6" cy="287" r="0.98"/><circle cx="154.3" cy="259.2" r="0.98"/><circle cx="161.3" cy="310" r="0.98"/><circle cx="167.3" cy="288.6" r="0.98"/><circle cx="166.4" cy="315" r="0.98"/><circle cx="163.1" cy="318.1" r="0.98"/><circle cx="152.8" cy="317.8" r="0.98"/><circle cx="153.4" cy="299.8" r="0.98"/><circle cx="160.5" cy="286.3" r="0.98"/><circle cx="167.4" cy="287.4" r="0.98"/><circle cx="158.7" cy="313.8" r="0.98"/><circle cx="165" cy="275.2" r="0.98"/><circle cx="157.1" cy="309.6" r="0.98"/><circle cx="162" cy="283.9" r="0.98"/><circle cx="164.2" cy="321.9" r="0.98"/><circle cx="166.8" cy="302.9" r="0.98"/><circle cx="153.5" cy="307.1" r="0.98"/><circle cx="166.6" cy="288.5" r="0.98"/><circle cx="159.6" cy="286.1" r="0.98"/><circle cx="165.7" cy="312.8" r="0.98"/><circle cx="160.9" cy="304.5" r="0.98"/><circle cx="160.5" cy="320.6" r="0.98"/><circle cx="155.7" cy="277.4" r="0.98"/><circle cx="157.6" cy="317.6" r="0.98"/><circle cx="164.6" cy="280.3" r="0.98"/><circle cx="160.4" cy="299.3" r="0.98"/><circle cx="166" cy="318" r="0.98"/><circle cx="154.2" cy="279.1" r="0.98"/><circle cx="162.7" cy="308.7" r="0.98"/><circle cx="165.4" cy="268.3" r="0.98"/><circle cx="163.9" cy="326.4" r="0.98"/><circle cx="154" cy="324" r="0.98"/><circle cx="162.9" cy="287.7" r="0.98"/><circle cx="154.3" cy="288.3" r="0.98"/><circle cx="153.9" cy="280.4" r="0.98"/><circle cx="153.7" cy="308.4" r="0.98"/><circle cx="160.6" cy="306.7" r="0.98"/><circle cx="155.4" cy="322.3" r="0.98"/><circle cx="155.9" cy="285.1" r="0.98"/><circle cx="165.3" cy="275.9" r="0.98"/><circle cx="158.8" cy="275.9" r="0.98"/><circle cx="153.6" cy="295.8" r="0.98"/><circle cx="159.1" cy="312.9" r="0.98"/><circle cx="153.2" cy="294.5" r="0.98"/><circle cx="156.9" cy="299.7" r="0.98"/><circle cx="157" cy="286.1" r="0.98"/><circle cx="165.3" cy="299.4" r="0.98"/><circle cx="160.8" cy="319.7" r="0.98"/><circle cx="154.4" cy="279.7" r="0.98"/><circle cx="153.3" cy="318.5" r="0.98"/><circle cx="160.6" cy="279.1" r="0.98"/><circle cx="153.8" cy="299.5" r="0.98"/><circle cx="163.9" cy="277.4" r="0.98"/><circle cx="155.2" cy="320" r="0.98"/><circle cx="157.5" cy="288.6" r="0.98"/><circle cx="167.6" cy="304.5" r="0.98"/><circle cx="160.3" cy="291.2" r="0.98"/><circle cx="153.9" cy="317.1" r="0.98"/><circle cx="163.1" cy="311" r="0.98"/><circle cx="155" cy="269.2" r="0.98"/><circle cx="163.6" cy="305.8" r="0.98"/><circle cx="156.1" cy="320.4" r="0.98"/><circle cx="166.1" cy="303.8" r="0.98"/><circle cx="166.7" cy="284.7" r="0.98"/><circle cx="157.8" cy="305.2" r="0.98"/><circle cx="158.7" cy="269" r="0.98"/><circle cx="155.6" cy="315.4" r="0.98"/><circle cx="156.5" cy="305.5" r="0.98"/><circle cx="160.9" cy="289.6" r="0.98"/><circle cx="160.4" cy="323.8" r="0.98"/><circle cx="153.8" cy="318" r="0.98"/><circle cx="165.2" cy="287.6" r="0.98"/><circle cx="161.3" cy="297.5" r="0.98"/><circle cx="164.7" cy="280.6" r="0.98"/><circle cx="166" cy="330.3" r="0.98"/><circle cx="156.8" cy="266.1" r="0.98"/><circle cx="160.2" cy="296.5" r="0.98"/><circle cx="162.1" cy="328.9" r="0.98"/><circle cx="158.5" cy="320.4" r="0.98"/><circle cx="159" cy="273.4" r="0.98"/><circle cx="165.4" cy="314.4" r="0.98"/><circle cx="164.7" cy="293.5" r="0.98"/><circle cx="158.7" cy="298.5" r="0.98"/><circle cx="152.8" cy="301.7" r="0.98"/><circle cx="163.7" cy="289.7" r="0.98"/><circle cx="158.5" cy="260" r="0.98"/><circle cx="157.5" cy="294.9" r="0.98"/><circle cx="155.8" cy="312.8" r="0.98"/><circle cx="152.8" cy="298.7" r="0.98"/><circle cx="160.8" cy="276" r="0.98"/><circle cx="157.8" cy="280.1" r="0.98"/><circle cx="165.4" cy="282.9" r="0.98"/><circle cx="160.6" cy="291.8" r="0.98"/><circle cx="158.4" cy="303.3" r="0.98"/><circle cx="153.1" cy="310.4" r="0.98"/><circle cx="165.6" cy="287.6" r="0.98"/><circle cx="157" cy="299.4" r="0.98"/><circle cx="160.8" cy="316.3" r="0.98"/><circle cx="162.8" cy="307.5" r="0.98"/><circle cx="159.3" cy="312.6" r="0.98"/><circle cx="157.3" cy="318.3" r="0.98"/><circle cx="156.8" cy="314.8" r="0.98"/><circle cx="163.1" cy="295.3" r="0.98"/><circle cx="158.6" cy="326.8" r="0.98"/><circle cx="163.2" cy="293.6" r="0.98"/><circle cx="159" cy="285" r="0.98"/><circle cx="159.2" cy="294.3" r="0.98"/><circle cx="164" cy="327.7" r="0.98"/><circle cx="158.2" cy="300.2" r="0.98"/><circle cx="159.9" cy="254.2" r="0.98"/><circle cx="158" cy="332" r="0.98"/><circle cx="156" cy="243.8" r="0.98"/>
</g>
<g fill="none" stroke="#b9b9b9" stroke-width=".62" transform="scale(1 .9)">
<circle cx="189.1" cy="291.9" r="0.98"/><circle cx="195" cy="294.5" r="0.98"/><circle cx="189.9" cy="262.8" r="0.98"/><circle cx="204.3" cy="297.8" r="0.98"/><circle cx="190.5" cy="283.1" r="0.98"/><circle cx="202.7" cy="269" r="0.98"/><circle cx="196.9" cy="265.7" r="0.98"/><circle cx="194.6" cy="292.7" r="0.98"/><circle cx="200.4" cy="311.4" r="0.98"/><circle cx="201.2" cy="266.3" r="0.98"/><circle cx="193.6" cy="280" r="0.98"/><circle cx="198.6" cy="321" r="0.98"/><circle cx="194.1" cy="280.9" r="0.98"/><circle cx="192.8" cy="293.8" r="0.98"/><circle cx="193.8" cy="317.4" r="0.98"/><circle cx="203.8" cy="251" r="0.98"/><circle cx="195" cy="270.9" r="0.98"/><circle cx="198.8" cy="272.7" r="0.98"/><circle cx="196.4" cy="270.6" r="0.98"/><circle cx="203.6" cy="267.4" r="0.98"/><circle cx="192.7" cy="302.1" r="0.98"/><circle cx="200.9" cy="321" r="0.98"/><circle cx="197.7" cy="305.3" r="0.98"/><circle cx="198.2" cy="270.8" r="0.98"/><circle cx="200" cy="254.6" r="0.98"/><circle cx="200.1" cy="319.6" r="0.98"/><circle cx="203.9" cy="298.6" r="0.98"/><circle cx="198.6" cy="311.2" r="0.98"/><circle cx="202.7" cy="282.7" r="0.98"/><circle cx="197.3" cy="291.8" r="0.98"/><circle cx="193.8" cy="289.7" r="0.98"/><circle cx="197.6" cy="285.9" r="0.98"/><circle cx="194.2" cy="242" r="0.98"/><circle cx="187.6" cy="252.1" r="0.98"/><circle cx="187.6" cy="313.9" r="0.98"/><circle cx="186.4" cy="285.4" r="0.98"/><circle cx="195.1" cy="309.4" r="0.98"/><circle cx="190.5" cy="297.2" r="0.98"/><circle cx="189.3" cy="330.6" r="0.98"/><circle cx="186.9" cy="286.7" r="0.98"/><circle cx="191.6" cy="305.8" r="0.98"/><circle cx="187.1" cy="306.3" r="0.98"/><circle cx="201.2" cy="326.1" r="0.98"/><circle cx="201.3" cy="309.3" r="0.98"/><circle cx="192.9" cy="305.2" r="0.98"/><circle cx="198.7" cy="272.9" r="0.98"/><circle cx="198.4" cy="294.2" r="0.98"/><circle cx="189.6" cy="249.7" r="0.98"/><circle cx="198.8" cy="311.8" r="0.98"/><circle cx="199.4" cy="293.7" r="0.98"/><circle cx="197.5" cy="286.9" r="0.98"/><circle cx="204.4" cy="293.5" r="0.98"/><circle cx="202.4" cy="301.8" r="0.98"/><circle cx="199.3" cy="286.4" r="0.98"/><circle cx="194" cy="311.8" r="0.98"/><circle cx="199.3" cy="313.5" r="0.98"/><circle cx="202.8" cy="279.1" r="0.98"/><circle cx="188.7" cy="279.1" r="0.98"/><circle cx="190.9" cy="299.4" r="0.98"/><circle cx="199.9" cy="277.1" r="0.98"/><circle cx="189.7" cy="323.7" r="0.98"/><circle cx="199.6" cy="281.1" r="0.98"/><circle cx="203.6" cy="296.1" r="0.98"/><circle cx="195.7" cy="313.8" r="0.98"/><circle cx="188.6" cy="245.5" r="0.98"/><circle cx="195.8" cy="306.7" r="0.98"/><circle cx="202.6" cy="255.4" r="0.98"/><circle cx="199.8" cy="245" r="0.98"/><circle cx="203.1" cy="331.4" r="0.98"/><circle cx="195.4" cy="272.3" r="0.98"/><circle cx="200.6" cy="263" r="0.98"/><circle cx="191.7" cy="271.5" r="0.98"/><circle cx="190.7" cy="294.5" r="0.98"/><circle cx="195" cy="295" r="0.98"/><circle cx="201.2" cy="261.5" r="0.98"/><circle cx="187" cy="302.7" r="0.98"/><circle cx="200" cy="283.8" r="0.98"/><circle cx="191.4" cy="306.9" r="0.98"/><circle cx="200" cy="264.4" r="0.98"/><circle cx="189.9" cy="279.9" r="0.98"/><circle cx="189" cy="315.7" r="0.98"/><circle cx="190.9" cy="265.7" r="0.98"/><circle cx="202.2" cy="311.5" r="0.98"/><circle cx="194.7" cy="275.9" r="0.98"/><circle cx="198.3" cy="300.8" r="0.98"/><circle cx="197.8" cy="257" r="0.98"/><circle cx="199.7" cy="273.2" r="0.98"/><circle cx="198.9" cy="315.1" r="0.98"/><circle cx="192.5" cy="274.8" r="0.98"/><circle cx="200.4" cy="269.1" r="0.98"/><circle cx="188.6" cy="324.2" r="0.98"/><circle cx="199.6" cy="286" r="0.98"/><circle cx="203.8" cy="267.6" r="0.98"/><circle cx="194" cy="310.1" r="0.98"/><circle cx="195" cy="245" r="0.98"/><circle cx="204.4" cy="306.2" r="0.98"/><circle cx="195.5" cy="326.1" r="0.98"/><circle cx="194.1" cy="294.7" r="0.98"/><circle cx="196.6" cy="318.8" r="0.98"/><circle cx="196.8" cy="288.7" r="0.98"/><circle cx="191.1" cy="293.5" r="0.98"/><circle cx="192.2" cy="327.9" r="0.98"/><circle cx="201.9" cy="292.6" r="0.98"/><circle cx="190.9" cy="297.1" r="0.98"/><circle cx="190.4" cy="245.6" r="0.98"/><circle cx="190.7" cy="275.3" r="0.98"/><circle cx="199.3" cy="320.9" r="0.98"/><circle cx="197.1" cy="262.8" r="0.98"/><circle cx="191.1" cy="258.5" r="0.98"/><circle cx="189.3" cy="310.9" r="0.98"/><circle cx="190.5" cy="305.8" r="0.98"/><circle cx="199" cy="307.1" r="0.98"/><circle cx="198.8" cy="305.2" r="0.98"/><circle cx="203.4" cy="277.7" r="0.98"/><circle cx="190.9" cy="299.4" r="0.98"/><circle cx="189.2" cy="275.7" r="0.98"/><circle cx="197.7" cy="291.1" r="0.98"/><circle cx="195.2" cy="238.3" r="0.98"/><circle cx="196.4" cy="332" r="0.98"/>
</g>
<g fill="none" stroke="#1e1e1e" stroke-width=".7">
<rect x="138.8" y="210.9" width="77.6" height="91.2"/>
<path d="M138.8 231.8h-3.6"/>
<path d="M138.8 254.2h-3.6"/>
<path d="M138.8 276.5h-3.6"/>
<path d="M138.8 298.8h-3.6"/>
<path d="M159.8 302.1v3.3"/>
<rect x="145.3" y="257.3" width="28.6" height="22.4"/>
<path stroke="#3a3a3a" stroke-width=".58" d="M152.7 228.8h14.3 M152.7 298.8h14.3"/>
<path stroke="#000" stroke-width=".75" stroke-dasharray="1.5 1.3" d="M159.8 257.3V228.8 M159.8 279.7V298.8"/>
<path stroke="#0a0a0a" stroke-width="1.6" d="M145.3 269.1H173.9"/>
<path d="M195.6 302.1v3.3"/>
<rect x="180.9" y="244.5" width="29.3" height="30.8"/>
<path stroke="#3a3a3a" stroke-width=".58" d="M188.3 214.5h14.6 M188.3 298.8h14.6"/>
<path stroke="#000" stroke-width=".75" stroke-dasharray="1.5 1.3" d="M195.6 244.5V214.5 M195.6 275.3V298.8"/>
<path stroke="#0a0a0a" stroke-width="1.6" d="M180.9 262.6H210.2"/>
</g>
<g font-family="'Liberation Sans',Arial,sans-serif" fill="#1a1a1a" stroke="#1a1a1a" stroke-width=".12" text-anchor="middle">
<text font-size="5.6" transform="translate(130.9 231.8) rotate(-90) scale(0.72 1)">10</text>
<text font-size="5.6" transform="translate(130.9 254.2) rotate(-90) scale(0.72 1)">9</text>
<text font-size="5.6" transform="translate(130.9 276.5) rotate(-90) scale(0.72 1)">8</text>
<text font-size="5.6" transform="translate(130.9 298.8) rotate(-90) scale(0.72 1)">7</text>
<text stroke-width=".1" fill="#2a2a2a" font-size="6.0" text-anchor="start" textLength="27" lengthAdjust="spacingAndGlyphs" transform="translate(118.1 271.1) rotate(-90)">IFNG Scores</text>
<text stroke-width=".08" text-anchor="start" textLength="7.5" lengthAdjust="spacingAndGlyphs" font-size="4.9" x="156.1" y="312.3">Epi</text>
<text stroke-width=".08" text-anchor="start" textLength="9.8" lengthAdjust="spacingAndGlyphs" font-size="4.9" x="190.7" y="312.3">Mes</text>
</g>
<text font-family="'DejaVu Sans',Verdana,sans-serif" font-weight="bold" font-size="8.4" x="159.9" y="324.5" fill="#111" textLength="33.6" lengthAdjust="spacingAndGlyphs">Leipzig</text>
<text font-family="'DejaVu Sans',Verdana,sans-serif" font-size="8.3" x="150.6" y="204.3" fill="#222" stroke="#222" stroke-width=".07" textLength="61.2" lengthAdjust="spacingAndGlyphs">P =1.9 x 10<tspan font-size="5.8" dy="-2.7" stroke-width=".22">-3</tspan></text></g>
<g><g fill="none" stroke="#000" stroke-width=".62" transform="scale(1 .9)">
<circle cx="271.1" cy="277.1" r="0.98"/><circle cx="269.7" cy="244.3" r="0.98"/><circle cx="278.2" cy="277.1" r="0.98"/><circle cx="270" cy="270.9" r="0.98"/><circle cx="276.5" cy="283.8" r="0.98"/><circle cx="264.5" cy="294.6" r="0.98"/><circle cx="273.8" cy="273.9" r="0.98"/><circle cx="267.3" cy="304.7" r="0.98"/><circle cx="270.2" cy="306.6" r="0.98"/><circle cx="276.1" cy="278.8" r="0.98"/><circle cx="270.4" cy="294.8" r="0.98"/><circle cx="274.5" cy="277.9" r="0.98"/><circle cx="272.4" cy="271" r="0.98"/><circle cx="275.5" cy="279.6" r="0.98"/><circle cx="266.1" cy="269.8" r="0.98"/><circle cx="266.1" cy="289.8" r="0.98"/><circle cx="275.7" cy="294" r="0.98"/><circle cx="276" cy="255.3" r="0.98"/><circle cx="270.4" cy="267.7" r="0.98"/><circle cx="268" cy="277.8" r="0.98"/><circle cx="275.7" cy="325.9" r="0.98"/><circle cx="276.5" cy="295.6" r="0.98"/><circle cx="267.6" cy="265.9" r="0.98"/><circle cx="267.3" cy="258.1" r="0.98"/><circle cx="273.5" cy="275.8" r="0.98"/><circle cx="270.2" cy="272.3" r="0.98"/><circle cx="272.3" cy="244.5" r="0.98"/><circle cx="272.2" cy="258" r="0.98"/><circle cx="267.7" cy="263" r="0.98"/><circle cx="272.7" cy="298.7" r="0.98"/><circle cx="270.9" cy="272.2" r="0.98"/><circle cx="272.1" cy="291" r="0.98"/><circle cx="266" cy="257.2" r="0.98"/><circle cx="272.8" cy="266.9" r="0.98"/><circle cx="277.1" cy="303.2" r="0.98"/><circle cx="277.3" cy="282.2" r="0.98"/><circle cx="272.8" cy="291.7" r="0.98"/><circle cx="266.4" cy="303.4" r="0.98"/><circle cx="274.7" cy="274.6" r="0.98"/><circle cx="278" cy="301.9" r="0.98"/><circle cx="264.1" cy="267" r="0.98"/><circle cx="267.8" cy="250.2" r="0.98"/><circle cx="274.9" cy="272.7" r="0.98"/><circle cx="265.9" cy="266.6" r="0.98"/><circle cx="275.4" cy="303.9" r="0.98"/><circle cx="265.9" cy="274.7" r="0.98"/><circle cx="274.2" cy="282.8" r="0.98"/><circle cx="264.4" cy="294" r="0.98"/><circle cx="269.1" cy="287.6" r="0.98"/><circle cx="268.5" cy="250.7" r="0.98"/><circle cx="272.4" cy="308.9" r="0.98"/><circle cx="268.3" cy="268.7" r="0.98"/><circle cx="274.5" cy="273.3" r="0.98"/><circle cx="272.9" cy="288.1" r="0.98"/><circle cx="272.2" cy="273.8" r="0.98"/><circle cx="276.4" cy="287.5" r="0.98"/><circle cx="264.9" cy="280.7" r="0.98"/><circle cx="268.8" cy="249.7" r="0.98"/><circle cx="265.3" cy="299.6" r="0.98"/><circle cx="278.1" cy="309.1" r="0.98"/><circle cx="277.8" cy="291.3" r="0.98"/><circle cx="268.5" cy="242.7" r="0.98"/><circle cx="277.8" cy="294.1" r="0.98"/><circle cx="272.4" cy="256.3" r="0.98"/><circle cx="270.4" cy="304.9" r="0.98"/><circle cx="277.2" cy="273.4" r="0.98"/><circle cx="277.4" cy="267.9" r="0.98"/><circle cx="263.9" cy="297.8" r="0.98"/><circle cx="276.5" cy="274" r="0.98"/><circle cx="278" cy="298.3" r="0.98"/><circle cx="269.3" cy="277.2" r="0.98"/><circle cx="268.1" cy="295" r="0.98"/><circle cx="266.9" cy="255.7" r="0.98"/><circle cx="268.5" cy="272.2" r="0.98"/><circle cx="276.8" cy="258.4" r="0.98"/><circle cx="272.2" cy="278.2" r="0.98"/><circle cx="272.3" cy="280.6" r="0.98"/><circle cx="272" cy="255.7" r="0.98"/><circle cx="276.7" cy="275.8" r="0.98"/><circle cx="278.4" cy="300.9" r="0.98"/><circle cx="272" cy="241.6" r="0.98"/><circle cx="267.1" cy="278.1" r="0.98"/><circle cx="272.1" cy="269.9" r="0.98"/><circle cx="269.6" cy="281.7" r="0.98"/><circle cx="265" cy="282.4" r="0.98"/><circle cx="269" cy="315.4" r="0.98"/><circle cx="278" cy="305.8" r="0.98"/><circle cx="273.7" cy="299.4" r="0.98"/><circle cx="274.2" cy="288.7" r="0.98"/><circle cx="269.3" cy="307.3" r="0.98"/><circle cx="265.5" cy="261.4" r="0.98"/><circle cx="268.2" cy="289.4" r="0.98"/><circle cx="270.1" cy="267.6" r="0.98"/><circle cx="270" cy="308.6" r="0.98"/><circle cx="276.3" cy="285.3" r="0.98"/><circle cx="266.7" cy="301.4" r="0.98"/><circle cx="264.9" cy="279.3" r="0.98"/><circle cx="272.5" cy="262.3" r="0.98"/><circle cx="275.4" cy="275.9" r="0.98"/><circle cx="275.9" cy="266.8" r="0.98"/><circle cx="265.7" cy="297.3" r="0.98"/><circle cx="269.4" cy="284.1" r="0.98"/><circle cx="265.1" cy="250.5" r="0.98"/><circle cx="278" cy="293.2" r="0.98"/><circle cx="270" cy="271.2" r="0.98"/><circle cx="278.6" cy="267.1" r="0.98"/><circle cx="265.7" cy="251.7" r="0.98"/><circle cx="273.2" cy="266.2" r="0.98"/><circle cx="265.1" cy="281.2" r="0.98"/><circle cx="269.9" cy="262" r="0.98"/><circle cx="264.8" cy="265.1" r="0.98"/><circle cx="271.4" cy="276" r="0.98"/><circle cx="263.6" cy="285.8" r="0.98"/><circle cx="274.8" cy="259.2" r="0.98"/><circle cx="270.4" cy="296.6" r="0.98"/><circle cx="277.9" cy="266.4" r="0.98"/><circle cx="272.7" cy="298.4" r="0.98"/><circle cx="273.8" cy="306.6" r="0.98"/><circle cx="279.3" cy="283.5" r="0.98"/><circle cx="272.3" cy="282.8" r="0.98"/><circle cx="270.3" cy="272.4" r="0.98"/><circle cx="267.8" cy="263.6" r="0.98"/><circle cx="273.9" cy="273.1" r="0.98"/><circle cx="266.6" cy="285.3" r="0.98"/><circle cx="273.9" cy="260.6" r="0.98"/><circle cx="272.8" cy="275.8" r="0.98"/><circle cx="271.5" cy="287.8" r="0.98"/><circle cx="274.7" cy="282.7" r="0.98"/><circle cx="273.7" cy="280.1" r="0.98"/><circle cx="269.7" cy="292.6" r="0.98"/><circle cx="275.7" cy="275.8" r="0.98"/><circle cx="276.7" cy="252.4" r="0.98"/><circle cx="277.4" cy="268.4" r="0.98"/><circle cx="264.9" cy="282.9" r="0.98"/><circle cx="264.3" cy="264.1" r="0.98"/><circle cx="271.9" cy="296.4" r="0.98"/><circle cx="277.6" cy="257.3" r="0.98"/><circle cx="277" cy="286.4" r="0.98"/><circle cx="268.4" cy="284.6" r="0.98"/><circle cx="270.1" cy="287.3" r="0.98"/><circle cx="273.6" cy="247.3" r="0.98"/><circle cx="270.9" cy="265.6" r="0.98"/><circle cx="267.4" cy="300.1" r="0.98"/><circle cx="275.8" cy="305.5" r="0.98"/><circle cx="268.7" cy="300.4" r="0.98"/><circle cx="278.2" cy="266.1" r="0.98"/><circle cx="271.3" cy="329.6" r="0.98"/><circle cx="277.8" cy="282.5" r="0.98"/><circle cx="268.4" cy="252.2" r="0.98"/><circle cx="274.2" cy="264.7" r="0.98"/><circle cx="265.2" cy="280.2" r="0.98"/><circle cx="279" cy="295.4" r="0.98"/><circle cx="273.9" cy="317.7" r="0.98"/><circle cx="271.7" cy="279.9" r="0.98"/><circle cx="269.1" cy="279.8" r="0.98"/><circle cx="267.6" cy="301.2" r="0.98"/><circle cx="277.6" cy="258.2" r="0.98"/><circle cx="267" cy="308.4" r="0.98"/><circle cx="267.4" cy="264" r="0.98"/><circle cx="272.6" cy="252" r="0.98"/><circle cx="274" cy="279.5" r="0.98"/><circle cx="272.4" cy="250.6" r="0.98"/><circle cx="275.2" cy="286" r="0.98"/><circle cx="270.4" cy="288.5" r="0.98"/><circle cx="276.1" cy="296.7" r="0.98"/><circle cx="264.9" cy="311" r="0.98"/><circle cx="274.6" cy="317.8" r="0.98"/><circle cx="272.7" cy="271.3" r="0.98"/><circle cx="269.5" cy="278.8" r="0.98"/><circle cx="276" cy="264.1" r="0.98"/><circle cx="266.5" cy="291.7" r="0.98"/><circle cx="272.8" cy="315.8" r="0.98"/><circle cx="273.9" cy="329.3" r="0.98"/><circle cx="272.6" cy="245.2" r="0.98"/><circle cx="276.1" cy="284.9" r="0.98"/><circle cx="278.4" cy="299.4" r="0.98"/><circle cx="274.4" cy="303.1" r="0.98"/><circle cx="278.4" cy="281.3" r="0.98"/><circle cx="264.4" cy="294.2" r="0.98"/><circle cx="270.3" cy="292.7" r="0.98"/><circle cx="277.2" cy="260.5" r="0.98"/><circle cx="275.2" cy="273.7" r="0.98"/><circle cx="267.6" cy="296.8" r="0.98"/><circle cx="272.6" cy="306.2" r="0.98"/><circle cx="277.4" cy="301.5" r="0.98"/><circle cx="268.9" cy="282.7" r="0.98"/><circle cx="277.4" cy="289" r="0.98"/><circle cx="276.1" cy="271" r="0.98"/><circle cx="276" cy="267.4" r="0.98"/><circle cx="269.7" cy="283.7" r="0.98"/><circle cx="274.4" cy="277.6" r="0.98"/><circle cx="265.4" cy="268.5" r="0.98"/><circle cx="270" cy="264.8" r="0.98"/><circle cx="269.8" cy="285.2" r="0.98"/><circle cx="266.3" cy="260.7" r="0.98"/><circle cx="271" cy="275.2" r="0.98"/><circle cx="273" cy="274" r="0.98"/><circle cx="270" cy="264.5" r="0.98"/><circle cx="265.6" cy="253.1" r="0.98"/><circle cx="266.3" cy="256.7" r="0.98"/><circle cx="277.3" cy="308.8" r="0.98"/><circle cx="269" cy="254.2" r="0.98"/><circle cx="274.9" cy="274" r="0.98"/><circle cx="265.9" cy="259" r="0.98"/><circle cx="268.2" cy="271.6" r="0.98"/><circle cx="271.8" cy="252.5" r="0.98"/><circle cx="274.1" cy="276.3" r="0.98"/><circle cx="263.9" cy="268.1" r="0.98"/><circle cx="274.5" cy="282.5" r="0.98"/><circle cx="267.5" cy="267.2" r="0.98"/><circle cx="277" cy="292.8" r="0.98"/><circle cx="266" cy="262" r="0.98"/><circle cx="271.9" cy="290.5" r="0.98"/><circle cx="268.2" cy="321.5" r="0.98"/><circle cx="275.9" cy="259.4" r="0.98"/><circle cx="274.6" cy="276.3" r="0.98"/><circle cx="265" cy="270.2" r="0.98"/><circle cx="278.3" cy="305.1" r="0.98"/><circle cx="267.1" cy="283" r="0.98"/><circle cx="268.6" cy="299.5" r="0.98"/><circle cx="268.4" cy="267.2" r="0.98"/><circle cx="269.6" cy="266.7" r="0.98"/><circle cx="275.5" cy="322.9" r="0.98"/><circle cx="277.5" cy="311.3" r="0.98"/><circle cx="269.2" cy="326.8" r="0.98"/><circle cx="269.5" cy="284.2" r="0.98"/><circle cx="272.1" cy="285.1" r="0.98"/><circle cx="278.9" cy="291.4" r="0.98"/><circle cx="276.8" cy="247" r="0.98"/><circle cx="271.4" cy="278.3" r="0.98"/><circle cx="264.7" cy="273.2" r="0.98"/><circle cx="267.4" cy="284.4" r="0.98"/><circle cx="271.8" cy="296.2" r="0.98"/><circle cx="268" cy="265.4" r="0.98"/><circle cx="270.8" cy="239.6" r="0.98"/><circle cx="274" cy="288.7" r="0.98"/><circle cx="264.9" cy="263.9" r="0.98"/><circle cx="264.3" cy="274" r="0.98"/><circle cx="266.5" cy="289.9" r="0.98"/><circle cx="268" cy="274.3" r="0.98"/><circle cx="273.9" cy="285.3" r="0.98"/><circle cx="272.6" cy="264.3" r="0.98"/><circle cx="273.4" cy="279.1" r="0.98"/><circle cx="272.2" cy="269.6" r="0.98"/><circle cx="270.5" cy="274.8" r="0.98"/><circle cx="276.4" cy="260.6" r="0.98"/><circle cx="270.8" cy="310.8" r="0.98"/><circle cx="271.5" cy="291.7" r="0.98"/><circle cx="264.6" cy="295.5" r="0.98"/><circle cx="267.8" cy="294" r="0.98"/><circle cx="271.3" cy="307.8" r="0.98"/><circle cx="265.1" cy="279" r="0.98"/><circle cx="264.8" cy="281.4" r="0.98"/><circle cx="278.2" cy="278.3" r="0.98"/><circle cx="278.7" cy="276.3" r="0.98"/><circle cx="265.5" cy="259.3" r="0.98"/><circle cx="275.2" cy="296.4" r="0.98"/><circle cx="265.5" cy="283.9" r="0.98"/><circle cx="271.5" cy="253.2" r="0.98"/><circle cx="272.4" cy="279.8" r="0.98"/><circle cx="266.2" cy="272.2" r="0.98"/><circle cx="272.9" cy="307.2" r="0.98"/><circle cx="276.8" cy="305.6" r="0.98"/><circle cx="272.9" cy="271.4" r="0.98"/><circle cx="277.9" cy="271.8" r="0.98"/><circle cx="274.9" cy="275.8" r="0.98"/><circle cx="269.8" cy="240.1" r="0.98"/><circle cx="267.4" cy="302" r="0.98"/><circle cx="265.4" cy="309.5" r="0.98"/><circle cx="266" cy="283.9" r="0.98"/><circle cx="276.4" cy="284.5" r="0.98"/><circle cx="267.5" cy="273.1" r="0.98"/><circle cx="270.2" cy="308.7" r="0.98"/><circle cx="267.6" cy="263.4" r="0.98"/><circle cx="274" cy="257.3" r="0.98"/><circle cx="278.5" cy="279.6" r="0.98"/><circle cx="267.8" cy="258.3" r="0.98"/><circle cx="273.6" cy="275.2" r="0.98"/><circle cx="271.4" cy="278" r="0.98"/><circle cx="278.6" cy="292.3" r="0.98"/><circle cx="265.3" cy="258.2" r="0.98"/><circle cx="268" cy="301.1" r="0.98"/><circle cx="271.6" cy="313.1" r="0.98"/><circle cx="267.1" cy="316.2" r="0.98"/><circle cx="279" cy="279.3" r="0.98"/><circle cx="277.1" cy="309.2" r="0.98"/><circle cx="277.4" cy="278.6" r="0.98"/><circle cx="270.9" cy="256" r="0.98"/><circle cx="276.9" cy="281.4" r="0.98"/><circle cx="271.2" cy="302.2" r="0.98"/><circle cx="269.5" cy="236.6" r="0.98"/><circle cx="272.5" cy="333.3" r="0.98"/>
</g>
<g fill="none" stroke="#b9b9b9" stroke-width=".62" transform="scale(1 .9)">
<circle cx="300.9" cy="275.9" r="0.98"/><circle cx="312.7" cy="294.3" r="0.98"/><circle cx="306.2" cy="281.9" r="0.98"/><circle cx="298.6" cy="286.3" r="0.98"/><circle cx="303.5" cy="271.3" r="0.98"/><circle cx="299.8" cy="285.7" r="0.98"/><circle cx="300.4" cy="286.9" r="0.98"/><circle cx="304.8" cy="281.7" r="0.98"/><circle cx="307.7" cy="289.8" r="0.98"/><circle cx="307.6" cy="267.7" r="0.98"/><circle cx="310" cy="284.9" r="0.98"/><circle cx="301" cy="272.6" r="0.98"/><circle cx="303.6" cy="267.3" r="0.98"/><circle cx="314.9" cy="275.2" r="0.98"/><circle cx="306.7" cy="263.9" r="0.98"/><circle cx="304.9" cy="305.2" r="0.98"/><circle cx="311.4" cy="279.9" r="0.98"/><circle cx="307.3" cy="271.2" r="0.98"/><circle cx="311.4" cy="253.9" r="0.98"/><circle cx="299.4" cy="274.8" r="0.98"/><circle cx="309.6" cy="259.7" r="0.98"/><circle cx="310.1" cy="288.4" r="0.98"/><circle cx="312.5" cy="304.6" r="0.98"/><circle cx="303.3" cy="269.8" r="0.98"/><circle cx="311.9" cy="307.5" r="0.98"/><circle cx="301.9" cy="261.7" r="0.98"/><circle cx="303.7" cy="292.8" r="0.98"/><circle cx="310.3" cy="265.1" r="0.98"/><circle cx="314.8" cy="281.7" r="0.98"/><circle cx="315.1" cy="281.3" r="0.98"/><circle cx="311.7" cy="299.3" r="0.98"/><circle cx="300.3" cy="306.2" r="0.98"/><circle cx="305.5" cy="270.7" r="0.98"/><circle cx="306.7" cy="246.8" r="0.98"/><circle cx="302.1" cy="277.4" r="0.98"/><circle cx="312" cy="268.7" r="0.98"/><circle cx="302.2" cy="264.5" r="0.98"/><circle cx="301.2" cy="266.5" r="0.98"/><circle cx="305.5" cy="295.1" r="0.98"/><circle cx="302.5" cy="274.7" r="0.98"/><circle cx="314.3" cy="288.7" r="0.98"/><circle cx="313.9" cy="291.2" r="0.98"/><circle cx="311.3" cy="296.2" r="0.98"/><circle cx="316.2" cy="285.7" r="0.98"/><circle cx="306.7" cy="255.6" r="0.98"/><circle cx="303.9" cy="294.6" r="0.98"/><circle cx="303.8" cy="239.6" r="0.98"/><circle cx="310.2" cy="298.6" r="0.98"/><circle cx="314.7" cy="285.1" r="0.98"/><circle cx="310.8" cy="301.6" r="0.98"/><circle cx="302.2" cy="291.9" r="0.98"/><circle cx="315.9" cy="293.6" r="0.98"/><circle cx="303" cy="291.4" r="0.98"/><circle cx="301.7" cy="281" r="0.98"/><circle cx="316.3" cy="282.4" r="0.98"/><circle cx="309" cy="263.4" r="0.98"/><circle cx="310.9" cy="276.9" r="0.98"/><circle cx="316" cy="271.2" r="0.98"/><circle cx="315.7" cy="275.2" r="0.98"/><circle cx="315.2" cy="280.8" r="0.98"/><circle cx="305.7" cy="303.9" r="0.98"/><circle cx="314.6" cy="267.4" r="0.98"/><circle cx="310.3" cy="281" r="0.98"/><circle cx="302.8" cy="272.1" r="0.98"/><circle cx="303.5" cy="264.7" r="0.98"/><circle cx="304" cy="302.7" r="0.98"/><circle cx="309.5" cy="279.3" r="0.98"/><circle cx="313" cy="254.2" r="0.98"/><circle cx="300.2" cy="288.1" r="0.98"/><circle cx="316.3" cy="275.1" r="0.98"/><circle cx="299" cy="273.4" r="0.98"/><circle cx="312.3" cy="298" r="0.98"/><circle cx="312.3" cy="243.4" r="0.98"/><circle cx="302.3" cy="284.1" r="0.98"/><circle cx="316.5" cy="279.9" r="0.98"/><circle cx="301.8" cy="280.5" r="0.98"/><circle cx="299.6" cy="297.5" r="0.98"/><circle cx="312.7" cy="264.1" r="0.98"/><circle cx="309.1" cy="275" r="0.98"/><circle cx="312.8" cy="271.4" r="0.98"/><circle cx="316.2" cy="270" r="0.98"/><circle cx="305.6" cy="242.5" r="0.98"/><circle cx="304.8" cy="297.5" r="0.98"/><circle cx="303.9" cy="312.9" r="0.98"/><circle cx="311.7" cy="280.9" r="0.98"/><circle cx="301.4" cy="295" r="0.98"/><circle cx="310.8" cy="270.7" r="0.98"/><circle cx="312.5" cy="306.1" r="0.98"/><circle cx="304.9" cy="275.5" r="0.98"/><circle cx="303.2" cy="277.1" r="0.98"/><circle cx="311" cy="281.5" r="0.98"/><circle cx="310.4" cy="260.3" r="0.98"/><circle cx="310.4" cy="269.9" r="0.98"/><circle cx="310.9" cy="279.6" r="0.98"/><circle cx="313.5" cy="292.4" r="0.98"/><circle cx="308.1" cy="303.3" r="0.98"/><circle cx="300.4" cy="276.5" r="0.98"/><circle cx="303.8" cy="270.4" r="0.98"/><circle cx="314.8" cy="283.6" r="0.98"/><circle cx="302.1" cy="289.3" r="0.98"/><circle cx="302.4" cy="279.2" r="0.98"/><circle cx="298.6" cy="271.6" r="0.98"/><circle cx="314.1" cy="265.9" r="0.98"/><circle cx="300.2" cy="247.2" r="0.98"/><circle cx="311.2" cy="288.4" r="0.98"/><circle cx="304.5" cy="288.5" r="0.98"/><circle cx="314.4" cy="258.2" r="0.98"/><circle cx="302.9" cy="260.4" r="0.98"/><circle cx="307.6" cy="279.2" r="0.98"/><circle cx="301.1" cy="258.7" r="0.98"/><circle cx="308.3" cy="273.8" r="0.98"/><circle cx="308.9" cy="285.9" r="0.98"/><circle cx="315.6" cy="252" r="0.98"/><circle cx="307.3" cy="265" r="0.98"/><circle cx="308.5" cy="265.2" r="0.98"/><circle cx="314.2" cy="297.6" r="0.98"/><circle cx="302.9" cy="270.4" r="0.98"/><circle cx="316.3" cy="269.8" r="0.98"/><circle cx="308" cy="282.8" r="0.98"/><circle cx="314.3" cy="260.3" r="0.98"/><circle cx="313.7" cy="255.3" r="0.98"/><circle cx="307.3" cy="293.1" r="0.98"/><circle cx="302.2" cy="269.4" r="0.98"/><circle cx="304.2" cy="262.2" r="0.98"/><circle cx="309.9" cy="275" r="0.98"/><circle cx="300.9" cy="262.5" r="0.98"/><circle cx="309.6" cy="281.4" r="0.98"/><circle cx="307.6" cy="252.5" r="0.98"/><circle cx="310" cy="282.1" r="0.98"/><circle cx="300.2" cy="256.2" r="0.98"/><circle cx="305.8" cy="290.4" r="0.98"/><circle cx="311.2" cy="278.6" r="0.98"/><circle cx="303.1" cy="289.7" r="0.98"/><circle cx="304.5" cy="271.7" r="0.98"/><circle cx="307.5" cy="256.8" r="0.98"/><circle cx="315.2" cy="272.1" r="0.98"/><circle cx="303.4" cy="275.8" r="0.98"/><circle cx="308.2" cy="266.4" r="0.98"/><circle cx="303.1" cy="254.3" r="0.98"/><circle cx="307.9" cy="266.1" r="0.98"/><circle cx="301.8" cy="262.6" r="0.98"/><circle cx="311.8" cy="272.1" r="0.98"/><circle cx="307.8" cy="286.6" r="0.98"/><circle cx="314.4" cy="256" r="0.98"/><circle cx="305.4" cy="290.2" r="0.98"/><circle cx="305.9" cy="280.6" r="0.98"/><circle cx="303.6" cy="293.9" r="0.98"/><circle cx="304.2" cy="261.9" r="0.98"/><circle cx="314.1" cy="267" r="0.98"/><circle cx="313.9" cy="264.3" r="0.98"/><circle cx="303.1" cy="272.9" r="0.98"/><circle cx="310" cy="294" r="0.98"/><circle cx="314.9" cy="304.3" r="0.98"/><circle cx="316.2" cy="281" r="0.98"/><circle cx="313.6" cy="267.3" r="0.98"/><circle cx="306.6" cy="311.7" r="0.98"/><circle cx="301.6" cy="266.9" r="0.98"/><circle cx="304" cy="273.6" r="0.98"/><circle cx="299.4" cy="263.9" r="0.98"/><circle cx="307.7" cy="265.2" r="0.98"/><circle cx="309.9" cy="242.7" r="0.98"/><circle cx="314.2" cy="281.5" r="0.98"/><circle cx="309" cy="271.6" r="0.98"/><circle cx="304.5" cy="277.9" r="0.98"/><circle cx="307" cy="276" r="0.98"/><circle cx="308.5" cy="257.3" r="0.98"/><circle cx="299.9" cy="286.4" r="0.98"/><circle cx="304.9" cy="313.6" r="0.98"/><circle cx="306.6" cy="261" r="0.98"/><circle cx="307.2" cy="253" r="0.98"/><circle cx="305.4" cy="272" r="0.98"/><circle cx="298.4" cy="276.6" r="0.98"/><circle cx="315.8" cy="260.8" r="0.98"/><circle cx="315.7" cy="289.8" r="0.98"/><circle cx="301.1" cy="281.4" r="0.98"/><circle cx="310.6" cy="280.8" r="0.98"/><circle cx="315.2" cy="265.3" r="0.98"/><circle cx="315.9" cy="257.6" r="0.98"/><circle cx="311.5" cy="280" r="0.98"/><circle cx="302.3" cy="287.8" r="0.98"/><circle cx="302.6" cy="270.3" r="0.98"/><circle cx="302.9" cy="268.6" r="0.98"/><circle cx="306.1" cy="278" r="0.98"/><circle cx="299.7" cy="264.6" r="0.98"/><circle cx="300.3" cy="253.2" r="0.98"/><circle cx="314.8" cy="276.4" r="0.98"/><circle cx="306.3" cy="283.2" r="0.98"/><circle cx="299.9" cy="261.9" r="0.98"/><circle cx="304.5" cy="270.3" r="0.98"/><circle cx="309.7" cy="268.6" r="0.98"/><circle cx="307.6" cy="252.6" r="0.98"/><circle cx="312.8" cy="278.9" r="0.98"/><circle cx="311.2" cy="276" r="0.98"/><circle cx="303.8" cy="272.5" r="0.98"/><circle cx="307.1" cy="262.8" r="0.98"/><circle cx="312.9" cy="310.4" r="0.98"/><circle cx="302.8" cy="272.1" r="0.98"/><circle cx="314.2" cy="313.1" r="0.98"/><circle cx="313" cy="241.4" r="0.98"/><circle cx="311.1" cy="297.1" r="0.98"/><circle cx="315.4" cy="273.9" r="0.98"/><circle cx="314.7" cy="278.2" r="0.98"/><circle cx="303.4" cy="280.8" r="0.98"/><circle cx="305.4" cy="239.3" r="0.98"/><circle cx="313.6" cy="276" r="0.98"/><circle cx="302.9" cy="290.4" r="0.98"/><circle cx="315.4" cy="287.1" r="0.98"/><circle cx="307.7" cy="285.1" r="0.98"/><circle cx="308.9" cy="285.4" r="0.98"/><circle cx="311.1" cy="283.8" r="0.98"/><circle cx="306.6" cy="294.8" r="0.98"/><circle cx="316.2" cy="290.4" r="0.98"/><circle cx="310.3" cy="246.4" r="0.98"/><circle cx="307" cy="284.8" r="0.98"/><circle cx="313.1" cy="267.6" r="0.98"/><circle cx="301.1" cy="285.5" r="0.98"/><circle cx="312.7" cy="277.4" r="0.98"/><circle cx="309.5" cy="258.5" r="0.98"/><circle cx="303.5" cy="267" r="0.98"/><circle cx="305.4" cy="273.9" r="0.98"/><circle cx="308.4" cy="308.9" r="0.98"/><circle cx="314.3" cy="272.7" r="0.98"/><circle cx="302" cy="302.7" r="0.98"/><circle cx="305.5" cy="268.7" r="0.98"/><circle cx="315.2" cy="283.7" r="0.98"/><circle cx="301.2" cy="287.5" r="0.98"/><circle cx="308.9" cy="264.8" r="0.98"/><circle cx="314.8" cy="283.7" r="0.98"/><circle cx="309.4" cy="289.5" r="0.98"/><circle cx="298.8" cy="268.9" r="0.98"/><circle cx="314.9" cy="305.3" r="0.98"/><circle cx="312.8" cy="281.5" r="0.98"/><circle cx="306.2" cy="275.9" r="0.98"/><circle cx="310.9" cy="283.6" r="0.98"/><circle cx="307" cy="289.9" r="0.98"/><circle cx="310.9" cy="264.3" r="0.98"/><circle cx="311.9" cy="309.7" r="0.98"/><circle cx="302.2" cy="277.2" r="0.98"/><circle cx="305" cy="253.2" r="0.98"/><circle cx="315.5" cy="281.3" r="0.98"/><circle cx="312.1" cy="291.5" r="0.98"/><circle cx="298.6" cy="274.5" r="0.98"/><circle cx="304.6" cy="271.8" r="0.98"/><circle cx="313.9" cy="266.1" r="0.98"/><circle cx="305.4" cy="263.7" r="0.98"/><circle cx="315.3" cy="260.3" r="0.98"/><circle cx="315.5" cy="282.8" r="0.98"/><circle cx="302.2" cy="248.8" r="0.98"/><circle cx="302.3" cy="266.3" r="0.98"/><circle cx="316.6" cy="275.5" r="0.98"/><circle cx="310.8" cy="251.9" r="0.98"/><circle cx="316.4" cy="280.2" r="0.98"/><circle cx="299.7" cy="283.5" r="0.98"/><circle cx="306.4" cy="271.8" r="0.98"/><circle cx="300.2" cy="268.9" r="0.98"/><circle cx="299.9" cy="247.2" r="0.98"/><circle cx="299.8" cy="268.9" r="0.98"/><circle cx="316.1" cy="285.1" r="0.98"/><circle cx="310.6" cy="290.6" r="0.98"/><circle cx="316.2" cy="285.1" r="0.98"/><circle cx="313.1" cy="253.9" r="0.98"/><circle cx="314" cy="270.1" r="0.98"/><circle cx="302.6" cy="254.9" r="0.98"/><circle cx="316.6" cy="283" r="0.98"/><circle cx="306.4" cy="258.9" r="0.98"/><circle cx="315.6" cy="266.4" r="0.98"/><circle cx="308.6" cy="258.7" r="0.98"/><circle cx="305" cy="305.9" r="0.98"/><circle cx="313.9" cy="244.8" r="0.98"/><circle cx="312.9" cy="284.4" r="0.98"/><circle cx="300.9" cy="271.1" r="0.98"/><circle cx="310.4" cy="266.4" r="0.98"/><circle cx="306.4" cy="290.9" r="0.98"/><circle cx="303.5" cy="291.6" r="0.98"/><circle cx="305.6" cy="236.9" r="0.98"/><circle cx="306.6" cy="313.8" r="0.98"/><circle cx="304.4" cy="325.1" r="0.98"/><circle cx="312.3" cy="328" r="0.98"/>
</g>
<g fill="none" stroke="#1e1e1e" stroke-width=".7">
<rect x="249.6" y="209.2" width="79.5" height="93.8"/>
<path d="M249.6 225.9h-3.6"/>
<path d="M249.6 245h-3.6"/>
<path d="M249.6 264.4h-3.6"/>
<path d="M249.6 283.6h-3.6"/>
<path d="M249.6 303h-3.6"/>
<path d="M271.4 303v3.3"/>
<rect x="256.4" y="241.5" width="29.5" height="24.7"/>
<path stroke="#3a3a3a" stroke-width=".58" d="M264 212.9h14.8 M264 300h14.8"/>
<path stroke="#000" stroke-width=".75" stroke-dasharray="1.5 1.3" d="M271.4 241.5V212.9 M271.4 266.2V300"/>
<path stroke="#0a0a0a" stroke-width="1.6" d="M256.4 252.6H285.9"/>
<path d="M307.6 303v3.3"/>
<rect x="292.4" y="239.7" width="30.2" height="20.3"/>
<path stroke="#3a3a3a" stroke-width=".58" d="M300.1 213.2h15.1 M300.1 282.4h15.1"/>
<path stroke="#000" stroke-width=".75" stroke-dasharray="1.5 1.3" d="M307.6 239.7V213.2 M307.6 260V282.4"/>
<path stroke="#0a0a0a" stroke-width="1.6" d="M292.4 249.4H322.6"/>
</g>
<g font-family="'Liberation Sans',Arial,sans-serif" fill="#1a1a1a" stroke="#1a1a1a" stroke-width=".12" text-anchor="middle">
<text font-size="5.6" transform="translate(241.9 225.9) rotate(-90) scale(0.72 1)">10</text>
<text font-size="5.6" transform="translate(241.9 245) rotate(-90) scale(0.72 1)">8</text>
<text font-size="5.6" transform="translate(241.9 264.4) rotate(-90) scale(0.72 1)">6</text>
<text font-size="5.6" transform="translate(241.9 283.6) rotate(-90) scale(0.72 1)">4</text>
<text font-size="5.6" transform="translate(241.9 303) rotate(-90) scale(0.72 1)">2</text>
<text stroke-width=".1" fill="#2a2a2a" font-size="6.0" text-anchor="start" textLength="24.9" lengthAdjust="spacingAndGlyphs" transform="translate(228.5 268.9) rotate(-90)">CYT Scores</text>
<text stroke-width=".08" text-anchor="start" textLength="7.5" lengthAdjust="spacingAndGlyphs" font-size="4.9" x="267.6" y="313.7">Epi</text>
<text stroke-width=".08" text-anchor="start" textLength="9.8" lengthAdjust="spacingAndGlyphs" font-size="4.9" x="302.7" y="313.7">Mes</text>
</g>
<text font-family="'DejaVu Sans',Verdana,sans-serif" font-weight="bold" font-size="8.4" x="276.2" y="323.8" fill="#111" textLength="25.6" lengthAdjust="spacingAndGlyphs">TCGA</text>
<text font-family="'DejaVu Sans',Verdana,sans-serif" font-size="8.3" x="257.6" y="203.4" fill="#222" stroke="#222" stroke-width=".07" textLength="64.8" lengthAdjust="spacingAndGlyphs">P = 7.9 x 10<tspan font-size="5.8" dy="-2.7" stroke-width=".22">-3</tspan></text></g>
<g><g fill="none" stroke="#000" stroke-width=".62" transform="scale(1 .9)">
<circle cx="388.7" cy="304.8" r="0.98"/><circle cx="379.5" cy="311.1" r="0.98"/><circle cx="391.9" cy="290.8" r="0.98"/><circle cx="384" cy="311.9" r="0.98"/><circle cx="382.8" cy="285.1" r="0.98"/><circle cx="381.2" cy="267.8" r="0.98"/><circle cx="380.1" cy="275.4" r="0.98"/><circle cx="376.7" cy="308.1" r="0.98"/><circle cx="383.5" cy="282.2" r="0.98"/><circle cx="383.7" cy="285.4" r="0.98"/><circle cx="377.5" cy="280.6" r="0.98"/><circle cx="385.7" cy="292.6" r="0.98"/><circle cx="384.6" cy="290.7" r="0.98"/><circle cx="386.1" cy="314.1" r="0.98"/><circle cx="387.1" cy="298.8" r="0.98"/><circle cx="389" cy="302.7" r="0.98"/><circle cx="383.9" cy="306" r="0.98"/><circle cx="382.3" cy="327.2" r="0.98"/><circle cx="388.6" cy="306.8" r="0.98"/><circle cx="376.8" cy="294.3" r="0.98"/><circle cx="379.7" cy="297.4" r="0.98"/><circle cx="384.2" cy="267.9" r="0.98"/><circle cx="381" cy="320.2" r="0.98"/><circle cx="387.4" cy="296.9" r="0.98"/><circle cx="385.3" cy="316.5" r="0.98"/><circle cx="378.8" cy="294" r="0.98"/><circle cx="391.6" cy="298.2" r="0.98"/><circle cx="383.4" cy="298.1" r="0.98"/><circle cx="386" cy="331.7" r="0.98"/><circle cx="381.6" cy="319.6" r="0.98"/><circle cx="381.5" cy="318.4" r="0.98"/><circle cx="381.1" cy="308.5" r="0.98"/><circle cx="386.5" cy="314.4" r="0.98"/><circle cx="387.9" cy="288.9" r="0.98"/><circle cx="376.5" cy="299" r="0.98"/><circle cx="390.8" cy="304.5" r="0.98"/><circle cx="386" cy="299.3" r="0.98"/><circle cx="376.9" cy="288.5" r="0.98"/><circle cx="384" cy="284.6" r="0.98"/><circle cx="379.5" cy="296.7" r="0.98"/><circle cx="387" cy="305.2" r="0.98"/><circle cx="381.9" cy="294.9" r="0.98"/><circle cx="388.7" cy="288.6" r="0.98"/><circle cx="379.7" cy="281.8" r="0.98"/><circle cx="390.7" cy="273" r="0.98"/><circle cx="383.5" cy="302" r="0.98"/><circle cx="388.4" cy="284.3" r="0.98"/><circle cx="389.4" cy="300.7" r="0.98"/><circle cx="379.4" cy="311.4" r="0.98"/><circle cx="388.3" cy="316.9" r="0.98"/><circle cx="384.3" cy="298.7" r="0.98"/><circle cx="383.4" cy="291.2" r="0.98"/><circle cx="379.7" cy="307.3" r="0.98"/><circle cx="384.2" cy="302.6" r="0.98"/><circle cx="383.3" cy="304.9" r="0.98"/><circle cx="379.5" cy="280.1" r="0.98"/><circle cx="381.3" cy="286.3" r="0.98"/><circle cx="391" cy="299.8" r="0.98"/><circle cx="384.4" cy="294.7" r="0.98"/><circle cx="378.1" cy="293.5" r="0.98"/><circle cx="387.7" cy="285.2" r="0.98"/><circle cx="377.4" cy="306.2" r="0.98"/><circle cx="384.9" cy="273.8" r="0.98"/><circle cx="381.7" cy="293.5" r="0.98"/><circle cx="380.1" cy="311.4" r="0.98"/><circle cx="383.8" cy="307.9" r="0.98"/><circle cx="391.8" cy="296.5" r="0.98"/><circle cx="386.8" cy="323.2" r="0.98"/><circle cx="382.8" cy="294.6" r="0.98"/><circle cx="378.8" cy="270.2" r="0.98"/><circle cx="378.7" cy="303.4" r="0.98"/><circle cx="386" cy="268.3" r="0.98"/><circle cx="385.9" cy="267.1" r="0.98"/><circle cx="385" cy="271.1" r="0.98"/><circle cx="385.6" cy="309" r="0.98"/><circle cx="388.1" cy="314.5" r="0.98"/><circle cx="385.4" cy="326.2" r="0.98"/><circle cx="381.2" cy="305.7" r="0.98"/><circle cx="391.3" cy="285.8" r="0.98"/><circle cx="390.3" cy="292.9" r="0.98"/><circle cx="381.3" cy="289.1" r="0.98"/><circle cx="385.8" cy="314.9" r="0.98"/><circle cx="384" cy="294.2" r="0.98"/><circle cx="381.2" cy="303.8" r="0.98"/><circle cx="386.5" cy="322.3" r="0.98"/><circle cx="389.2" cy="286.4" r="0.98"/><circle cx="391.2" cy="296.9" r="0.98"/><circle cx="389.5" cy="300.8" r="0.98"/><circle cx="377.7" cy="323.1" r="0.98"/><circle cx="388.3" cy="314.1" r="0.98"/><circle cx="384.1" cy="274.4" r="0.98"/><circle cx="379.1" cy="278.4" r="0.98"/><circle cx="379.6" cy="276.7" r="0.98"/><circle cx="377.5" cy="301.8" r="0.98"/><circle cx="384.5" cy="292.5" r="0.98"/><circle cx="390" cy="288.6" r="0.98"/><circle cx="390.1" cy="261.8" r="0.98"/><circle cx="386.8" cy="281" r="0.98"/><circle cx="377.7" cy="270.9" r="0.98"/><circle cx="377.9" cy="292.6" r="0.98"/><circle cx="381.7" cy="268.9" r="0.98"/><circle cx="376.6" cy="307.1" r="0.98"/><circle cx="390.7" cy="301.7" r="0.98"/><circle cx="391.9" cy="301" r="0.98"/><circle cx="383.7" cy="302.8" r="0.98"/><circle cx="385" cy="302.5" r="0.98"/><circle cx="376.8" cy="310.4" r="0.98"/><circle cx="379.2" cy="293.2" r="0.98"/><circle cx="390.9" cy="269.7" r="0.98"/><circle cx="389.2" cy="305.4" r="0.98"/><circle cx="389.6" cy="287.3" r="0.98"/><circle cx="381.1" cy="283.5" r="0.98"/><circle cx="387.7" cy="299.2" r="0.98"/><circle cx="391.4" cy="308.3" r="0.98"/><circle cx="385.4" cy="306.9" r="0.98"/><circle cx="390.3" cy="310.3" r="0.98"/><circle cx="383.3" cy="313.2" r="0.98"/><circle cx="381.3" cy="292.6" r="0.98"/><circle cx="378.5" cy="278.6" r="0.98"/><circle cx="390.2" cy="296" r="0.98"/><circle cx="383.9" cy="311.7" r="0.98"/><circle cx="381.1" cy="282" r="0.98"/><circle cx="377.8" cy="313.9" r="0.98"/><circle cx="385.8" cy="305.8" r="0.98"/><circle cx="385.8" cy="311" r="0.98"/><circle cx="387.4" cy="297.4" r="0.98"/><circle cx="384.9" cy="278.1" r="0.98"/><circle cx="382.4" cy="314.1" r="0.98"/><circle cx="386.5" cy="285.2" r="0.98"/><circle cx="381" cy="281.5" r="0.98"/><circle cx="390" cy="302.4" r="0.98"/><circle cx="386.2" cy="284.7" r="0.98"/><circle cx="382.6" cy="311.6" r="0.98"/><circle cx="386.1" cy="283.5" r="0.98"/><circle cx="386.4" cy="310.5" r="0.98"/><circle cx="378.7" cy="312.4" r="0.98"/><circle cx="384" cy="317.9" r="0.98"/><circle cx="391.8" cy="289.6" r="0.98"/><circle cx="377.8" cy="276.9" r="0.98"/><circle cx="392" cy="298.9" r="0.98"/><circle cx="381" cy="307.5" r="0.98"/><circle cx="378.3" cy="295.3" r="0.98"/><circle cx="387.7" cy="308.1" r="0.98"/><circle cx="389.1" cy="260.5" r="0.98"/><circle cx="389.1" cy="267.3" r="0.98"/><circle cx="383.2" cy="312.7" r="0.98"/><circle cx="385.3" cy="295.6" r="0.98"/><circle cx="390" cy="288.2" r="0.98"/><circle cx="388.9" cy="288.9" r="0.98"/><circle cx="382.1" cy="314.5" r="0.98"/><circle cx="380" cy="288" r="0.98"/><circle cx="389.2" cy="292.7" r="0.98"/><circle cx="384.1" cy="282.8" r="0.98"/><circle cx="379.7" cy="309.3" r="0.98"/><circle cx="379.4" cy="315.8" r="0.98"/><circle cx="378.6" cy="299.8" r="0.98"/><circle cx="378.4" cy="290.1" r="0.98"/><circle cx="382.5" cy="280.7" r="0.98"/><circle cx="377.4" cy="299.9" r="0.98"/><circle cx="379.1" cy="286.7" r="0.98"/><circle cx="382.8" cy="260.4" r="0.98"/><circle cx="385.1" cy="333.3" r="0.98"/><circle cx="377.4" cy="247.1" r="0.98"/><circle cx="388.3" cy="246.9" r="0.98"/><circle cx="376.8" cy="268.3" r="0.98"/>
</g>
<g fill="none" stroke="#b9b9b9" stroke-width=".62" transform="scale(1 .9)">
<circle cx="418.4" cy="305.6" r="0.98"/><circle cx="416.9" cy="305.7" r="0.98"/><circle cx="415.6" cy="288.1" r="0.98"/><circle cx="424.3" cy="309.5" r="0.98"/><circle cx="428.6" cy="280.1" r="0.98"/><circle cx="414.8" cy="299.7" r="0.98"/><circle cx="428.8" cy="303.1" r="0.98"/><circle cx="412.4" cy="285.7" r="0.98"/><circle cx="412.9" cy="304.7" r="0.98"/><circle cx="413.7" cy="301.4" r="0.98"/><circle cx="424.7" cy="306.3" r="0.98"/><circle cx="417.9" cy="288.5" r="0.98"/><circle cx="412.6" cy="281" r="0.98"/><circle cx="427.4" cy="306.1" r="0.98"/><circle cx="419.6" cy="303.3" r="0.98"/><circle cx="418.8" cy="307" r="0.98"/><circle cx="423.9" cy="253.1" r="0.98"/><circle cx="420.2" cy="278" r="0.98"/><circle cx="424.5" cy="298.5" r="0.98"/><circle cx="412" cy="294.8" r="0.98"/><circle cx="417.2" cy="273.8" r="0.98"/><circle cx="424.9" cy="313.8" r="0.98"/><circle cx="420.6" cy="306.5" r="0.98"/><circle cx="421.3" cy="254.9" r="0.98"/><circle cx="413.8" cy="302.8" r="0.98"/><circle cx="413.6" cy="309.6" r="0.98"/><circle cx="427" cy="297.4" r="0.98"/><circle cx="415.7" cy="240.9" r="0.98"/><circle cx="420" cy="329.4" r="0.98"/><circle cx="428.2" cy="279.2" r="0.98"/><circle cx="428.4" cy="303.2" r="0.98"/><circle cx="418.9" cy="283.9" r="0.98"/><circle cx="429.3" cy="291.6" r="0.98"/><circle cx="428.9" cy="287.9" r="0.98"/><circle cx="423.8" cy="286" r="0.98"/><circle cx="418.8" cy="298.2" r="0.98"/><circle cx="418.4" cy="268.6" r="0.98"/><circle cx="420.9" cy="276.5" r="0.98"/><circle cx="423.5" cy="313.4" r="0.98"/><circle cx="418.2" cy="263.9" r="0.98"/><circle cx="427" cy="290.4" r="0.98"/><circle cx="426.4" cy="288" r="0.98"/><circle cx="427.2" cy="258.3" r="0.98"/><circle cx="413.8" cy="297.7" r="0.98"/><circle cx="419.5" cy="303.4" r="0.98"/><circle cx="411.4" cy="297.1" r="0.98"/><circle cx="415.7" cy="279.9" r="0.98"/><circle cx="416.7" cy="317.2" r="0.98"/><circle cx="414.5" cy="271" r="0.98"/><circle cx="414.3" cy="318.2" r="0.98"/><circle cx="421.9" cy="277.3" r="0.98"/><circle cx="415.5" cy="314" r="0.98"/><circle cx="416.2" cy="327.1" r="0.98"/><circle cx="424.1" cy="308.2" r="0.98"/><circle cx="421.3" cy="282.6" r="0.98"/><circle cx="414.1" cy="291.8" r="0.98"/><circle cx="423.6" cy="326.1" r="0.98"/><circle cx="415.1" cy="282.6" r="0.98"/><circle cx="425.1" cy="295.8" r="0.98"/><circle cx="414.6" cy="326.1" r="0.98"/><circle cx="419.3" cy="254.4" r="0.98"/><circle cx="424.7" cy="288" r="0.98"/><circle cx="421.4" cy="251.1" r="0.98"/><circle cx="414.3" cy="266.4" r="0.98"/><circle cx="425.9" cy="299.6" r="0.98"/><circle cx="424.7" cy="304.8" r="0.98"/><circle cx="422.3" cy="300.1" r="0.98"/><circle cx="419.7" cy="305.4" r="0.98"/><circle cx="418" cy="284.7" r="0.98"/><circle cx="421.9" cy="306.7" r="0.98"/><circle cx="420.4" cy="261.3" r="0.98"/><circle cx="422.5" cy="316.8" r="0.98"/><circle cx="412.8" cy="325.3" r="0.98"/><circle cx="416.5" cy="279.9" r="0.98"/><circle cx="422.7" cy="325.9" r="0.98"/><circle cx="415.8" cy="277.1" r="0.98"/><circle cx="422.6" cy="304.2" r="0.98"/><circle cx="412" cy="289.5" r="0.98"/><circle cx="428" cy="299.8" r="0.98"/><circle cx="421.3" cy="327" r="0.98"/><circle cx="420.8" cy="292.7" r="0.98"/><circle cx="415.1" cy="314.1" r="0.98"/><circle cx="418.8" cy="296.3" r="0.98"/><circle cx="413.2" cy="318" r="0.98"/><circle cx="413.6" cy="305.7" r="0.98"/><circle cx="419.6" cy="305.1" r="0.98"/><circle cx="427.3" cy="262.5" r="0.98"/><circle cx="423.4" cy="298.6" r="0.98"/><circle cx="418.3" cy="291" r="0.98"/><circle cx="423" cy="289.7" r="0.98"/><circle cx="419" cy="303.3" r="0.98"/><circle cx="416" cy="304.4" r="0.98"/><circle cx="423.3" cy="291.8" r="0.98"/><circle cx="425.1" cy="292.1" r="0.98"/><circle cx="415.9" cy="311.8" r="0.98"/><circle cx="427.6" cy="262.4" r="0.98"/><circle cx="425.5" cy="321.3" r="0.98"/><circle cx="426.9" cy="292.1" r="0.98"/><circle cx="419.9" cy="273.6" r="0.98"/><circle cx="414.8" cy="302" r="0.98"/><circle cx="425.5" cy="292.7" r="0.98"/><circle cx="414.8" cy="258.6" r="0.98"/><circle cx="413.4" cy="316" r="0.98"/><circle cx="423.8" cy="317" r="0.98"/><circle cx="419.6" cy="274.9" r="0.98"/><circle cx="421.2" cy="297.9" r="0.98"/><circle cx="413.1" cy="308.5" r="0.98"/><circle cx="424.2" cy="300.1" r="0.98"/><circle cx="414.4" cy="312.9" r="0.98"/><circle cx="415" cy="262" r="0.98"/><circle cx="415.6" cy="297.5" r="0.98"/><circle cx="413.6" cy="285.9" r="0.98"/><circle cx="428.7" cy="300.4" r="0.98"/><circle cx="412" cy="291.5" r="0.98"/><circle cx="411.5" cy="279.7" r="0.98"/><circle cx="413.7" cy="294.5" r="0.98"/><circle cx="418.5" cy="289.7" r="0.98"/><circle cx="419.5" cy="236.9" r="0.98"/><circle cx="419" cy="329.8" r="0.98"/>
</g>
<g fill="none" stroke="#1e1e1e" stroke-width=".7">
<rect x="362" y="209.7" width="79.4" height="93.3"/>
<path d="M362 221.2h-3.6"/>
<path d="M362 235.8h-3.6"/>
<path d="M362 250.6h-3.6"/>
<path d="M362 265.2h-3.6"/>
<path d="M362 279.7h-3.6"/>
<path d="M362 294.4h-3.6"/>
<path d="M384.1 303v3.3"/>
<rect x="369.1" y="257" width="29.4" height="19.3"/>
<path stroke="#3a3a3a" stroke-width=".58" d="M376.8 234.4h14.7 M376.8 300h14.7"/>
<path stroke="#000" stroke-width=".75" stroke-dasharray="1.5 1.3" d="M384.1 257V234.4 M384.1 276.3V300"/>
<path stroke="#0a0a0a" stroke-width="1.6" d="M369.1 267.6H398.5"/>
<path d="M420.2 303v3.3"/>
<rect x="405.2" y="249.4" width="30" height="26.1"/>
<path stroke="#3a3a3a" stroke-width=".58" d="M412.7 213.2h15 M412.7 296.8h15"/>
<path stroke="#000" stroke-width=".75" stroke-dasharray="1.5 1.3" d="M420.2 249.4V213.2 M420.2 275.5V296.8"/>
<path stroke="#0a0a0a" stroke-width="1.6" d="M405.2 262.4H435.2"/>
</g>
<g font-family="'Liberation Sans',Arial,sans-serif" fill="#1a1a1a" stroke="#1a1a1a" stroke-width=".12" text-anchor="middle">
<text font-size="5.6" transform="translate(354.4 221.2) rotate(-90) scale(0.72 1)">9.0</text>
<text font-size="5.6" transform="translate(354.4 235.8) rotate(-90) scale(0.72 1)">8.5</text>
<text font-size="5.6" transform="translate(354.4 250.6) rotate(-90) scale(0.72 1)">8.0</text>
<text font-size="5.6" transform="translate(354.4 265.2) rotate(-90) scale(0.72 1)">7.5</text>
<text font-size="5.6" transform="translate(354.4 279.7) rotate(-90) scale(0.72 1)">7.0</text>
<text font-size="5.6" transform="translate(354.4 294.4) rotate(-90) scale(0.72 1)">6.5</text>
<text stroke-width=".1" fill="#2a2a2a" font-size="6.0" text-anchor="start" textLength="24.9" lengthAdjust="spacingAndGlyphs" transform="translate(341.3 268.1) rotate(-90)">CYT Scores</text>
<text stroke-width=".08" text-anchor="start" textLength="7.5" lengthAdjust="spacingAndGlyphs" font-size="4.9" x="380.4" y="313.5">Epi</text>
<text stroke-width=".08" text-anchor="start" textLength="9.8" lengthAdjust="spacingAndGlyphs" font-size="4.9" x="415.3" y="313.5">Mes</text>
</g>
<text font-family="'DejaVu Sans',Verdana,sans-serif" font-weight="bold" font-size="8.6" x="383.5" y="323.4" fill="#111" textLength="34.4" lengthAdjust="spacingAndGlyphs">Leipzig</text>
<text font-family="'DejaVu Sans',Verdana,sans-serif" font-size="8.3" x="374.7" y="203.4" fill="#222" stroke="#222" stroke-width=".07" textLength="61.4" lengthAdjust="spacingAndGlyphs">P =9.1 x 10<tspan font-size="5.8" dy="-2.7" stroke-width=".22">-3</tspan></text></g>
<g><g fill="none" stroke="#000" stroke-width=".62" transform="scale(1 .9)">
<circle cx="40.9" cy="532.6" r="0.86"/><circle cx="40.5" cy="528.3" r="0.86"/><circle cx="46" cy="496.2" r="0.86"/><circle cx="55.8" cy="514.7" r="0.86"/><circle cx="49.8" cy="532.4" r="0.86"/><circle cx="44.9" cy="530.4" r="0.86"/><circle cx="47.5" cy="533.3" r="0.86"/><circle cx="51.7" cy="522" r="0.86"/><circle cx="44.8" cy="491.4" r="0.86"/><circle cx="55.2" cy="493.6" r="0.86"/><circle cx="38.2" cy="505.6" r="0.86"/><circle cx="40.4" cy="521.2" r="0.86"/><circle cx="48.2" cy="540.8" r="0.86"/><circle cx="49.8" cy="500.8" r="0.86"/><circle cx="45.2" cy="517" r="0.86"/><circle cx="53.6" cy="525.4" r="0.86"/><circle cx="40.5" cy="516.7" r="0.86"/><circle cx="39.2" cy="478" r="0.86"/><circle cx="47.7" cy="530.3" r="0.86"/><circle cx="41.7" cy="501.9" r="0.86"/><circle cx="53.8" cy="530" r="0.86"/><circle cx="51" cy="498.8" r="0.86"/><circle cx="41.4" cy="506.3" r="0.86"/><circle cx="44.7" cy="513.3" r="0.86"/><circle cx="43.4" cy="496.4" r="0.86"/><circle cx="44.5" cy="506.2" r="0.86"/><circle cx="48.5" cy="547.9" r="0.86"/><circle cx="45.5" cy="524" r="0.86"/><circle cx="41.9" cy="522.5" r="0.86"/><circle cx="38.9" cy="516.6" r="0.86"/><circle cx="46.2" cy="490.1" r="0.86"/><circle cx="45.5" cy="532" r="0.86"/><circle cx="54.7" cy="530.6" r="0.86"/><circle cx="43.9" cy="518" r="0.86"/><circle cx="45.4" cy="532.4" r="0.86"/><circle cx="53.1" cy="516.6" r="0.86"/><circle cx="44.2" cy="504.5" r="0.86"/><circle cx="44.4" cy="526.1" r="0.86"/><circle cx="41.3" cy="547.4" r="0.86"/><circle cx="38.4" cy="509.9" r="0.86"/><circle cx="46.2" cy="528.7" r="0.86"/><circle cx="44.8" cy="526.2" r="0.86"/><circle cx="51.6" cy="481.2" r="0.86"/><circle cx="50.3" cy="542.4" r="0.86"/><circle cx="49.5" cy="517.7" r="0.86"/><circle cx="46.4" cy="520.8" r="0.86"/><circle cx="41.9" cy="504.8" r="0.86"/><circle cx="55.5" cy="522.4" r="0.86"/><circle cx="38.7" cy="500.3" r="0.86"/><circle cx="43.5" cy="491" r="0.86"/><circle cx="48.9" cy="524.7" r="0.86"/><circle cx="55.4" cy="525.8" r="0.86"/><circle cx="48.7" cy="521.5" r="0.86"/><circle cx="48.4" cy="533.8" r="0.86"/><circle cx="53.5" cy="511.3" r="0.86"/><circle cx="49.3" cy="538.6" r="0.86"/><circle cx="52.7" cy="514.3" r="0.86"/><circle cx="38.8" cy="535.8" r="0.86"/><circle cx="44.9" cy="518.4" r="0.86"/><circle cx="46" cy="524.1" r="0.86"/><circle cx="46.1" cy="540.6" r="0.86"/><circle cx="50.2" cy="532.6" r="0.86"/><circle cx="39" cy="499.6" r="0.86"/><circle cx="38.8" cy="501.3" r="0.86"/><circle cx="42" cy="480.9" r="0.86"/><circle cx="44.7" cy="464.2" r="0.86"/><circle cx="41.2" cy="488.2" r="0.86"/><circle cx="43.2" cy="537.5" r="0.86"/><circle cx="52.7" cy="528.4" r="0.86"/><circle cx="41.5" cy="496.3" r="0.86"/><circle cx="42.4" cy="496.6" r="0.86"/><circle cx="41.5" cy="535.3" r="0.86"/><circle cx="39" cy="510" r="0.86"/><circle cx="41.7" cy="483.6" r="0.86"/><circle cx="38.9" cy="525.2" r="0.86"/><circle cx="41.5" cy="522.2" r="0.86"/><circle cx="51.1" cy="539.4" r="0.86"/><circle cx="52.5" cy="528.1" r="0.86"/><circle cx="50.3" cy="513.1" r="0.86"/><circle cx="55.5" cy="510.2" r="0.86"/><circle cx="48.1" cy="539" r="0.86"/><circle cx="38.1" cy="521.5" r="0.86"/><circle cx="54.3" cy="512.1" r="0.86"/><circle cx="50.8" cy="539.9" r="0.86"/><circle cx="48.2" cy="521.6" r="0.86"/><circle cx="45.4" cy="524" r="0.86"/><circle cx="40.9" cy="521.2" r="0.86"/><circle cx="48.2" cy="497" r="0.86"/><circle cx="51" cy="511.1" r="0.86"/><circle cx="54.7" cy="512.5" r="0.86"/><circle cx="44.9" cy="479.9" r="0.86"/><circle cx="49.8" cy="517.9" r="0.86"/><circle cx="43.9" cy="495.8" r="0.86"/><circle cx="49.3" cy="485.1" r="0.86"/><circle cx="45.6" cy="523.3" r="0.86"/><circle cx="47.2" cy="509.9" r="0.86"/><circle cx="51" cy="503.2" r="0.86"/><circle cx="48.3" cy="478" r="0.86"/><circle cx="42.9" cy="552" r="0.86"/><circle cx="44.2" cy="473.6" r="0.86"/><circle cx="46.8" cy="504.5" r="0.86"/><circle cx="51.6" cy="524.6" r="0.86"/><circle cx="42.6" cy="510.5" r="0.86"/><circle cx="52.5" cy="482" r="0.86"/><circle cx="52.1" cy="513.3" r="0.86"/><circle cx="53.9" cy="528.1" r="0.86"/><circle cx="39.1" cy="524.5" r="0.86"/><circle cx="40.7" cy="492.9" r="0.86"/><circle cx="38.9" cy="500.8" r="0.86"/><circle cx="53" cy="499.1" r="0.86"/><circle cx="39.6" cy="470.1" r="0.86"/><circle cx="47.6" cy="515.6" r="0.86"/><circle cx="40.4" cy="482.9" r="0.86"/><circle cx="48.1" cy="532.8" r="0.86"/><circle cx="50.5" cy="514.8" r="0.86"/><circle cx="41.1" cy="517.9" r="0.86"/><circle cx="44.1" cy="496.6" r="0.86"/><circle cx="48" cy="520.3" r="0.86"/><circle cx="48" cy="502.5" r="0.86"/><circle cx="46.4" cy="539.2" r="0.86"/><circle cx="43.4" cy="527.1" r="0.86"/><circle cx="47" cy="507.3" r="0.86"/><circle cx="42.3" cy="511.1" r="0.86"/><circle cx="38.3" cy="519" r="0.86"/><circle cx="44.6" cy="500.5" r="0.86"/><circle cx="50.7" cy="479.9" r="0.86"/><circle cx="47.6" cy="529" r="0.86"/><circle cx="41.6" cy="522.3" r="0.86"/><circle cx="53.9" cy="537.1" r="0.86"/><circle cx="49.6" cy="532.8" r="0.86"/><circle cx="52.4" cy="510.6" r="0.86"/><circle cx="43.1" cy="529.9" r="0.86"/><circle cx="51" cy="518.7" r="0.86"/><circle cx="49.7" cy="488.2" r="0.86"/><circle cx="47.2" cy="512.4" r="0.86"/><circle cx="51" cy="498.1" r="0.86"/><circle cx="41.6" cy="496.7" r="0.86"/><circle cx="39.7" cy="548" r="0.86"/><circle cx="52.7" cy="506.1" r="0.86"/><circle cx="45" cy="526" r="0.86"/><circle cx="39.7" cy="492.2" r="0.86"/><circle cx="43" cy="503.6" r="0.86"/><circle cx="50.3" cy="521.7" r="0.86"/><circle cx="38.1" cy="519.4" r="0.86"/><circle cx="44.7" cy="528.1" r="0.86"/><circle cx="40.5" cy="506.8" r="0.86"/><circle cx="40.3" cy="488.6" r="0.86"/><circle cx="40.1" cy="494.1" r="0.86"/><circle cx="38.9" cy="516.3" r="0.86"/><circle cx="43.1" cy="511.7" r="0.86"/><circle cx="50.2" cy="506.3" r="0.86"/><circle cx="48.9" cy="478.8" r="0.86"/><circle cx="42.3" cy="480.7" r="0.86"/><circle cx="52.9" cy="525.1" r="0.86"/><circle cx="46.4" cy="506.8" r="0.86"/><circle cx="41.4" cy="513" r="0.86"/><circle cx="54.6" cy="526.2" r="0.86"/><circle cx="48.2" cy="507.7" r="0.86"/><circle cx="53.8" cy="495.8" r="0.86"/><circle cx="47.2" cy="539" r="0.86"/><circle cx="50.4" cy="492.4" r="0.86"/><circle cx="40.8" cy="497" r="0.86"/><circle cx="55.2" cy="505.1" r="0.86"/><circle cx="48.3" cy="524.5" r="0.86"/><circle cx="55.6" cy="515" r="0.86"/><circle cx="54.3" cy="541.2" r="0.86"/><circle cx="54.6" cy="527" r="0.86"/><circle cx="51.7" cy="490.3" r="0.86"/><circle cx="52.1" cy="532.3" r="0.86"/><circle cx="55" cy="505.3" r="0.86"/><circle cx="48.7" cy="484.8" r="0.86"/><circle cx="40.4" cy="515.4" r="0.86"/><circle cx="44" cy="479.2" r="0.86"/><circle cx="40.8" cy="537.9" r="0.86"/><circle cx="42.8" cy="507.1" r="0.86"/><circle cx="42" cy="521.9" r="0.86"/><circle cx="50" cy="545.6" r="0.86"/><circle cx="44.5" cy="486.9" r="0.86"/><circle cx="53" cy="496.3" r="0.86"/><circle cx="41.2" cy="518" r="0.86"/><circle cx="53.1" cy="529.9" r="0.86"/><circle cx="51" cy="517.7" r="0.86"/><circle cx="44.2" cy="487.5" r="0.86"/><circle cx="40.1" cy="486" r="0.86"/><circle cx="50.4" cy="508.3" r="0.86"/><circle cx="50.4" cy="495.3" r="0.86"/><circle cx="42.9" cy="485.4" r="0.86"/><circle cx="46.2" cy="496.5" r="0.86"/><circle cx="45.7" cy="487" r="0.86"/><circle cx="48.5" cy="491.8" r="0.86"/><circle cx="54.6" cy="504.7" r="0.86"/><circle cx="42.1" cy="535.6" r="0.86"/><circle cx="44.4" cy="517.2" r="0.86"/><circle cx="51.4" cy="498.5" r="0.86"/><circle cx="51.6" cy="497.3" r="0.86"/><circle cx="42.7" cy="537.5" r="0.86"/><circle cx="47.1" cy="510.8" r="0.86"/><circle cx="40.3" cy="515.3" r="0.86"/><circle cx="41.6" cy="501.4" r="0.86"/><circle cx="40.9" cy="516.2" r="0.86"/><circle cx="53.9" cy="504.2" r="0.86"/><circle cx="47.9" cy="462" r="0.86"/><circle cx="49.4" cy="497.1" r="0.86"/><circle cx="55" cy="510.5" r="0.86"/><circle cx="41.1" cy="482.3" r="0.86"/><circle cx="46.4" cy="469.1" r="0.86"/><circle cx="54.7" cy="501.3" r="0.86"/><circle cx="39.3" cy="486.9" r="0.86"/><circle cx="39.1" cy="499.4" r="0.86"/><circle cx="42.1" cy="494.7" r="0.86"/><circle cx="50.6" cy="499.9" r="0.86"/><circle cx="41.1" cy="483.4" r="0.86"/><circle cx="41.6" cy="534.8" r="0.86"/><circle cx="39.9" cy="534.6" r="0.86"/><circle cx="52.9" cy="519.5" r="0.86"/><circle cx="50.2" cy="471.6" r="0.86"/><circle cx="48.7" cy="532.8" r="0.86"/><circle cx="49.9" cy="493.7" r="0.86"/><circle cx="39.6" cy="504.7" r="0.86"/><circle cx="45.5" cy="515.6" r="0.86"/><circle cx="47.5" cy="496.2" r="0.86"/><circle cx="41.2" cy="507.9" r="0.86"/><circle cx="43.2" cy="515.7" r="0.86"/><circle cx="52.8" cy="549.2" r="0.86"/><circle cx="39.3" cy="518.1" r="0.86"/><circle cx="50.4" cy="502.1" r="0.86"/><circle cx="50.7" cy="493.3" r="0.86"/><circle cx="50.8" cy="509.2" r="0.86"/><circle cx="51.1" cy="518.7" r="0.86"/><circle cx="52.6" cy="492" r="0.86"/><circle cx="40.4" cy="517" r="0.86"/><circle cx="45" cy="532.4" r="0.86"/><circle cx="52.3" cy="521.3" r="0.86"/><circle cx="44.1" cy="508.2" r="0.86"/><circle cx="55.3" cy="520.9" r="0.86"/><circle cx="48.8" cy="491" r="0.86"/><circle cx="42.5" cy="514.3" r="0.86"/><circle cx="50.2" cy="541.4" r="0.86"/><circle cx="47.1" cy="522.8" r="0.86"/><circle cx="38.6" cy="515.4" r="0.86"/><circle cx="50.2" cy="525.8" r="0.86"/><circle cx="53.6" cy="517.3" r="0.86"/><circle cx="54.6" cy="524.5" r="0.86"/><circle cx="40.8" cy="517.6" r="0.86"/><circle cx="49.8" cy="518.1" r="0.86"/><circle cx="40.4" cy="471.8" r="0.86"/><circle cx="42.3" cy="529.1" r="0.86"/><circle cx="43.8" cy="524.1" r="0.86"/><circle cx="47.4" cy="504.7" r="0.86"/><circle cx="40.3" cy="496.2" r="0.86"/><circle cx="42.5" cy="517.5" r="0.86"/><circle cx="50.6" cy="524.6" r="0.86"/><circle cx="44.5" cy="521.1" r="0.86"/><circle cx="43.7" cy="540.2" r="0.86"/><circle cx="43.4" cy="483.5" r="0.86"/><circle cx="45.2" cy="505.5" r="0.86"/><circle cx="49.7" cy="503.3" r="0.86"/><circle cx="53.1" cy="487.7" r="0.86"/><circle cx="49.8" cy="498.3" r="0.86"/><circle cx="48.3" cy="511.3" r="0.86"/><circle cx="55.3" cy="504.3" r="0.86"/><circle cx="43.8" cy="513.3" r="0.86"/><circle cx="45.5" cy="522" r="0.86"/><circle cx="47.9" cy="475.7" r="0.86"/><circle cx="54.2" cy="493.4" r="0.86"/><circle cx="40.2" cy="520.7" r="0.86"/><circle cx="41.5" cy="526.3" r="0.86"/><circle cx="51.7" cy="523.6" r="0.86"/><circle cx="46.4" cy="520.4" r="0.86"/><circle cx="46.1" cy="516.8" r="0.86"/><circle cx="54.3" cy="512.5" r="0.86"/><circle cx="44.8" cy="523.5" r="0.86"/><circle cx="38.7" cy="510.5" r="0.86"/><circle cx="45.7" cy="525.4" r="0.86"/><circle cx="42.1" cy="516.2" r="0.86"/><circle cx="40.4" cy="503.4" r="0.86"/><circle cx="52.6" cy="538.5" r="0.86"/><circle cx="50.3" cy="523.2" r="0.86"/><circle cx="49.2" cy="488.6" r="0.86"/><circle cx="39.4" cy="503.8" r="0.86"/><circle cx="51.4" cy="526.3" r="0.86"/><circle cx="47.6" cy="509" r="0.86"/><circle cx="55.1" cy="513.4" r="0.86"/><circle cx="53.8" cy="496.5" r="0.86"/><circle cx="43.3" cy="511.2" r="0.86"/><circle cx="45.7" cy="461.1" r="0.86"/><circle cx="47.8" cy="555" r="0.86"/><circle cx="42" cy="448.7" r="0.86"/><circle cx="53" cy="452" r="0.86"/><circle cx="52" cy="453.6" r="0.86"/><circle cx="41" cy="454.9" r="0.86"/><circle cx="39.5" cy="457.2" r="0.86"/>
</g>
<g fill="none" stroke="#b9b9b9" stroke-width=".62" transform="scale(1 .9)">
<circle cx="81.1" cy="485.6" r="0.86"/><circle cx="80.4" cy="483.5" r="0.86"/><circle cx="83.4" cy="471.3" r="0.86"/><circle cx="89.3" cy="493.4" r="0.86"/><circle cx="82.2" cy="467.6" r="0.86"/><circle cx="79.7" cy="493.7" r="0.86"/><circle cx="85.2" cy="500.5" r="0.86"/><circle cx="97.5" cy="486.1" r="0.86"/><circle cx="79.1" cy="495.2" r="0.86"/><circle cx="91.7" cy="488.9" r="0.86"/><circle cx="91.9" cy="471.4" r="0.86"/><circle cx="97.4" cy="523.6" r="0.86"/><circle cx="81.7" cy="514" r="0.86"/><circle cx="88.9" cy="507.7" r="0.86"/><circle cx="91.3" cy="477.5" r="0.86"/><circle cx="88.2" cy="486.4" r="0.86"/><circle cx="87" cy="507.1" r="0.86"/><circle cx="95.6" cy="467.5" r="0.86"/><circle cx="90.8" cy="493.6" r="0.86"/><circle cx="80.6" cy="509.5" r="0.86"/><circle cx="80.8" cy="524" r="0.86"/><circle cx="84.1" cy="510.8" r="0.86"/><circle cx="91" cy="469.9" r="0.86"/><circle cx="89.1" cy="523.9" r="0.86"/><circle cx="80.4" cy="490.5" r="0.86"/><circle cx="78.3" cy="501.8" r="0.86"/><circle cx="97.7" cy="464.4" r="0.86"/><circle cx="86" cy="488.3" r="0.86"/><circle cx="99.1" cy="497.2" r="0.86"/><circle cx="86.5" cy="514.1" r="0.86"/><circle cx="78.4" cy="502.2" r="0.86"/><circle cx="92.6" cy="479.2" r="0.86"/><circle cx="86.4" cy="516.1" r="0.86"/><circle cx="78.8" cy="504.4" r="0.86"/><circle cx="78.4" cy="501.9" r="0.86"/><circle cx="81.3" cy="495.7" r="0.86"/><circle cx="97.7" cy="514.1" r="0.86"/><circle cx="82.8" cy="478.8" r="0.86"/><circle cx="97.4" cy="484.5" r="0.86"/><circle cx="84.4" cy="501.1" r="0.86"/><circle cx="92" cy="492.9" r="0.86"/><circle cx="97.7" cy="516.5" r="0.86"/><circle cx="98.2" cy="490.6" r="0.86"/><circle cx="93.1" cy="478.8" r="0.86"/><circle cx="94.3" cy="515.8" r="0.86"/><circle cx="99.1" cy="501.8" r="0.86"/><circle cx="95.9" cy="475.1" r="0.86"/><circle cx="90.1" cy="503.7" r="0.86"/><circle cx="88.5" cy="511.1" r="0.86"/><circle cx="82.3" cy="504.9" r="0.86"/><circle cx="88.1" cy="512.7" r="0.86"/><circle cx="89.3" cy="506.8" r="0.86"/><circle cx="89.2" cy="504" r="0.86"/><circle cx="96.2" cy="478.8" r="0.86"/><circle cx="83.6" cy="490.8" r="0.86"/><circle cx="92.6" cy="510.5" r="0.86"/><circle cx="96.9" cy="460" r="0.86"/><circle cx="97.5" cy="476.7" r="0.86"/><circle cx="97.8" cy="479.6" r="0.86"/><circle cx="92.8" cy="497" r="0.86"/><circle cx="81.7" cy="508.1" r="0.86"/><circle cx="97.3" cy="473.6" r="0.86"/><circle cx="91.2" cy="500.4" r="0.86"/><circle cx="83.1" cy="479.1" r="0.86"/><circle cx="87" cy="518.5" r="0.86"/><circle cx="96.2" cy="479" r="0.86"/><circle cx="95.3" cy="497.7" r="0.86"/><circle cx="78.3" cy="500.7" r="0.86"/><circle cx="89.6" cy="492.2" r="0.86"/><circle cx="81.7" cy="536.7" r="0.86"/><circle cx="83.2" cy="482" r="0.86"/><circle cx="87.7" cy="528.9" r="0.86"/><circle cx="94.1" cy="511" r="0.86"/><circle cx="85.9" cy="507.4" r="0.86"/><circle cx="82.2" cy="498.9" r="0.86"/><circle cx="87.2" cy="473.7" r="0.86"/><circle cx="85.2" cy="490.1" r="0.86"/><circle cx="96.8" cy="514.1" r="0.86"/><circle cx="80.1" cy="500.1" r="0.86"/><circle cx="94.2" cy="507.3" r="0.86"/><circle cx="82.2" cy="513.9" r="0.86"/><circle cx="86.7" cy="486.1" r="0.86"/><circle cx="80.5" cy="515.4" r="0.86"/><circle cx="89.9" cy="486.2" r="0.86"/><circle cx="83.4" cy="513.4" r="0.86"/><circle cx="82.3" cy="490.9" r="0.86"/><circle cx="89.6" cy="487.2" r="0.86"/><circle cx="97.4" cy="497" r="0.86"/><circle cx="92.9" cy="487.5" r="0.86"/><circle cx="94" cy="502.9" r="0.86"/><circle cx="87.4" cy="485" r="0.86"/><circle cx="81.9" cy="479.5" r="0.86"/><circle cx="97.1" cy="457.6" r="0.86"/><circle cx="92.1" cy="460" r="0.86"/><circle cx="85.3" cy="496" r="0.86"/><circle cx="89.4" cy="498" r="0.86"/><circle cx="83" cy="472.4" r="0.86"/><circle cx="97.8" cy="494.2" r="0.86"/><circle cx="82.1" cy="465.2" r="0.86"/><circle cx="92.8" cy="499.1" r="0.86"/><circle cx="82.4" cy="486.1" r="0.86"/><circle cx="82.3" cy="470" r="0.86"/><circle cx="89" cy="470.8" r="0.86"/><circle cx="92" cy="502.6" r="0.86"/><circle cx="91" cy="500.1" r="0.86"/><circle cx="96.4" cy="510.4" r="0.86"/><circle cx="79.4" cy="489.7" r="0.86"/><circle cx="94.2" cy="471.6" r="0.86"/><circle cx="88.4" cy="508.2" r="0.86"/><circle cx="98.5" cy="504.3" r="0.86"/><circle cx="94.7" cy="481.3" r="0.86"/><circle cx="86.4" cy="480.5" r="0.86"/><circle cx="80" cy="508" r="0.86"/><circle cx="89" cy="503.1" r="0.86"/><circle cx="86.8" cy="510.7" r="0.86"/><circle cx="96.5" cy="466.2" r="0.86"/><circle cx="89.5" cy="493.4" r="0.86"/><circle cx="97.4" cy="475.3" r="0.86"/><circle cx="97" cy="494.1" r="0.86"/><circle cx="79.4" cy="503.4" r="0.86"/><circle cx="88.8" cy="496" r="0.86"/><circle cx="93.4" cy="501.7" r="0.86"/><circle cx="85.2" cy="513.8" r="0.86"/><circle cx="91" cy="494.9" r="0.86"/><circle cx="98.1" cy="480.7" r="0.86"/><circle cx="91.3" cy="513.3" r="0.86"/><circle cx="92.6" cy="520.2" r="0.86"/><circle cx="90.8" cy="495.1" r="0.86"/><circle cx="82.1" cy="504" r="0.86"/><circle cx="81.3" cy="519.3" r="0.86"/><circle cx="81.1" cy="473.8" r="0.86"/><circle cx="78.8" cy="505.5" r="0.86"/><circle cx="85.3" cy="512" r="0.86"/><circle cx="91.6" cy="449.9" r="0.86"/><circle cx="84" cy="488.3" r="0.86"/><circle cx="83.4" cy="517.9" r="0.86"/><circle cx="83.1" cy="484.3" r="0.86"/><circle cx="87" cy="489.9" r="0.86"/><circle cx="92.4" cy="476.2" r="0.86"/><circle cx="88.2" cy="511.1" r="0.86"/><circle cx="78.7" cy="507.1" r="0.86"/><circle cx="96.6" cy="509.4" r="0.86"/><circle cx="97.5" cy="483" r="0.86"/><circle cx="85.5" cy="518.3" r="0.86"/><circle cx="88.3" cy="454.1" r="0.86"/><circle cx="79.8" cy="471.9" r="0.86"/><circle cx="94.6" cy="478.6" r="0.86"/><circle cx="97.8" cy="506.4" r="0.86"/><circle cx="97.6" cy="513.8" r="0.86"/><circle cx="93.9" cy="497.4" r="0.86"/><circle cx="81.6" cy="478.9" r="0.86"/><circle cx="87.9" cy="472.6" r="0.86"/><circle cx="87.9" cy="488.2" r="0.86"/><circle cx="94.9" cy="490" r="0.86"/><circle cx="84.9" cy="494.4" r="0.86"/><circle cx="93.1" cy="511.9" r="0.86"/><circle cx="95.3" cy="491.4" r="0.86"/><circle cx="93.8" cy="522.3" r="0.86"/><circle cx="95.7" cy="491.2" r="0.86"/><circle cx="97.6" cy="489.2" r="0.86"/><circle cx="82.5" cy="479.4" r="0.86"/><circle cx="87.6" cy="471.9" r="0.86"/><circle cx="94.2" cy="526.1" r="0.86"/><circle cx="91.3" cy="500.3" r="0.86"/><circle cx="95.4" cy="478.7" r="0.86"/><circle cx="92.9" cy="497.5" r="0.86"/><circle cx="87.9" cy="510.8" r="0.86"/><circle cx="95.5" cy="536" r="0.86"/><circle cx="81.7" cy="490.2" r="0.86"/><circle cx="89.8" cy="511.5" r="0.86"/><circle cx="81.1" cy="509.5" r="0.86"/><circle cx="83.7" cy="506" r="0.86"/><circle cx="90.1" cy="465.9" r="0.86"/><circle cx="94.7" cy="491.5" r="0.86"/><circle cx="88.7" cy="517.4" r="0.86"/><circle cx="81.7" cy="536.9" r="0.86"/><circle cx="93" cy="496" r="0.86"/><circle cx="80.1" cy="527.1" r="0.86"/><circle cx="84.8" cy="511.3" r="0.86"/><circle cx="80.3" cy="493.3" r="0.86"/><circle cx="85.6" cy="485.6" r="0.86"/><circle cx="95" cy="483.2" r="0.86"/><circle cx="86.9" cy="484.3" r="0.86"/><circle cx="85.5" cy="536.9" r="0.86"/><circle cx="98.4" cy="517" r="0.86"/><circle cx="95" cy="493.7" r="0.86"/><circle cx="97" cy="519.4" r="0.86"/><circle cx="90.6" cy="465.8" r="0.86"/><circle cx="93.1" cy="517.2" r="0.86"/><circle cx="88.3" cy="496.2" r="0.86"/><circle cx="86.8" cy="474.1" r="0.86"/><circle cx="89.6" cy="523.2" r="0.86"/><circle cx="91.9" cy="499.4" r="0.86"/><circle cx="84.5" cy="531" r="0.86"/><circle cx="94.4" cy="494.3" r="0.86"/><circle cx="82.1" cy="512.1" r="0.86"/><circle cx="85.7" cy="501.1" r="0.86"/><circle cx="91.6" cy="512.4" r="0.86"/><circle cx="82.7" cy="482.1" r="0.86"/><circle cx="89.2" cy="530" r="0.86"/><circle cx="88.1" cy="505.9" r="0.86"/><circle cx="78.8" cy="507.6" r="0.86"/><circle cx="88.9" cy="476.1" r="0.86"/><circle cx="80.7" cy="502.7" r="0.86"/><circle cx="88" cy="498.8" r="0.86"/><circle cx="87.9" cy="488.9" r="0.86"/><circle cx="99" cy="486.9" r="0.86"/><circle cx="87.6" cy="493.4" r="0.86"/><circle cx="96.1" cy="501.9" r="0.86"/><circle cx="80.2" cy="487.8" r="0.86"/><circle cx="93.4" cy="483.5" r="0.86"/><circle cx="95.2" cy="484" r="0.86"/><circle cx="90.5" cy="443.1" r="0.86"/><circle cx="90.1" cy="550.7" r="0.86"/>
</g>
<g fill="none" stroke="#1e1e1e" stroke-width=".7">
<rect x="22.4" y="394.9" width="90.5" height="108.1"/>
<path d="M22.4 415.6h-3.6"/>
<path d="M22.4 436.2h-3.6"/>
<path d="M22.4 457.1h-3.6"/>
<path d="M22.4 478.3h-3.6"/>
<path d="M22.4 498.8h-3.6"/>
<path d="M46.8 503v3.3"/>
<rect x="30" y="448.8" width="33.5" height="23.8"/>
<path stroke="#3a3a3a" stroke-width=".58" d="M38.4 415h16.8 M38.4 499.5h16.8"/>
<path stroke="#000" stroke-width=".75" stroke-dasharray="1.5 1.3" d="M46.8 448.8V415 M46.8 472.6V499.5"/>
<path stroke="#0a0a0a" stroke-width="1.6" d="M30 462.4H63.5"/>
<path d="M88.8 503v3.3"/>
<rect x="71.8" y="435.3" width="33.7" height="24.1"/>
<path stroke="#3a3a3a" stroke-width=".58" d="M80.4 398.8h16.9 M80.4 495.6h16.9"/>
<path stroke="#000" stroke-width=".75" stroke-dasharray="1.5 1.3" d="M88.8 435.3V398.8 M88.8 459.4V495.6"/>
<path stroke="#0a0a0a" stroke-width="1.6" d="M71.8 447.4H105.5"/>
</g>
<g font-family="'Liberation Sans',Arial,sans-serif" fill="#1a1a1a" stroke="#1a1a1a" stroke-width=".12" text-anchor="middle">
<text font-size="5.2" transform="translate(15.9 415.6) rotate(-90) scale(0.85 1)">1.0</text>
<text font-size="5.2" transform="translate(15.9 436.2) rotate(-90) scale(0.85 1)">0.5</text>
<text font-size="5.2" transform="translate(15.9 457.1) rotate(-90) scale(0.85 1)">0.0</text>
<text font-size="5.2" transform="translate(15.9 478.3) rotate(-90) scale(0.85 1)">-0.5</text>
<text font-size="5.2" transform="translate(15.9 498.8) rotate(-90) scale(0.85 1)">-1.0</text>
<text stroke-width=".1" fill="#2a2a2a" font-size="5.2" text-anchor="start" textLength="37.6" lengthAdjust="spacingAndGlyphs" transform="translate(5 467.8) rotate(-90)">T cell infiltration score</text>
<text stroke-width=".08" text-anchor="start" textLength="6.0" lengthAdjust="spacingAndGlyphs" font-size="4.2" x="43.8" y="512.1">Epi</text>
<text stroke-width=".08" text-anchor="start" textLength="7.8" lengthAdjust="spacingAndGlyphs" font-size="4.2" x="84.9" y="512.1">Mes</text>
</g>
<text font-family="'DejaVu Sans',Verdana,sans-serif" font-weight="bold" font-size="9.6" x="55.5" y="526.1" fill="#111" textLength="29.1" lengthAdjust="spacingAndGlyphs">TCGA</text>
<text font-family="'DejaVu Sans',Verdana,sans-serif" font-size="9.0" x="31.4" y="391.2" fill="#222" stroke="#222" stroke-width=".07" textLength="79.8" lengthAdjust="spacingAndGlyphs">P = 1.5 x 10<tspan font-size="6.3" dy="-3" stroke-width=".22">-12</tspan></text></g>
<g><g fill="none" stroke="#000" stroke-width=".62" transform="scale(1 .9)">
<circle cx="176.9" cy="491.3" r="0.86"/><circle cx="180.3" cy="500.8" r="0.86"/><circle cx="187.6" cy="502.3" r="0.86"/><circle cx="186.7" cy="494.7" r="0.86"/><circle cx="180.1" cy="537.6" r="0.86"/><circle cx="178.4" cy="545.5" r="0.86"/><circle cx="186.6" cy="513.1" r="0.86"/><circle cx="181.3" cy="511.8" r="0.86"/><circle cx="172.3" cy="511.6" r="0.86"/><circle cx="174.6" cy="532.4" r="0.86"/><circle cx="177.9" cy="530.3" r="0.86"/><circle cx="176.3" cy="528.5" r="0.86"/><circle cx="171.8" cy="514.6" r="0.86"/><circle cx="175" cy="494.8" r="0.86"/><circle cx="187.2" cy="519.1" r="0.86"/><circle cx="171.5" cy="521" r="0.86"/><circle cx="187.1" cy="513.9" r="0.86"/><circle cx="173" cy="538.2" r="0.86"/><circle cx="179.7" cy="494" r="0.86"/><circle cx="171.3" cy="523.7" r="0.86"/><circle cx="186.3" cy="497.1" r="0.86"/><circle cx="170.8" cy="522.5" r="0.86"/><circle cx="175.6" cy="518.1" r="0.86"/><circle cx="175.2" cy="499.7" r="0.86"/><circle cx="179.9" cy="497.9" r="0.86"/><circle cx="175.2" cy="533.3" r="0.86"/><circle cx="173.8" cy="497.2" r="0.86"/><circle cx="186.7" cy="505" r="0.86"/><circle cx="179.6" cy="513.6" r="0.86"/><circle cx="185.3" cy="518" r="0.86"/><circle cx="183.4" cy="494.3" r="0.86"/><circle cx="182.4" cy="469.6" r="0.86"/><circle cx="181.2" cy="491.8" r="0.86"/><circle cx="175.3" cy="503.2" r="0.86"/><circle cx="179.5" cy="507.7" r="0.86"/><circle cx="175.1" cy="511.1" r="0.86"/><circle cx="184.4" cy="545" r="0.86"/><circle cx="174.5" cy="530.7" r="0.86"/><circle cx="186" cy="471.1" r="0.86"/><circle cx="171.9" cy="531.2" r="0.86"/><circle cx="184.2" cy="472.2" r="0.86"/><circle cx="183.6" cy="503.5" r="0.86"/><circle cx="178.8" cy="501.8" r="0.86"/><circle cx="171.8" cy="547.4" r="0.86"/><circle cx="184.9" cy="525.9" r="0.86"/><circle cx="177.5" cy="515.5" r="0.86"/><circle cx="182.9" cy="477.6" r="0.86"/><circle cx="170.3" cy="522.3" r="0.86"/><circle cx="179.7" cy="492" r="0.86"/><circle cx="183.7" cy="504.9" r="0.86"/><circle cx="182.2" cy="505.2" r="0.86"/><circle cx="179.1" cy="490.2" r="0.86"/><circle cx="174.9" cy="512.6" r="0.86"/><circle cx="174.8" cy="513.9" r="0.86"/><circle cx="180.5" cy="507.3" r="0.86"/><circle cx="182.7" cy="484.4" r="0.86"/><circle cx="171.3" cy="530.8" r="0.86"/><circle cx="177.2" cy="519.7" r="0.86"/><circle cx="186.3" cy="502.8" r="0.86"/><circle cx="180.6" cy="505.2" r="0.86"/><circle cx="176" cy="525" r="0.86"/><circle cx="177.3" cy="488.7" r="0.86"/><circle cx="175.7" cy="498.4" r="0.86"/><circle cx="173" cy="493.8" r="0.86"/><circle cx="176.5" cy="493.9" r="0.86"/><circle cx="185" cy="515.7" r="0.86"/><circle cx="175.8" cy="525" r="0.86"/><circle cx="185.7" cy="528.8" r="0.86"/><circle cx="181.3" cy="529.8" r="0.86"/><circle cx="170.1" cy="520.9" r="0.86"/><circle cx="178.3" cy="514.9" r="0.86"/><circle cx="173.6" cy="526.6" r="0.86"/><circle cx="170.2" cy="514.9" r="0.86"/><circle cx="177.8" cy="497.7" r="0.86"/><circle cx="182.1" cy="505.1" r="0.86"/><circle cx="183.2" cy="524.1" r="0.86"/><circle cx="182.6" cy="533" r="0.86"/><circle cx="174.9" cy="479.9" r="0.86"/><circle cx="170.4" cy="495.8" r="0.86"/><circle cx="173.4" cy="527.8" r="0.86"/><circle cx="185.5" cy="498.4" r="0.86"/><circle cx="180.2" cy="481.5" r="0.86"/><circle cx="181.4" cy="504.1" r="0.86"/><circle cx="174.7" cy="521" r="0.86"/><circle cx="174.2" cy="489.7" r="0.86"/><circle cx="173.3" cy="530.7" r="0.86"/><circle cx="175.4" cy="504" r="0.86"/><circle cx="178.6" cy="494.6" r="0.86"/><circle cx="173.3" cy="527.7" r="0.86"/><circle cx="175.3" cy="505.7" r="0.86"/><circle cx="180.7" cy="515" r="0.86"/><circle cx="173.1" cy="489.5" r="0.86"/><circle cx="186.9" cy="501.2" r="0.86"/><circle cx="183.4" cy="527.6" r="0.86"/><circle cx="181.1" cy="518.8" r="0.86"/><circle cx="177.7" cy="509.5" r="0.86"/><circle cx="173.5" cy="530.4" r="0.86"/><circle cx="172.4" cy="492.8" r="0.86"/><circle cx="170.1" cy="509.7" r="0.86"/><circle cx="180.2" cy="515.6" r="0.86"/><circle cx="179.6" cy="489.3" r="0.86"/><circle cx="182.8" cy="514.3" r="0.86"/><circle cx="176.5" cy="538.9" r="0.86"/><circle cx="183" cy="522.4" r="0.86"/><circle cx="183.1" cy="529.9" r="0.86"/><circle cx="175.2" cy="505.1" r="0.86"/><circle cx="171" cy="521.7" r="0.86"/><circle cx="173.6" cy="497.9" r="0.86"/><circle cx="171.5" cy="531" r="0.86"/><circle cx="176.8" cy="511.7" r="0.86"/><circle cx="184.5" cy="548" r="0.86"/><circle cx="182.2" cy="518.4" r="0.86"/><circle cx="181.4" cy="501.2" r="0.86"/><circle cx="176.9" cy="502" r="0.86"/><circle cx="173.1" cy="487.4" r="0.86"/><circle cx="180.7" cy="537.4" r="0.86"/><circle cx="176.2" cy="490.5" r="0.86"/><circle cx="187.8" cy="512.8" r="0.86"/><circle cx="181.6" cy="502" r="0.86"/><circle cx="170.7" cy="498.4" r="0.86"/><circle cx="182.3" cy="513.4" r="0.86"/><circle cx="178.3" cy="521.4" r="0.86"/><circle cx="172.2" cy="504.6" r="0.86"/><circle cx="172.7" cy="492.5" r="0.86"/><circle cx="171.6" cy="506.9" r="0.86"/><circle cx="184.2" cy="522.9" r="0.86"/><circle cx="177.4" cy="498.1" r="0.86"/><circle cx="178.4" cy="522.5" r="0.86"/><circle cx="171" cy="508.8" r="0.86"/><circle cx="177.3" cy="518.8" r="0.86"/><circle cx="178.8" cy="536.6" r="0.86"/><circle cx="179.1" cy="527.2" r="0.86"/><circle cx="180.1" cy="479.9" r="0.86"/><circle cx="179.5" cy="529.1" r="0.86"/><circle cx="173.1" cy="512.6" r="0.86"/><circle cx="179.1" cy="528.9" r="0.86"/><circle cx="173" cy="523" r="0.86"/><circle cx="177.6" cy="509" r="0.86"/><circle cx="173.4" cy="512.2" r="0.86"/><circle cx="175.2" cy="491" r="0.86"/><circle cx="179" cy="528.2" r="0.86"/><circle cx="183.7" cy="484.1" r="0.86"/><circle cx="170.3" cy="523.3" r="0.86"/><circle cx="184.3" cy="527.3" r="0.86"/><circle cx="179.5" cy="497.9" r="0.86"/><circle cx="179.3" cy="529.4" r="0.86"/><circle cx="176.7" cy="493.4" r="0.86"/><circle cx="172.3" cy="508.3" r="0.86"/><circle cx="184.7" cy="540.2" r="0.86"/><circle cx="179.3" cy="525.2" r="0.86"/><circle cx="187.1" cy="499.3" r="0.86"/><circle cx="180.6" cy="521.9" r="0.86"/><circle cx="173.7" cy="500.8" r="0.86"/><circle cx="176.9" cy="515.7" r="0.86"/><circle cx="184.2" cy="519.6" r="0.86"/><circle cx="184.1" cy="503.6" r="0.86"/><circle cx="173.8" cy="518.3" r="0.86"/><circle cx="174.2" cy="526.3" r="0.86"/><circle cx="181" cy="523.5" r="0.86"/><circle cx="182.3" cy="495.1" r="0.86"/><circle cx="178.5" cy="512" r="0.86"/><circle cx="181.9" cy="518" r="0.86"/><circle cx="180.7" cy="520.4" r="0.86"/><circle cx="178" cy="527.9" r="0.86"/><circle cx="175.9" cy="528.7" r="0.86"/><circle cx="182.7" cy="487.7" r="0.86"/><circle cx="183.9" cy="485.5" r="0.86"/><circle cx="182.1" cy="529.7" r="0.86"/><circle cx="174.6" cy="540.8" r="0.86"/><circle cx="184.5" cy="500.5" r="0.86"/><circle cx="185" cy="524.9" r="0.86"/><circle cx="186.7" cy="517.6" r="0.86"/><circle cx="184.5" cy="546.8" r="0.86"/><circle cx="173.2" cy="504.9" r="0.86"/><circle cx="179.6" cy="516.4" r="0.86"/><circle cx="172.5" cy="515.8" r="0.86"/><circle cx="184.3" cy="518.5" r="0.86"/><circle cx="186.6" cy="509.4" r="0.86"/><circle cx="173.4" cy="508.1" r="0.86"/><circle cx="182.4" cy="490" r="0.86"/><circle cx="184.1" cy="509.4" r="0.86"/><circle cx="182.5" cy="478.8" r="0.86"/><circle cx="183.6" cy="536.1" r="0.86"/><circle cx="184.8" cy="498.8" r="0.86"/><circle cx="182.2" cy="492.9" r="0.86"/><circle cx="185.5" cy="483.5" r="0.86"/><circle cx="178.1" cy="501.9" r="0.86"/><circle cx="173.7" cy="508" r="0.86"/><circle cx="180" cy="528.1" r="0.86"/><circle cx="179.3" cy="512.7" r="0.86"/><circle cx="175.6" cy="529.4" r="0.86"/><circle cx="179" cy="509.9" r="0.86"/><circle cx="186.5" cy="484.6" r="0.86"/><circle cx="187.5" cy="520.6" r="0.86"/><circle cx="178" cy="492.4" r="0.86"/><circle cx="174.3" cy="496.1" r="0.86"/><circle cx="178.5" cy="542.8" r="0.86"/><circle cx="175.5" cy="496.3" r="0.86"/><circle cx="177.3" cy="525" r="0.86"/><circle cx="179.7" cy="533.7" r="0.86"/><circle cx="181.5" cy="515.9" r="0.86"/><circle cx="179.1" cy="509.7" r="0.86"/><circle cx="170.7" cy="511.5" r="0.86"/><circle cx="175.9" cy="495.1" r="0.86"/><circle cx="186.8" cy="522.4" r="0.86"/><circle cx="171.9" cy="546.5" r="0.86"/><circle cx="173.2" cy="528.1" r="0.86"/><circle cx="174.5" cy="491.2" r="0.86"/><circle cx="178.9" cy="529.4" r="0.86"/><circle cx="183.5" cy="518.3" r="0.86"/><circle cx="175.4" cy="509.2" r="0.86"/><circle cx="180.8" cy="484.1" r="0.86"/><circle cx="174" cy="529.6" r="0.86"/><circle cx="185.9" cy="509.4" r="0.86"/><circle cx="174.2" cy="523.2" r="0.86"/><circle cx="182.2" cy="516.7" r="0.86"/><circle cx="184.4" cy="502.6" r="0.86"/><circle cx="183.6" cy="474.4" r="0.86"/><circle cx="176.9" cy="502.6" r="0.86"/><circle cx="184.5" cy="507.9" r="0.86"/><circle cx="175.4" cy="535.3" r="0.86"/><circle cx="170.7" cy="517" r="0.86"/><circle cx="178.2" cy="532.4" r="0.86"/><circle cx="176.6" cy="518.2" r="0.86"/><circle cx="182.2" cy="517.3" r="0.86"/><circle cx="175.6" cy="533.6" r="0.86"/><circle cx="184.6" cy="508.7" r="0.86"/><circle cx="185.5" cy="503" r="0.86"/><circle cx="182.9" cy="551.9" r="0.86"/><circle cx="174.5" cy="514" r="0.86"/><circle cx="181.9" cy="505.9" r="0.86"/><circle cx="186.8" cy="518.1" r="0.86"/><circle cx="183.5" cy="487" r="0.86"/><circle cx="171.1" cy="540.7" r="0.86"/><circle cx="174.2" cy="541.2" r="0.86"/><circle cx="183.1" cy="529.9" r="0.86"/><circle cx="186.3" cy="515.2" r="0.86"/><circle cx="184.5" cy="504.5" r="0.86"/><circle cx="183.9" cy="522.1" r="0.86"/><circle cx="174.4" cy="521.7" r="0.86"/><circle cx="174.7" cy="544.6" r="0.86"/><circle cx="174" cy="492.8" r="0.86"/><circle cx="179.1" cy="505.4" r="0.86"/><circle cx="171.8" cy="503.6" r="0.86"/><circle cx="174.9" cy="527.5" r="0.86"/><circle cx="185.8" cy="494.7" r="0.86"/><circle cx="177.3" cy="468.1" r="0.86"/><circle cx="171" cy="513.2" r="0.86"/><circle cx="171.5" cy="523.3" r="0.86"/><circle cx="185.7" cy="522.8" r="0.86"/><circle cx="179.2" cy="521.6" r="0.86"/><circle cx="182.8" cy="512.5" r="0.86"/><circle cx="180.1" cy="464.8" r="0.86"/><circle cx="182.6" cy="508.7" r="0.86"/><circle cx="170.8" cy="532.8" r="0.86"/><circle cx="182" cy="511.9" r="0.86"/><circle cx="174.8" cy="517.4" r="0.86"/><circle cx="179.8" cy="502.3" r="0.86"/><circle cx="173.9" cy="509.5" r="0.86"/><circle cx="177.9" cy="514.2" r="0.86"/><circle cx="184" cy="500.4" r="0.86"/><circle cx="181.3" cy="502.1" r="0.86"/><circle cx="179.4" cy="517.4" r="0.86"/><circle cx="174.1" cy="509.5" r="0.86"/><circle cx="173.2" cy="533.8" r="0.86"/><circle cx="172" cy="468.5" r="0.86"/><circle cx="176.1" cy="524.3" r="0.86"/><circle cx="181.2" cy="503" r="0.86"/><circle cx="175.2" cy="484.5" r="0.86"/><circle cx="181.5" cy="506.8" r="0.86"/><circle cx="184.6" cy="532.4" r="0.86"/><circle cx="182" cy="512.9" r="0.86"/><circle cx="172.5" cy="517.9" r="0.86"/><circle cx="180.3" cy="530.5" r="0.86"/><circle cx="182.5" cy="521.9" r="0.86"/><circle cx="178.9" cy="497.5" r="0.86"/><circle cx="183.4" cy="514.8" r="0.86"/><circle cx="181" cy="526.3" r="0.86"/><circle cx="181.1" cy="503.9" r="0.86"/><circle cx="176.7" cy="513.8" r="0.86"/><circle cx="186.9" cy="494.6" r="0.86"/><circle cx="182" cy="529.3" r="0.86"/><circle cx="174.4" cy="484.7" r="0.86"/><circle cx="181.5" cy="522" r="0.86"/><circle cx="176.1" cy="532.5" r="0.86"/><circle cx="174.5" cy="504.2" r="0.86"/><circle cx="172.6" cy="535.3" r="0.86"/><circle cx="181.2" cy="519" r="0.86"/><circle cx="179.7" cy="504.3" r="0.86"/><circle cx="187.2" cy="499.3" r="0.86"/><circle cx="183.3" cy="507.8" r="0.86"/><circle cx="177.7" cy="514.7" r="0.86"/><circle cx="174.4" cy="500.4" r="0.86"/><circle cx="181.3" cy="523.6" r="0.86"/><circle cx="182.5" cy="478.6" r="0.86"/><circle cx="175.5" cy="503.7" r="0.86"/><circle cx="172.3" cy="493.2" r="0.86"/><circle cx="175.8" cy="519.1" r="0.86"/><circle cx="173.9" cy="509.5" r="0.86"/><circle cx="178" cy="526.4" r="0.86"/><circle cx="180.4" cy="532" r="0.86"/><circle cx="181.4" cy="468.4" r="0.86"/><circle cx="174.4" cy="480.3" r="0.86"/><circle cx="186.2" cy="511.5" r="0.86"/><circle cx="173.4" cy="517.9" r="0.86"/><circle cx="180.1" cy="536.6" r="0.86"/><circle cx="185.7" cy="490" r="0.86"/><circle cx="181.2" cy="504.1" r="0.86"/><circle cx="175.7" cy="482.9" r="0.86"/><circle cx="182.6" cy="539.6" r="0.86"/><circle cx="175" cy="508" r="0.86"/><circle cx="184.7" cy="508.3" r="0.86"/><circle cx="179" cy="516" r="0.86"/><circle cx="177.5" cy="539.8" r="0.86"/><circle cx="176.5" cy="527.8" r="0.86"/><circle cx="181.1" cy="506.1" r="0.86"/><circle cx="176.8" cy="515.8" r="0.86"/><circle cx="171.8" cy="486.6" r="0.86"/><circle cx="174.9" cy="512" r="0.86"/><circle cx="173.5" cy="522.5" r="0.86"/><circle cx="179.1" cy="463.8" r="0.86"/><circle cx="178.7" cy="554.6" r="0.86"/><circle cx="175.6" cy="456.6" r="0.86"/><circle cx="185.3" cy="458.9" r="0.86"/><circle cx="179.5" cy="460.4" r="0.86"/>
</g>
<g fill="none" stroke="#b9b9b9" stroke-width=".62" transform="scale(1 .9)">
<circle cx="229.8" cy="482.7" r="0.86"/><circle cx="225.8" cy="467.2" r="0.86"/><circle cx="216.6" cy="501.1" r="0.86"/><circle cx="211" cy="494.4" r="0.86"/><circle cx="221.9" cy="492.1" r="0.86"/><circle cx="221.1" cy="487" r="0.86"/><circle cx="215.9" cy="494.5" r="0.86"/><circle cx="219.8" cy="515" r="0.86"/><circle cx="225.7" cy="496.4" r="0.86"/><circle cx="229.3" cy="506.9" r="0.86"/><circle cx="227.2" cy="497.6" r="0.86"/><circle cx="227.6" cy="526" r="0.86"/><circle cx="227.5" cy="508.7" r="0.86"/><circle cx="218.1" cy="507.7" r="0.86"/><circle cx="217.2" cy="504" r="0.86"/><circle cx="216.7" cy="462.6" r="0.86"/><circle cx="213.4" cy="508.4" r="0.86"/><circle cx="214.1" cy="499.8" r="0.86"/><circle cx="218.6" cy="489.5" r="0.86"/><circle cx="228.2" cy="495.6" r="0.86"/><circle cx="211.3" cy="515.4" r="0.86"/><circle cx="230" cy="497.8" r="0.86"/><circle cx="226.9" cy="459.7" r="0.86"/><circle cx="228.8" cy="508.5" r="0.86"/><circle cx="229" cy="528.9" r="0.86"/><circle cx="212.4" cy="498.3" r="0.86"/><circle cx="230.2" cy="472.5" r="0.86"/><circle cx="214.8" cy="510.8" r="0.86"/><circle cx="216.2" cy="492" r="0.86"/><circle cx="222.5" cy="475.8" r="0.86"/><circle cx="220.6" cy="486.8" r="0.86"/><circle cx="222.2" cy="469.9" r="0.86"/><circle cx="217.1" cy="526" r="0.86"/><circle cx="226.2" cy="492.1" r="0.86"/><circle cx="223.5" cy="505.3" r="0.86"/><circle cx="222" cy="469.9" r="0.86"/><circle cx="230" cy="467.9" r="0.86"/><circle cx="229.3" cy="508" r="0.86"/><circle cx="221.4" cy="505.2" r="0.86"/><circle cx="213.6" cy="509.8" r="0.86"/><circle cx="220.1" cy="488.7" r="0.86"/><circle cx="218.2" cy="505.7" r="0.86"/><circle cx="227.1" cy="503.3" r="0.86"/><circle cx="211.4" cy="515" r="0.86"/><circle cx="211.8" cy="473.2" r="0.86"/><circle cx="218.8" cy="513.9" r="0.86"/><circle cx="217.2" cy="514.2" r="0.86"/><circle cx="220.6" cy="502.1" r="0.86"/><circle cx="227.8" cy="501.7" r="0.86"/><circle cx="219.2" cy="489.8" r="0.86"/><circle cx="223.9" cy="508.2" r="0.86"/><circle cx="221.7" cy="466.9" r="0.86"/><circle cx="217.9" cy="471.4" r="0.86"/><circle cx="216.6" cy="480.9" r="0.86"/><circle cx="228.3" cy="492.5" r="0.86"/><circle cx="219.1" cy="486.7" r="0.86"/><circle cx="229.6" cy="490.5" r="0.86"/><circle cx="221.6" cy="498.1" r="0.86"/><circle cx="214.9" cy="505.7" r="0.86"/><circle cx="228.8" cy="524" r="0.86"/><circle cx="226" cy="453.1" r="0.86"/><circle cx="228.6" cy="512.1" r="0.86"/><circle cx="221.9" cy="478.9" r="0.86"/><circle cx="213.5" cy="458.4" r="0.86"/><circle cx="210.3" cy="501.4" r="0.86"/><circle cx="223.2" cy="497.9" r="0.86"/><circle cx="226.5" cy="521.9" r="0.86"/><circle cx="220.3" cy="505.9" r="0.86"/><circle cx="218.5" cy="505" r="0.86"/><circle cx="212.2" cy="477.1" r="0.86"/><circle cx="219.7" cy="499.3" r="0.86"/><circle cx="212.8" cy="508.9" r="0.86"/><circle cx="219.5" cy="506.1" r="0.86"/><circle cx="218.4" cy="513.8" r="0.86"/><circle cx="215.1" cy="502.6" r="0.86"/><circle cx="220" cy="506.5" r="0.86"/><circle cx="212" cy="472.6" r="0.86"/><circle cx="213.8" cy="520.6" r="0.86"/><circle cx="217.3" cy="494.5" r="0.86"/><circle cx="217" cy="491.6" r="0.86"/><circle cx="212.6" cy="465.1" r="0.86"/><circle cx="217.9" cy="501.3" r="0.86"/><circle cx="213.5" cy="526.9" r="0.86"/><circle cx="223" cy="504.5" r="0.86"/><circle cx="219.3" cy="469" r="0.86"/><circle cx="217.6" cy="462.1" r="0.86"/><circle cx="218.5" cy="516.9" r="0.86"/><circle cx="228.6" cy="496.4" r="0.86"/><circle cx="213.6" cy="494.6" r="0.86"/><circle cx="220.4" cy="509.7" r="0.86"/><circle cx="223.6" cy="502.6" r="0.86"/><circle cx="212.4" cy="480.6" r="0.86"/><circle cx="226.9" cy="501" r="0.86"/><circle cx="215.1" cy="516.8" r="0.86"/><circle cx="229.4" cy="475.9" r="0.86"/><circle cx="224.6" cy="516.6" r="0.86"/><circle cx="218.5" cy="487.2" r="0.86"/><circle cx="213.3" cy="498.3" r="0.86"/><circle cx="227.6" cy="524.1" r="0.86"/><circle cx="224.9" cy="478.1" r="0.86"/><circle cx="219.2" cy="493.7" r="0.86"/><circle cx="218.7" cy="496.2" r="0.86"/><circle cx="229.2" cy="512.2" r="0.86"/><circle cx="217.7" cy="454.2" r="0.86"/><circle cx="226.8" cy="496.1" r="0.86"/><circle cx="223.2" cy="528.5" r="0.86"/><circle cx="212.1" cy="490.3" r="0.86"/><circle cx="214.2" cy="524.3" r="0.86"/><circle cx="213.4" cy="493.7" r="0.86"/><circle cx="220.8" cy="532.9" r="0.86"/><circle cx="223.6" cy="481" r="0.86"/><circle cx="227.6" cy="500.5" r="0.86"/><circle cx="225.1" cy="513" r="0.86"/><circle cx="227.1" cy="515.7" r="0.86"/><circle cx="214.9" cy="475.5" r="0.86"/><circle cx="220.6" cy="513.5" r="0.86"/><circle cx="218.9" cy="490.3" r="0.86"/><circle cx="212.2" cy="497.5" r="0.86"/><circle cx="220.3" cy="460.8" r="0.86"/><circle cx="214.9" cy="501.5" r="0.86"/><circle cx="226.9" cy="459.6" r="0.86"/><circle cx="211" cy="481.2" r="0.86"/><circle cx="221.4" cy="472.4" r="0.86"/><circle cx="220.1" cy="478.4" r="0.86"/><circle cx="218.3" cy="510.6" r="0.86"/><circle cx="213.4" cy="504.2" r="0.86"/><circle cx="225.1" cy="523.1" r="0.86"/><circle cx="214.3" cy="522.6" r="0.86"/><circle cx="216.6" cy="505.7" r="0.86"/><circle cx="221.3" cy="521.6" r="0.86"/><circle cx="219.1" cy="503.6" r="0.86"/><circle cx="223.1" cy="461" r="0.86"/><circle cx="211.4" cy="499.2" r="0.86"/><circle cx="216.8" cy="460.6" r="0.86"/><circle cx="210.5" cy="507.9" r="0.86"/><circle cx="216.5" cy="469.7" r="0.86"/><circle cx="214.8" cy="493.8" r="0.86"/><circle cx="228.4" cy="482.3" r="0.86"/><circle cx="228" cy="463.8" r="0.86"/><circle cx="225.9" cy="502.9" r="0.86"/><circle cx="217.7" cy="505.1" r="0.86"/><circle cx="216.4" cy="466.3" r="0.86"/><circle cx="227.8" cy="502.2" r="0.86"/><circle cx="210.8" cy="502.8" r="0.86"/><circle cx="229.8" cy="468.5" r="0.86"/><circle cx="222.2" cy="496.5" r="0.86"/><circle cx="225.5" cy="492.9" r="0.86"/><circle cx="229.6" cy="466.4" r="0.86"/><circle cx="227.2" cy="498.9" r="0.86"/><circle cx="218.1" cy="498.6" r="0.86"/><circle cx="211.4" cy="510.3" r="0.86"/><circle cx="218.2" cy="476.6" r="0.86"/><circle cx="218.1" cy="471.8" r="0.86"/><circle cx="216.1" cy="459.7" r="0.86"/><circle cx="228" cy="512.2" r="0.86"/><circle cx="218.9" cy="498.7" r="0.86"/><circle cx="228.4" cy="492.2" r="0.86"/><circle cx="216.9" cy="504.3" r="0.86"/><circle cx="214.9" cy="527.5" r="0.86"/><circle cx="219.8" cy="515.9" r="0.86"/><circle cx="222.1" cy="487.1" r="0.86"/><circle cx="226.5" cy="490.2" r="0.86"/><circle cx="220.1" cy="474" r="0.86"/><circle cx="217.4" cy="494.4" r="0.86"/><circle cx="225" cy="498" r="0.86"/><circle cx="212.1" cy="494.6" r="0.86"/><circle cx="211.8" cy="469.8" r="0.86"/><circle cx="227.2" cy="445" r="0.86"/><circle cx="223.7" cy="520.4" r="0.86"/><circle cx="223.7" cy="503.1" r="0.86"/><circle cx="215.2" cy="476.5" r="0.86"/><circle cx="222.6" cy="481.1" r="0.86"/><circle cx="216.8" cy="486.1" r="0.86"/><circle cx="219.2" cy="505.1" r="0.86"/><circle cx="212.1" cy="524.7" r="0.86"/><circle cx="212.8" cy="511.7" r="0.86"/><circle cx="216.9" cy="461.5" r="0.86"/><circle cx="230.5" cy="497.7" r="0.86"/><circle cx="213.1" cy="483.5" r="0.86"/><circle cx="212.9" cy="534.6" r="0.86"/><circle cx="224.8" cy="512.5" r="0.86"/><circle cx="211.3" cy="476" r="0.86"/><circle cx="212.7" cy="467.5" r="0.86"/><circle cx="221.5" cy="452.2" r="0.86"/><circle cx="223.4" cy="498.5" r="0.86"/><circle cx="229.1" cy="517.5" r="0.86"/><circle cx="228.2" cy="444.8" r="0.86"/><circle cx="211.8" cy="471.6" r="0.86"/><circle cx="230" cy="512.6" r="0.86"/><circle cx="211.2" cy="498.1" r="0.86"/><circle cx="226.8" cy="468.6" r="0.86"/><circle cx="217.5" cy="485.2" r="0.86"/><circle cx="217.1" cy="478.9" r="0.86"/><circle cx="222.9" cy="480.2" r="0.86"/><circle cx="228.6" cy="476.1" r="0.86"/><circle cx="227.6" cy="512.2" r="0.86"/><circle cx="218.9" cy="489.3" r="0.86"/><circle cx="212.5" cy="515" r="0.86"/><circle cx="226.6" cy="503.8" r="0.86"/><circle cx="221.5" cy="488.9" r="0.86"/><circle cx="218.9" cy="463.8" r="0.86"/><circle cx="211.5" cy="490.8" r="0.86"/><circle cx="210.7" cy="493.1" r="0.86"/><circle cx="222.5" cy="490.2" r="0.86"/><circle cx="224.7" cy="511.6" r="0.86"/><circle cx="223" cy="522.8" r="0.86"/><circle cx="217.9" cy="482.8" r="0.86"/><circle cx="219.2" cy="488.5" r="0.86"/><circle cx="230" cy="476.8" r="0.86"/><circle cx="216.9" cy="482.8" r="0.86"/><circle cx="224.6" cy="479.9" r="0.86"/><circle cx="228.3" cy="493" r="0.86"/><circle cx="211.7" cy="523.7" r="0.86"/><circle cx="226.6" cy="485.7" r="0.86"/><circle cx="211.9" cy="506.5" r="0.86"/><circle cx="223.5" cy="505.9" r="0.86"/><circle cx="216" cy="472.1" r="0.86"/><circle cx="210.4" cy="504.8" r="0.86"/><circle cx="219.3" cy="506.5" r="0.86"/><circle cx="224.5" cy="499.7" r="0.86"/><circle cx="217.8" cy="510.1" r="0.86"/><circle cx="220.7" cy="521.1" r="0.86"/><circle cx="220.6" cy="505.1" r="0.86"/><circle cx="211.5" cy="488.2" r="0.86"/><circle cx="213" cy="500.3" r="0.86"/><circle cx="224.8" cy="506.4" r="0.86"/><circle cx="220.5" cy="475.3" r="0.86"/><circle cx="216.1" cy="495.5" r="0.86"/><circle cx="223" cy="507.9" r="0.86"/><circle cx="222.9" cy="464.5" r="0.86"/><circle cx="217" cy="522.6" r="0.86"/><circle cx="219.8" cy="478.5" r="0.86"/><circle cx="219.8" cy="498.8" r="0.86"/><circle cx="213.6" cy="497.1" r="0.86"/><circle cx="226.1" cy="501.6" r="0.86"/><circle cx="214.4" cy="468.8" r="0.86"/><circle cx="216.5" cy="491.7" r="0.86"/><circle cx="220" cy="496.5" r="0.86"/><circle cx="215.3" cy="517.2" r="0.86"/><circle cx="225.7" cy="505.3" r="0.86"/><circle cx="219.9" cy="443.2" r="0.86"/><circle cx="218.7" cy="536" r="0.86"/><circle cx="221.5" cy="440" r="0.86"/>
</g>
<g fill="none" stroke="#1e1e1e" stroke-width=".7">
<rect x="154.4" y="394.6" width="90" height="108.4"/>
<path d="M154.4 414.9h-3.6"/>
<path d="M154.4 435.6h-3.6"/>
<path d="M154.4 456.3h-3.6"/>
<path d="M154.4 476.5h-3.6"/>
<path d="M154.4 497h-3.6"/>
<path d="M178.8 503v3.3"/>
<rect x="161.8" y="449.3" width="34.1" height="23.3"/>
<path stroke="#3a3a3a" stroke-width=".58" d="M170.3 417.4h17 M170.3 499.1h17"/>
<path stroke="#000" stroke-width=".75" stroke-dasharray="1.5 1.3" d="M178.8 449.3V417.4 M178.8 472.6V499.1"/>
<path stroke="#0a0a0a" stroke-width="1.6" d="M161.8 461.2H195.9"/>
<path d="M220.6 503v3.3"/>
<rect x="203.3" y="433.3" width="34" height="24"/>
<path stroke="#3a3a3a" stroke-width=".58" d="M212.1 398.9h17 M212.1 482.4h17"/>
<path stroke="#000" stroke-width=".75" stroke-dasharray="1.5 1.3" d="M220.6 433.3V398.9 M220.6 457.3V482.4"/>
<path stroke="#0a0a0a" stroke-width="1.6" d="M203.3 447.4H237.3"/>
</g>
<g font-family="'Liberation Sans',Arial,sans-serif" fill="#1a1a1a" stroke="#1a1a1a" stroke-width=".12" text-anchor="middle">
<text font-size="5.2" transform="translate(148 414.9) rotate(-90) scale(0.85 1)">1.0</text>
<text font-size="5.2" transform="translate(148 435.6) rotate(-90) scale(0.85 1)">0.5</text>
<text font-size="5.2" transform="translate(148 456.3) rotate(-90) scale(0.85 1)">0.0</text>
<text font-size="5.2" transform="translate(148 476.5) rotate(-90) scale(0.85 1)">-0.5</text>
<text font-size="5.2" transform="translate(148 497) rotate(-90) scale(0.85 1)">-1.0</text>
<text stroke-width=".1" fill="#2a2a2a" font-size="5.2" text-anchor="start" textLength="57.4" lengthAdjust="spacingAndGlyphs" transform="translate(136.8 475.7) rotate(-90)">Overall immune infiltration score</text>
<text stroke-width=".08" text-anchor="start" textLength="6.0" lengthAdjust="spacingAndGlyphs" font-size="4.2" x="175.8" y="511.5">Epi</text>
<text stroke-width=".08" text-anchor="start" textLength="7.8" lengthAdjust="spacingAndGlyphs" font-size="4.2" x="216.7" y="511.5">Mes</text>
</g>
<text font-family="'DejaVu Sans',Verdana,sans-serif" font-weight="bold" font-size="9.6" x="185.8" y="525.5" fill="#111" textLength="29.5" lengthAdjust="spacingAndGlyphs">TCGA</text>
<text font-family="'DejaVu Sans',Verdana,sans-serif" font-size="9.0" x="162.4" y="391.3" fill="#222" stroke="#222" stroke-width=".07" textLength="75" lengthAdjust="spacingAndGlyphs">P =2.2 x 10<tspan font-size="6.3" dy="-3" stroke-width=".22">-16</tspan></text></g>
<g><g fill="none" stroke="#000" stroke-width=".62" transform="scale(1 .9)">
<circle cx="336" cy="554.9" r="0.98"/><circle cx="324.2" cy="533" r="0.98"/><circle cx="326.2" cy="497.4" r="0.98"/><circle cx="331" cy="480.1" r="0.98"/><circle cx="322.8" cy="504.2" r="0.98"/><circle cx="332.7" cy="515.3" r="0.98"/><circle cx="324.1" cy="482" r="0.98"/><circle cx="325.5" cy="447.3" r="0.98"/><circle cx="328.4" cy="487.8" r="0.98"/><circle cx="325.2" cy="495.9" r="0.98"/><circle cx="327.7" cy="487.5" r="0.98"/><circle cx="337.8" cy="557.9" r="0.98"/><circle cx="338" cy="557.3" r="0.98"/><circle cx="331.3" cy="546.4" r="0.98"/><circle cx="338.3" cy="555.3" r="0.98"/><circle cx="337.7" cy="490.1" r="0.98"/><circle cx="325.4" cy="483.8" r="0.98"/><circle cx="327.2" cy="518.6" r="0.98"/><circle cx="326.4" cy="538.4" r="0.98"/><circle cx="326.7" cy="523.3" r="0.98"/><circle cx="329.4" cy="537.2" r="0.98"/><circle cx="337.8" cy="441" r="0.98"/><circle cx="334.2" cy="481.2" r="0.98"/><circle cx="328.9" cy="521.2" r="0.98"/><circle cx="327.3" cy="497.1" r="0.98"/><circle cx="330" cy="530.4" r="0.98"/><circle cx="328.9" cy="553.8" r="0.98"/><circle cx="333.8" cy="482.4" r="0.98"/><circle cx="331.9" cy="500.4" r="0.98"/><circle cx="325" cy="488.5" r="0.98"/><circle cx="339.1" cy="476.2" r="0.98"/><circle cx="333.9" cy="557.3" r="0.98"/><circle cx="339.6" cy="519.3" r="0.98"/><circle cx="340.2" cy="541.6" r="0.98"/><circle cx="337.9" cy="507.5" r="0.98"/><circle cx="330.2" cy="525.8" r="0.98"/><circle cx="336.6" cy="478.1" r="0.98"/><circle cx="334.3" cy="530.1" r="0.98"/><circle cx="323.1" cy="506.2" r="0.98"/><circle cx="327.2" cy="546.2" r="0.98"/><circle cx="326" cy="517.4" r="0.98"/><circle cx="325.3" cy="475.3" r="0.98"/><circle cx="334.3" cy="474.4" r="0.98"/><circle cx="334.7" cy="558.6" r="0.98"/><circle cx="332.3" cy="547" r="0.98"/><circle cx="328.5" cy="486.9" r="0.98"/><circle cx="329.4" cy="523.7" r="0.98"/><circle cx="327.9" cy="548.7" r="0.98"/><circle cx="334.5" cy="536" r="0.98"/><circle cx="334" cy="513.4" r="0.98"/><circle cx="329.3" cy="486.4" r="0.98"/><circle cx="327" cy="539.7" r="0.98"/><circle cx="337.2" cy="527.9" r="0.98"/><circle cx="334.2" cy="483" r="0.98"/><circle cx="334.5" cy="534.8" r="0.98"/><circle cx="338.4" cy="484.2" r="0.98"/><circle cx="337.8" cy="488.4" r="0.98"/><circle cx="328.8" cy="443.4" r="0.98"/><circle cx="328.8" cy="482.6" r="0.98"/><circle cx="331.3" cy="549.7" r="0.98"/><circle cx="326.3" cy="535.8" r="0.98"/><circle cx="331.2" cy="455.1" r="0.98"/><circle cx="336.1" cy="485" r="0.98"/><circle cx="338.2" cy="541.5" r="0.98"/><circle cx="326.2" cy="502.1" r="0.98"/><circle cx="334.6" cy="499.3" r="0.98"/><circle cx="340.2" cy="516.8" r="0.98"/><circle cx="326.4" cy="522.2" r="0.98"/><circle cx="339.6" cy="536.6" r="0.98"/><circle cx="334.2" cy="469.3" r="0.98"/><circle cx="331.6" cy="479.1" r="0.98"/><circle cx="323.6" cy="498.9" r="0.98"/><circle cx="334" cy="548.1" r="0.98"/><circle cx="337.3" cy="478.3" r="0.98"/><circle cx="331.7" cy="552.6" r="0.98"/><circle cx="339.2" cy="465" r="0.98"/><circle cx="331.2" cy="503.6" r="0.98"/><circle cx="336.6" cy="542.9" r="0.98"/><circle cx="337.1" cy="520.9" r="0.98"/><circle cx="326.9" cy="494.8" r="0.98"/><circle cx="329.7" cy="558" r="0.98"/><circle cx="326.6" cy="543.7" r="0.98"/><circle cx="338.2" cy="459.5" r="0.98"/><circle cx="330.7" cy="524.2" r="0.98"/><circle cx="323.2" cy="468.6" r="0.98"/><circle cx="329.4" cy="501" r="0.98"/><circle cx="328.6" cy="446.6" r="0.98"/><circle cx="323.4" cy="455.9" r="0.98"/><circle cx="338" cy="457.2" r="0.98"/><circle cx="325.7" cy="461.2" r="0.98"/><circle cx="335.5" cy="525.5" r="0.98"/><circle cx="339.3" cy="543.4" r="0.98"/><circle cx="324.3" cy="478.7" r="0.98"/><circle cx="335.2" cy="464.2" r="0.98"/><circle cx="336.6" cy="484.4" r="0.98"/><circle cx="329.8" cy="524" r="0.98"/><circle cx="336.2" cy="467.7" r="0.98"/><circle cx="333.3" cy="498.7" r="0.98"/><circle cx="331.3" cy="446.5" r="0.98"/><circle cx="329.9" cy="510.8" r="0.98"/><circle cx="327.3" cy="477.2" r="0.98"/><circle cx="332.4" cy="505.3" r="0.98"/><circle cx="327.7" cy="474.4" r="0.98"/><circle cx="330.4" cy="467.4" r="0.98"/><circle cx="328.6" cy="440.6" r="0.98"/><circle cx="329.9" cy="524.9" r="0.98"/><circle cx="323.2" cy="474.7" r="0.98"/><circle cx="327.9" cy="450.9" r="0.98"/><circle cx="328.1" cy="526.8" r="0.98"/><circle cx="334.5" cy="495.8" r="0.98"/><circle cx="337.6" cy="556.5" r="0.98"/><circle cx="334.7" cy="509.5" r="0.98"/><circle cx="327.1" cy="535.7" r="0.98"/><circle cx="324.9" cy="459.8" r="0.98"/><circle cx="338.6" cy="485.1" r="0.98"/><circle cx="324.1" cy="458.1" r="0.98"/><circle cx="335.3" cy="451.1" r="0.98"/><circle cx="331.7" cy="472.8" r="0.98"/><circle cx="336.1" cy="538.3" r="0.98"/><circle cx="323" cy="514.3" r="0.98"/><circle cx="330.6" cy="490" r="0.98"/><circle cx="332.5" cy="488" r="0.98"/><circle cx="330.2" cy="481.9" r="0.98"/><circle cx="324.4" cy="549.6" r="0.98"/><circle cx="337.2" cy="486.4" r="0.98"/><circle cx="331.4" cy="523.8" r="0.98"/><circle cx="339.3" cy="515.4" r="0.98"/><circle cx="329.6" cy="514.6" r="0.98"/><circle cx="331.5" cy="535.2" r="0.98"/><circle cx="328.2" cy="486" r="0.98"/><circle cx="339.4" cy="503.7" r="0.98"/><circle cx="323.2" cy="554.3" r="0.98"/><circle cx="326.5" cy="527.3" r="0.98"/><circle cx="330" cy="507.7" r="0.98"/><circle cx="328.8" cy="438.1" r="0.98"/><circle cx="324.7" cy="487.4" r="0.98"/><circle cx="328.9" cy="497" r="0.98"/><circle cx="337" cy="444.4" r="0.98"/><circle cx="326.5" cy="464.1" r="0.98"/><circle cx="334" cy="521.5" r="0.98"/><circle cx="338.4" cy="534.8" r="0.98"/><circle cx="339.5" cy="514.1" r="0.98"/><circle cx="338.6" cy="494.3" r="0.98"/><circle cx="326.7" cy="497.3" r="0.98"/><circle cx="327.3" cy="441.8" r="0.98"/><circle cx="325" cy="524.1" r="0.98"/><circle cx="327.5" cy="473.3" r="0.98"/><circle cx="334.1" cy="530.1" r="0.98"/><circle cx="326.3" cy="531.4" r="0.98"/><circle cx="327.7" cy="476.2" r="0.98"/><circle cx="327.6" cy="540.6" r="0.98"/><circle cx="324.6" cy="504.8" r="0.98"/><circle cx="324.9" cy="486.6" r="0.98"/><circle cx="331.3" cy="451.1" r="0.98"/><circle cx="331.9" cy="540.7" r="0.98"/><circle cx="332.2" cy="442.2" r="0.98"/><circle cx="327" cy="484.2" r="0.98"/><circle cx="324.4" cy="521.5" r="0.98"/><circle cx="325.5" cy="477.1" r="0.98"/><circle cx="338.2" cy="557.6" r="0.98"/><circle cx="325.6" cy="460.7" r="0.98"/><circle cx="332" cy="519.3" r="0.98"/><circle cx="324" cy="466.2" r="0.98"/><circle cx="325.5" cy="464.9" r="0.98"/><circle cx="333.7" cy="461.3" r="0.98"/><circle cx="328.1" cy="545.4" r="0.98"/><circle cx="324.5" cy="468.1" r="0.98"/><circle cx="336.9" cy="525.4" r="0.98"/><circle cx="322.8" cy="538.7" r="0.98"/><circle cx="326.3" cy="492.7" r="0.98"/><circle cx="335.3" cy="450.2" r="0.98"/><circle cx="335.4" cy="541.3" r="0.98"/><circle cx="330.6" cy="518.7" r="0.98"/><circle cx="333.4" cy="490.2" r="0.98"/><circle cx="337.9" cy="462.4" r="0.98"/><circle cx="323.4" cy="544.9" r="0.98"/><circle cx="326.4" cy="526.1" r="0.98"/><circle cx="334.3" cy="482.8" r="0.98"/><circle cx="337.1" cy="464.1" r="0.98"/><circle cx="336.2" cy="526.7" r="0.98"/><circle cx="334.7" cy="543.2" r="0.98"/><circle cx="332.2" cy="527.9" r="0.98"/><circle cx="325.9" cy="533.6" r="0.98"/><circle cx="328.7" cy="441" r="0.98"/><circle cx="328.7" cy="459.1" r="0.98"/><circle cx="326.7" cy="538.7" r="0.98"/><circle cx="339.1" cy="511.9" r="0.98"/><circle cx="327.3" cy="501.7" r="0.98"/><circle cx="324.4" cy="527.2" r="0.98"/><circle cx="331.2" cy="483.6" r="0.98"/><circle cx="328.8" cy="491.3" r="0.98"/><circle cx="332.2" cy="532.8" r="0.98"/><circle cx="327" cy="491.9" r="0.98"/><circle cx="334.6" cy="483.7" r="0.98"/><circle cx="324" cy="479.3" r="0.98"/><circle cx="327.6" cy="493.3" r="0.98"/><circle cx="336.8" cy="556" r="0.98"/><circle cx="332.6" cy="534" r="0.98"/><circle cx="338" cy="547.5" r="0.98"/><circle cx="331.8" cy="491.5" r="0.98"/><circle cx="324.6" cy="513.7" r="0.98"/><circle cx="337.7" cy="471.3" r="0.98"/><circle cx="328.4" cy="532.2" r="0.98"/><circle cx="334.9" cy="459.9" r="0.98"/><circle cx="326.5" cy="469" r="0.98"/><circle cx="328.2" cy="524.7" r="0.98"/><circle cx="330.1" cy="483" r="0.98"/><circle cx="324.8" cy="466.6" r="0.98"/><circle cx="332.3" cy="445.7" r="0.98"/><circle cx="335.8" cy="518.3" r="0.98"/><circle cx="337.9" cy="462.2" r="0.98"/><circle cx="330.2" cy="516.2" r="0.98"/><circle cx="327.6" cy="511.7" r="0.98"/><circle cx="326" cy="466" r="0.98"/><circle cx="329.5" cy="501.1" r="0.98"/><circle cx="338.3" cy="538.9" r="0.98"/><circle cx="336.2" cy="554.4" r="0.98"/><circle cx="336.4" cy="513.2" r="0.98"/><circle cx="324.6" cy="465.1" r="0.98"/><circle cx="333.4" cy="509.4" r="0.98"/><circle cx="323.4" cy="445.6" r="0.98"/><circle cx="329.2" cy="525.9" r="0.98"/><circle cx="330" cy="502.1" r="0.98"/><circle cx="338.5" cy="525" r="0.98"/><circle cx="333" cy="482.7" r="0.98"/><circle cx="338.5" cy="497.7" r="0.98"/><circle cx="331.9" cy="481.3" r="0.98"/><circle cx="339.8" cy="546.9" r="0.98"/><circle cx="326.9" cy="487.9" r="0.98"/><circle cx="330.6" cy="508.1" r="0.98"/><circle cx="330.6" cy="475.4" r="0.98"/><circle cx="328.1" cy="478.9" r="0.98"/><circle cx="327.8" cy="477.2" r="0.98"/><circle cx="332.1" cy="533.8" r="0.98"/><circle cx="326" cy="507" r="0.98"/><circle cx="337.4" cy="456.8" r="0.98"/><circle cx="324.5" cy="489.3" r="0.98"/><circle cx="326.5" cy="438.1" r="0.98"/><circle cx="335.2" cy="455.3" r="0.98"/><circle cx="338.9" cy="530.4" r="0.98"/><circle cx="334.7" cy="484.9" r="0.98"/><circle cx="323.4" cy="506.1" r="0.98"/><circle cx="337.8" cy="563.1" r="0.98"/><circle cx="327.6" cy="517.8" r="0.98"/><circle cx="337.4" cy="542.1" r="0.98"/><circle cx="333.4" cy="525.6" r="0.98"/><circle cx="327.6" cy="526.1" r="0.98"/><circle cx="336.9" cy="499.1" r="0.98"/><circle cx="329.7" cy="485.9" r="0.98"/><circle cx="328.8" cy="554.7" r="0.98"/><circle cx="326.1" cy="484.1" r="0.98"/><circle cx="331.3" cy="489" r="0.98"/><circle cx="330.3" cy="449.7" r="0.98"/><circle cx="331.9" cy="511.4" r="0.98"/><circle cx="334.8" cy="500.9" r="0.98"/><circle cx="325.9" cy="489.4" r="0.98"/><circle cx="327.1" cy="528.1" r="0.98"/><circle cx="336.1" cy="488.4" r="0.98"/><circle cx="335" cy="457" r="0.98"/><circle cx="334.9" cy="458.8" r="0.98"/><circle cx="326.7" cy="515.4" r="0.98"/><circle cx="334.1" cy="517.1" r="0.98"/><circle cx="336.4" cy="481.7" r="0.98"/><circle cx="325.8" cy="511.3" r="0.98"/><circle cx="335.1" cy="538.6" r="0.98"/><circle cx="340.2" cy="508.7" r="0.98"/><circle cx="334" cy="514.4" r="0.98"/><circle cx="339.5" cy="475.5" r="0.98"/><circle cx="335" cy="502.9" r="0.98"/><circle cx="325.6" cy="560.2" r="0.98"/><circle cx="335.6" cy="487.9" r="0.98"/><circle cx="326.3" cy="535.5" r="0.98"/><circle cx="328.7" cy="538" r="0.98"/><circle cx="325.2" cy="541.6" r="0.98"/><circle cx="323.2" cy="483.7" r="0.98"/><circle cx="332.9" cy="538.3" r="0.98"/><circle cx="330.4" cy="559" r="0.98"/><circle cx="325.1" cy="534.4" r="0.98"/><circle cx="325.7" cy="504.3" r="0.98"/><circle cx="336" cy="560" r="0.98"/><circle cx="335.4" cy="515.8" r="0.98"/><circle cx="324.4" cy="484.7" r="0.98"/><circle cx="339.8" cy="516.7" r="0.98"/><circle cx="335.1" cy="456.2" r="0.98"/><circle cx="332.1" cy="549.1" r="0.98"/><circle cx="331.3" cy="497.1" r="0.98"/><circle cx="330.7" cy="518.1" r="0.98"/><circle cx="325" cy="504.9" r="0.98"/><circle cx="330.5" cy="487.1" r="0.98"/><circle cx="331" cy="501.7" r="0.98"/><circle cx="326.7" cy="506.1" r="0.98"/><circle cx="332.9" cy="473.3" r="0.98"/><circle cx="329.8" cy="514.8" r="0.98"/><circle cx="337.9" cy="547.9" r="0.98"/><circle cx="333.4" cy="500.8" r="0.98"/><circle cx="324.7" cy="460.4" r="0.98"/><circle cx="340.2" cy="512" r="0.98"/><circle cx="326.8" cy="491.5" r="0.98"/><circle cx="334.9" cy="438.7" r="0.98"/><circle cx="324.5" cy="478.3" r="0.98"/><circle cx="332.3" cy="436.7" r="0.98"/><circle cx="331" cy="563.3" r="0.98"/>
</g>
<g fill="none" stroke="#b9b9b9" stroke-width=".62" transform="scale(1 .9)">
<circle cx="376.8" cy="477.7" r="0.98"/><circle cx="373.2" cy="505.1" r="0.98"/><circle cx="371.3" cy="527.3" r="0.98"/><circle cx="377.7" cy="481.8" r="0.98"/><circle cx="364" cy="498.3" r="0.98"/><circle cx="371.7" cy="474.9" r="0.98"/><circle cx="365.4" cy="501" r="0.98"/><circle cx="380.5" cy="465.7" r="0.98"/><circle cx="373.8" cy="462.5" r="0.98"/><circle cx="360.6" cy="502.5" r="0.98"/><circle cx="362.8" cy="504.5" r="0.98"/><circle cx="368.7" cy="543.5" r="0.98"/><circle cx="360.8" cy="524.5" r="0.98"/><circle cx="371.7" cy="529.1" r="0.98"/><circle cx="362.2" cy="460" r="0.98"/><circle cx="376.2" cy="487" r="0.98"/><circle cx="377.5" cy="509.3" r="0.98"/><circle cx="363.1" cy="493.7" r="0.98"/><circle cx="364" cy="537.9" r="0.98"/><circle cx="363.1" cy="519.2" r="0.98"/><circle cx="365.9" cy="548.2" r="0.98"/><circle cx="365.9" cy="522.7" r="0.98"/><circle cx="375" cy="452.1" r="0.98"/><circle cx="368.6" cy="506" r="0.98"/><circle cx="361.5" cy="535" r="0.98"/><circle cx="370.7" cy="555.4" r="0.98"/><circle cx="369.2" cy="508.1" r="0.98"/><circle cx="362.5" cy="456.7" r="0.98"/><circle cx="360.3" cy="484.6" r="0.98"/><circle cx="363.3" cy="550.5" r="0.98"/><circle cx="365" cy="452.2" r="0.98"/><circle cx="373.1" cy="513.3" r="0.98"/><circle cx="367.7" cy="472.1" r="0.98"/><circle cx="368.1" cy="555.2" r="0.98"/><circle cx="380.6" cy="504.2" r="0.98"/><circle cx="366.8" cy="455.1" r="0.98"/><circle cx="377.8" cy="518.3" r="0.98"/><circle cx="363.1" cy="501.1" r="0.98"/><circle cx="361.5" cy="533.2" r="0.98"/><circle cx="374.3" cy="498.1" r="0.98"/><circle cx="379.2" cy="494.4" r="0.98"/><circle cx="377.6" cy="496.8" r="0.98"/><circle cx="371.8" cy="484" r="0.98"/><circle cx="368.3" cy="557" r="0.98"/><circle cx="367.6" cy="454.8" r="0.98"/><circle cx="374.5" cy="515.3" r="0.98"/><circle cx="360.7" cy="452.3" r="0.98"/><circle cx="363.5" cy="536.4" r="0.98"/><circle cx="365.9" cy="513" r="0.98"/><circle cx="378.1" cy="547.4" r="0.98"/><circle cx="373" cy="512.3" r="0.98"/><circle cx="365.7" cy="509.7" r="0.98"/><circle cx="377.1" cy="471.5" r="0.98"/><circle cx="373.1" cy="510.2" r="0.98"/><circle cx="374.2" cy="509.2" r="0.98"/><circle cx="374.4" cy="466.9" r="0.98"/><circle cx="375.5" cy="535.9" r="0.98"/><circle cx="377.1" cy="509.8" r="0.98"/><circle cx="369.8" cy="475" r="0.98"/><circle cx="374.9" cy="478.4" r="0.98"/><circle cx="367.6" cy="504.8" r="0.98"/><circle cx="376.2" cy="510.4" r="0.98"/><circle cx="363.1" cy="497.2" r="0.98"/><circle cx="363.7" cy="488" r="0.98"/><circle cx="362.2" cy="493.8" r="0.98"/><circle cx="369.2" cy="523.7" r="0.98"/><circle cx="372.9" cy="529.2" r="0.98"/><circle cx="365.4" cy="501.8" r="0.98"/><circle cx="374.3" cy="524.6" r="0.98"/><circle cx="380.4" cy="442.5" r="0.98"/><circle cx="378" cy="476.7" r="0.98"/><circle cx="368.6" cy="556.9" r="0.98"/><circle cx="370.4" cy="549.5" r="0.98"/><circle cx="368.8" cy="504" r="0.98"/><circle cx="360.7" cy="444.3" r="0.98"/><circle cx="371.9" cy="477.4" r="0.98"/><circle cx="373.7" cy="555.6" r="0.98"/><circle cx="371.3" cy="451.2" r="0.98"/><circle cx="371" cy="519.8" r="0.98"/><circle cx="370.5" cy="487.1" r="0.98"/><circle cx="373.2" cy="515.9" r="0.98"/><circle cx="362.8" cy="520.8" r="0.98"/><circle cx="375.4" cy="461.2" r="0.98"/><circle cx="365.8" cy="538.6" r="0.98"/><circle cx="380" cy="516.6" r="0.98"/><circle cx="370.9" cy="519.3" r="0.98"/><circle cx="365.1" cy="482.6" r="0.98"/><circle cx="372.6" cy="520.1" r="0.98"/><circle cx="368.5" cy="499.2" r="0.98"/><circle cx="360.9" cy="457.1" r="0.98"/><circle cx="367.6" cy="490" r="0.98"/><circle cx="376.2" cy="511.5" r="0.98"/><circle cx="379.7" cy="516.4" r="0.98"/><circle cx="378.6" cy="536.2" r="0.98"/><circle cx="372.9" cy="506.1" r="0.98"/><circle cx="379.2" cy="459.7" r="0.98"/><circle cx="368.9" cy="508.1" r="0.98"/><circle cx="372.1" cy="469.1" r="0.98"/><circle cx="366" cy="456.7" r="0.98"/><circle cx="364" cy="493" r="0.98"/><circle cx="366" cy="504.7" r="0.98"/><circle cx="371" cy="508.3" r="0.98"/><circle cx="379.6" cy="501.2" r="0.98"/><circle cx="362" cy="536.6" r="0.98"/><circle cx="362.9" cy="500" r="0.98"/><circle cx="365.4" cy="476.5" r="0.98"/><circle cx="373.7" cy="473.9" r="0.98"/><circle cx="376.1" cy="453.5" r="0.98"/><circle cx="364.1" cy="515.2" r="0.98"/><circle cx="365.5" cy="449.8" r="0.98"/><circle cx="361.9" cy="487.4" r="0.98"/><circle cx="364.1" cy="527.3" r="0.98"/><circle cx="372.9" cy="454.4" r="0.98"/><circle cx="364" cy="537.7" r="0.98"/><circle cx="366.3" cy="549" r="0.98"/><circle cx="368.7" cy="462.2" r="0.98"/><circle cx="378.5" cy="549.1" r="0.98"/><circle cx="360.5" cy="464.3" r="0.98"/><circle cx="376.2" cy="451.7" r="0.98"/><circle cx="377.7" cy="487.3" r="0.98"/><circle cx="361.3" cy="507.1" r="0.98"/><circle cx="364.2" cy="540.7" r="0.98"/><circle cx="369.2" cy="527.7" r="0.98"/><circle cx="369.9" cy="527.6" r="0.98"/><circle cx="379.6" cy="472.3" r="0.98"/><circle cx="378.7" cy="480" r="0.98"/><circle cx="376.4" cy="521.7" r="0.98"/><circle cx="375.2" cy="505.6" r="0.98"/><circle cx="361.6" cy="498.8" r="0.98"/><circle cx="380.8" cy="502.7" r="0.98"/><circle cx="362.7" cy="484.2" r="0.98"/><circle cx="378.2" cy="460.3" r="0.98"/><circle cx="364.5" cy="512.1" r="0.98"/><circle cx="366.1" cy="451.6" r="0.98"/><circle cx="366.6" cy="536.8" r="0.98"/><circle cx="377.8" cy="476.7" r="0.98"/><circle cx="362.1" cy="533.7" r="0.98"/><circle cx="364.2" cy="467.6" r="0.98"/><circle cx="377.1" cy="481" r="0.98"/><circle cx="364.9" cy="539.4" r="0.98"/><circle cx="370.6" cy="484" r="0.98"/><circle cx="376.3" cy="480.2" r="0.98"/><circle cx="372.6" cy="534.8" r="0.98"/><circle cx="377.9" cy="516.3" r="0.98"/><circle cx="372.5" cy="502.4" r="0.98"/><circle cx="379.9" cy="487" r="0.98"/><circle cx="372.9" cy="460.4" r="0.98"/><circle cx="369.5" cy="457.8" r="0.98"/><circle cx="362.7" cy="540.1" r="0.98"/><circle cx="362.8" cy="488.4" r="0.98"/><circle cx="364.7" cy="463.3" r="0.98"/><circle cx="374.8" cy="481.5" r="0.98"/><circle cx="374.7" cy="523.4" r="0.98"/><circle cx="376.7" cy="491.1" r="0.98"/><circle cx="368.7" cy="500.1" r="0.98"/><circle cx="376.1" cy="479.7" r="0.98"/><circle cx="378" cy="500.7" r="0.98"/><circle cx="373.3" cy="514.1" r="0.98"/><circle cx="378.9" cy="501" r="0.98"/><circle cx="377.7" cy="489.1" r="0.98"/><circle cx="369.7" cy="521.7" r="0.98"/><circle cx="372.5" cy="474" r="0.98"/><circle cx="372.1" cy="516.9" r="0.98"/><circle cx="366.4" cy="464.1" r="0.98"/><circle cx="372.7" cy="499.4" r="0.98"/><circle cx="369.6" cy="485.8" r="0.98"/><circle cx="361.3" cy="500.4" r="0.98"/><circle cx="379.5" cy="493.4" r="0.98"/><circle cx="370.6" cy="535" r="0.98"/><circle cx="371.7" cy="533.3" r="0.98"/><circle cx="368.5" cy="454.9" r="0.98"/><circle cx="370.7" cy="555.7" r="0.98"/><circle cx="368.8" cy="503.9" r="0.98"/><circle cx="372.3" cy="477.6" r="0.98"/><circle cx="379.4" cy="467.1" r="0.98"/><circle cx="378.3" cy="475.4" r="0.98"/><circle cx="369.6" cy="535.7" r="0.98"/><circle cx="376" cy="478.9" r="0.98"/><circle cx="379.4" cy="538.8" r="0.98"/><circle cx="374.7" cy="442.7" r="0.98"/><circle cx="376" cy="504.1" r="0.98"/><circle cx="368.1" cy="491.2" r="0.98"/><circle cx="363.2" cy="475.3" r="0.98"/><circle cx="375.8" cy="545.7" r="0.98"/><circle cx="380.3" cy="517.5" r="0.98"/><circle cx="375.8" cy="481.3" r="0.98"/><circle cx="371" cy="537.7" r="0.98"/><circle cx="373.7" cy="559.3" r="0.98"/><circle cx="362.8" cy="505.5" r="0.98"/><circle cx="379.3" cy="503.4" r="0.98"/><circle cx="374.2" cy="475" r="0.98"/><circle cx="379.9" cy="547.7" r="0.98"/><circle cx="361.8" cy="533.8" r="0.98"/><circle cx="367.5" cy="515" r="0.98"/><circle cx="371.7" cy="521.6" r="0.98"/><circle cx="369.2" cy="506.1" r="0.98"/><circle cx="379.7" cy="505.4" r="0.98"/><circle cx="378.7" cy="452.9" r="0.98"/><circle cx="372.2" cy="512.4" r="0.98"/><circle cx="361" cy="527.4" r="0.98"/><circle cx="364" cy="505.3" r="0.98"/><circle cx="363.3" cy="462.6" r="0.98"/><circle cx="367.8" cy="481.4" r="0.98"/><circle cx="376.7" cy="541" r="0.98"/><circle cx="377.2" cy="506.9" r="0.98"/><circle cx="361.4" cy="495.8" r="0.98"/><circle cx="377.1" cy="495.4" r="0.98"/><circle cx="377.1" cy="509" r="0.98"/><circle cx="375.9" cy="498.7" r="0.98"/><circle cx="380.4" cy="470" r="0.98"/><circle cx="369.2" cy="488.2" r="0.98"/><circle cx="378.1" cy="485.3" r="0.98"/><circle cx="378.9" cy="505.9" r="0.98"/><circle cx="374.4" cy="508.3" r="0.98"/><circle cx="364.1" cy="493.1" r="0.98"/><circle cx="369.4" cy="494.3" r="0.98"/><circle cx="378.9" cy="485.6" r="0.98"/><circle cx="361.8" cy="448.2" r="0.98"/><circle cx="361.8" cy="495.1" r="0.98"/><circle cx="365.4" cy="504.2" r="0.98"/><circle cx="365.7" cy="467" r="0.98"/><circle cx="378.7" cy="529" r="0.98"/><circle cx="361" cy="555.9" r="0.98"/><circle cx="362.2" cy="507" r="0.98"/><circle cx="363.5" cy="481" r="0.98"/><circle cx="365.8" cy="537.5" r="0.98"/><circle cx="377.2" cy="491.7" r="0.98"/><circle cx="368.5" cy="456.2" r="0.98"/><circle cx="373" cy="465" r="0.98"/><circle cx="370.6" cy="440.8" r="0.98"/><circle cx="371.3" cy="561.4" r="0.98"/>
</g>
<g fill="none" stroke="#1e1e1e" stroke-width=".7">
<rect x="308.6" y="388.6" width="84.9" height="122.8"/>
<path d="M308.6 408.5h-3.6"/>
<path d="M308.6 434.6h-3.6"/>
<path d="M308.6 461.2h-3.6"/>
<path d="M308.6 487.3h-3.6"/>
<path d="M331.4 511.4v3.3"/>
<rect x="315.4" y="430" width="32.2" height="43.9"/>
<path stroke="#3a3a3a" stroke-width=".58" d="M323.3 393h16.1 M323.3 507h16.1"/>
<path stroke="#000" stroke-width=".75" stroke-dasharray="1.5 1.3" d="M331.4 430V393 M331.4 473.9V507"/>
<path stroke="#0a0a0a" stroke-width="1.6" d="M315.4 450.6H347.6"/>
<path d="M370.6 511.4v3.3"/>
<rect x="354.3" y="425.3" width="32.5" height="42.1"/>
<path stroke="#3a3a3a" stroke-width=".58" d="M362.5 396.7h16.2 M362.5 505.3h16.2"/>
<path stroke="#000" stroke-width=".75" stroke-dasharray="1.5 1.3" d="M370.6 425.3V396.7 M370.6 467.4V505.3"/>
<path stroke="#0a0a0a" stroke-width="1.6" d="M354.3 445.6H386.8"/>
</g>
<g font-family="'Liberation Sans',Arial,sans-serif" fill="#1a1a1a" stroke="#1a1a1a" stroke-width=".12" text-anchor="middle">
<text font-size="4.7" transform="translate(300.9 408.5) rotate(-90) scale(1 1)">0.8</text>
<text font-size="4.7" transform="translate(300.9 434.6) rotate(-90) scale(1 1)">0.6</text>
<text font-size="4.7" transform="translate(300.9 461.2) rotate(-90) scale(1 1)">0.4</text>
<text font-size="4.7" transform="translate(300.9 487.3) rotate(-90) scale(1 1)">0.2</text>
<text stroke-width=".1" fill="#2a2a2a" font-size="4.9" text-anchor="start" textLength="16.1" lengthAdjust="spacingAndGlyphs" transform="translate(288.8 459.1) rotate(-90)">IS score</text>
<text stroke-width=".08" text-anchor="start" textLength="7.4" lengthAdjust="spacingAndGlyphs" font-size="4.9" x="327.7" y="521.4">Epi</text>
<text stroke-width=".08" text-anchor="start" textLength="9.7" lengthAdjust="spacingAndGlyphs" font-size="4.9" x="365.8" y="521.4">Mes</text>
</g>
<text font-family="'DejaVu Sans',Verdana,sans-serif" font-weight="bold" font-size="9.6" x="336.7" y="536.2" fill="#111" textLength="28.9" lengthAdjust="spacingAndGlyphs">TCGA</text>
<text font-family="'DejaVu Sans',Verdana,sans-serif" font-size="9.0" x="324.7" y="384.2" fill="#222" stroke="#222" stroke-width=".07" textLength="50.3" lengthAdjust="spacingAndGlyphs">P = 0.046</text></g>
<g><g fill="none" stroke="#000" stroke-width=".62" transform="scale(1 .9)">
<circle cx="459.1" cy="438.4" r="0.98"/><circle cx="448.3" cy="438.5" r="0.98"/><circle cx="449.3" cy="437.5" r="0.98"/><circle cx="450.3" cy="437.9" r="0.98"/><circle cx="453.9" cy="437.5" r="0.98"/><circle cx="456.1" cy="437.9" r="0.98"/><circle cx="462.1" cy="438.1" r="0.98"/><circle cx="459.4" cy="438.6" r="0.98"/><circle cx="455.6" cy="438.4" r="0.98"/><circle cx="446.8" cy="438.7" r="0.98"/><circle cx="461.7" cy="438.8" r="0.98"/><circle cx="446.7" cy="437.7" r="0.98"/><circle cx="450.7" cy="437.6" r="0.98"/><circle cx="449.7" cy="437.5" r="0.98"/><circle cx="455.3" cy="438.7" r="0.98"/><circle cx="451" cy="438.6" r="0.98"/><circle cx="460" cy="438.2" r="0.98"/><circle cx="460" cy="437.7" r="0.98"/><circle cx="455.7" cy="438.3" r="0.98"/><circle cx="445.4" cy="438.9" r="0.98"/><circle cx="449.7" cy="438.1" r="0.98"/><circle cx="458.7" cy="438.1" r="0.98"/><circle cx="447.4" cy="438.9" r="0.98"/><circle cx="460.1" cy="438.1" r="0.98"/><circle cx="450.8" cy="438.9" r="0.98"/><circle cx="450.6" cy="441.6" r="0.98"/><circle cx="458.2" cy="439.3" r="0.98"/><circle cx="456.3" cy="439.1" r="0.98"/><circle cx="453.7" cy="441.5" r="0.98"/><circle cx="445.8" cy="440.3" r="0.98"/><circle cx="461.8" cy="439.2" r="0.98"/><circle cx="452.9" cy="441.1" r="0.98"/><circle cx="459.6" cy="450.9" r="0.98"/><circle cx="455.1" cy="451" r="0.98"/><circle cx="456.7" cy="458.5" r="0.98"/><circle cx="456.5" cy="445.5" r="0.98"/><circle cx="449.2" cy="450.1" r="0.98"/><circle cx="456.6" cy="455.3" r="0.98"/><circle cx="449.9" cy="444.9" r="0.98"/><circle cx="446.8" cy="454.8" r="0.98"/><circle cx="445.8" cy="441.9" r="0.98"/><circle cx="452.8" cy="455.6" r="0.98"/><circle cx="462" cy="446.3" r="0.98"/><circle cx="451.3" cy="443.5" r="0.98"/><circle cx="447.6" cy="445" r="0.98"/><circle cx="458.8" cy="502.3" r="0.98"/><circle cx="457.2" cy="506.2" r="0.98"/><circle cx="448.7" cy="518.1" r="0.98"/><circle cx="454.3" cy="475.1" r="0.98"/><circle cx="459" cy="474.1" r="0.98"/><circle cx="445.6" cy="505.3" r="0.98"/><circle cx="447.5" cy="519.5" r="0.98"/><circle cx="459.6" cy="479.4" r="0.98"/><circle cx="461.7" cy="495" r="0.98"/><circle cx="454.5" cy="476.2" r="0.98"/><circle cx="460.6" cy="496.4" r="0.98"/><circle cx="450.2" cy="477.9" r="0.98"/><circle cx="450.4" cy="479" r="0.98"/><circle cx="461.2" cy="494.2" r="0.98"/><circle cx="456" cy="504.3" r="0.98"/><circle cx="446.4" cy="495.8" r="0.98"/><circle cx="458.6" cy="463.9" r="0.98"/><circle cx="461.1" cy="488.9" r="0.98"/><circle cx="445.6" cy="518.4" r="0.98"/><circle cx="452.2" cy="509.4" r="0.98"/><circle cx="461.9" cy="460.9" r="0.98"/><circle cx="450" cy="488.9" r="0.98"/><circle cx="450.4" cy="502.4" r="0.98"/><circle cx="451.5" cy="488.1" r="0.98"/><circle cx="452.3" cy="506.4" r="0.98"/><circle cx="454.5" cy="482.5" r="0.98"/><circle cx="460.1" cy="485.8" r="0.98"/><circle cx="462.2" cy="466.9" r="0.98"/><circle cx="446.9" cy="501.5" r="0.98"/><circle cx="460.4" cy="462" r="0.98"/><circle cx="451.1" cy="545.9" r="0.98"/><circle cx="457.6" cy="539.7" r="0.98"/><circle cx="457" cy="551" r="0.98"/><circle cx="455.1" cy="533.5" r="0.98"/><circle cx="448.8" cy="531.9" r="0.98"/><circle cx="459.2" cy="550.5" r="0.98"/><circle cx="451.5" cy="528.4" r="0.98"/><circle cx="461.9" cy="521.9" r="0.98"/><circle cx="451.9" cy="534.5" r="0.98"/><circle cx="457.2" cy="521.4" r="0.98"/><circle cx="456.9" cy="521.4" r="0.98"/><circle cx="448.8" cy="535.7" r="0.98"/><circle cx="458.3" cy="526.8" r="0.98"/><circle cx="456.4" cy="520.9" r="0.98"/><circle cx="448" cy="530.9" r="0.98"/><circle cx="446.6" cy="548.7" r="0.98"/><circle cx="455.1" cy="549.5" r="0.98"/><circle cx="453.2" cy="539.8" r="0.98"/><circle cx="445.8" cy="553.2" r="0.98"/><circle cx="450.6" cy="542.8" r="0.98"/><circle cx="459.7" cy="534.5" r="0.98"/><circle cx="451.2" cy="547.1" r="0.98"/><circle cx="459" cy="552.4" r="0.98"/><circle cx="452.2" cy="532" r="0.98"/><circle cx="453.9" cy="541.2" r="0.98"/><circle cx="456.7" cy="549.5" r="0.98"/><circle cx="456" cy="529" r="0.98"/><circle cx="458.5" cy="547.6" r="0.98"/><circle cx="459.5" cy="523.5" r="0.98"/><circle cx="452.1" cy="550.3" r="0.98"/><circle cx="452" cy="525.7" r="0.98"/><circle cx="445.9" cy="545.1" r="0.98"/><circle cx="445.8" cy="532.3" r="0.98"/><circle cx="453.1" cy="526" r="0.98"/><circle cx="453.1" cy="546.2" r="0.98"/><circle cx="446.5" cy="531.5" r="0.98"/><circle cx="456.7" cy="558.2" r="0.98"/><circle cx="454.9" cy="555.5" r="0.98"/><circle cx="451.3" cy="560.6" r="0.98"/><circle cx="453.5" cy="555.6" r="0.98"/><circle cx="453.3" cy="554.2" r="0.98"/><circle cx="455" cy="560.7" r="0.98"/><circle cx="456.4" cy="553.4" r="0.98"/><circle cx="459.6" cy="554.9" r="0.98"/><circle cx="445.9" cy="555.5" r="0.98"/><circle cx="454.4" cy="553.4" r="0.98"/><circle cx="462.1" cy="556.5" r="0.98"/><circle cx="445.5" cy="558.6" r="0.98"/><circle cx="461.9" cy="553.5" r="0.98"/><circle cx="448" cy="554.2" r="0.98"/><circle cx="451.5" cy="556.3" r="0.98"/><circle cx="445.8" cy="560.8" r="0.98"/><circle cx="458.3" cy="562.3" r="0.98"/><circle cx="456" cy="562.9" r="0.98"/><circle cx="458.9" cy="562.2" r="0.98"/><circle cx="461.5" cy="563.6" r="0.98"/><circle cx="455.9" cy="563.1" r="0.98"/><circle cx="456.4" cy="561.5" r="0.98"/><circle cx="460.4" cy="562.9" r="0.98"/><circle cx="448.7" cy="562.5" r="0.98"/><circle cx="457.6" cy="563.8" r="0.98"/><circle cx="449" cy="562.6" r="0.98"/><circle cx="462.1" cy="561.6" r="0.98"/><circle cx="452" cy="564.3" r="0.98"/><circle cx="457.6" cy="563" r="0.98"/><circle cx="452.9" cy="561.7" r="0.98"/><circle cx="458.1" cy="562.5" r="0.98"/><circle cx="446.6" cy="564.3" r="0.98"/><circle cx="446.8" cy="562.9" r="0.98"/><circle cx="457.1" cy="563.1" r="0.98"/><circle cx="452" cy="563.7" r="0.98"/><circle cx="449.5" cy="563.5" r="0.98"/><circle cx="452.4" cy="564.3" r="0.98"/><circle cx="459.8" cy="562.1" r="0.98"/><circle cx="460.5" cy="562.8" r="0.98"/><circle cx="451.1" cy="561.9" r="0.98"/><circle cx="448.3" cy="561.6" r="0.98"/><circle cx="449" cy="562.6" r="0.98"/><circle cx="456.9" cy="564.2" r="0.98"/><circle cx="457" cy="564.3" r="0.98"/><circle cx="461.4" cy="564" r="0.98"/><circle cx="450.2" cy="561.6" r="0.98"/><circle cx="455.4" cy="562.5" r="0.98"/><circle cx="462" cy="561.5" r="0.98"/><circle cx="461.4" cy="562.3" r="0.98"/><circle cx="456.8" cy="563.6" r="0.98"/><circle cx="453.5" cy="563.8" r="0.98"/><circle cx="459.6" cy="561.8" r="0.98"/><circle cx="459.2" cy="564.4" r="0.98"/><circle cx="459.3" cy="563.2" r="0.98"/><circle cx="455.5" cy="561.7" r="0.98"/><circle cx="454.8" cy="562.3" r="0.98"/>
</g>
<g fill="none" stroke="#b9b9b9" stroke-width=".62" transform="scale(1 .9)">
<circle cx="491.7" cy="438.8" r="0.98"/><circle cx="492.1" cy="437.6" r="0.98"/><circle cx="502.3" cy="438.2" r="0.98"/><circle cx="502.6" cy="437.6" r="0.98"/><circle cx="503" cy="438" r="0.98"/><circle cx="502.7" cy="438.3" r="0.98"/><circle cx="493.5" cy="437.9" r="0.98"/><circle cx="489.6" cy="438.2" r="0.98"/><circle cx="488.9" cy="438.7" r="0.98"/><circle cx="492.1" cy="437.8" r="0.98"/><circle cx="494.3" cy="438.1" r="0.98"/><circle cx="503.4" cy="437.5" r="0.98"/><circle cx="493.7" cy="438.2" r="0.98"/><circle cx="496.5" cy="438.7" r="0.98"/><circle cx="496.9" cy="438.4" r="0.98"/><circle cx="499.1" cy="437.9" r="0.98"/><circle cx="495.2" cy="437.7" r="0.98"/><circle cx="489.6" cy="438.8" r="0.98"/><circle cx="499.2" cy="437.5" r="0.98"/><circle cx="502" cy="438" r="0.98"/><circle cx="494.7" cy="438.6" r="0.98"/><circle cx="492.7" cy="438.4" r="0.98"/><circle cx="501" cy="441.1" r="0.98"/><circle cx="490.5" cy="439.3" r="0.98"/><circle cx="500.5" cy="440.9" r="0.98"/><circle cx="493.9" cy="442" r="0.98"/><circle cx="497.1" cy="442.2" r="0.98"/><circle cx="490.8" cy="441.7" r="0.98"/><circle cx="504.4" cy="439.5" r="0.98"/><circle cx="491.1" cy="440.5" r="0.98"/><circle cx="493.1" cy="448.8" r="0.98"/><circle cx="489.5" cy="442.6" r="0.98"/><circle cx="489.3" cy="443.4" r="0.98"/><circle cx="493.5" cy="451" r="0.98"/><circle cx="497.6" cy="444" r="0.98"/><circle cx="497.8" cy="453.2" r="0.98"/><circle cx="504.1" cy="443.7" r="0.98"/><circle cx="499.6" cy="443.2" r="0.98"/><circle cx="502.4" cy="445.8" r="0.98"/><circle cx="498.4" cy="452.4" r="0.98"/><circle cx="495.3" cy="445.8" r="0.98"/><circle cx="488.7" cy="449.7" r="0.98"/><circle cx="499.1" cy="449.8" r="0.98"/><circle cx="489.1" cy="446" r="0.98"/><circle cx="492.4" cy="465.5" r="0.98"/><circle cx="489.6" cy="471.1" r="0.98"/><circle cx="502.3" cy="520.8" r="0.98"/><circle cx="498.1" cy="478.4" r="0.98"/><circle cx="493.3" cy="523.5" r="0.98"/><circle cx="490" cy="462.3" r="0.98"/><circle cx="503.8" cy="474.6" r="0.98"/><circle cx="503.9" cy="476.2" r="0.98"/><circle cx="489.4" cy="478.3" r="0.98"/><circle cx="502.3" cy="520.1" r="0.98"/><circle cx="498.1" cy="494.5" r="0.98"/><circle cx="495.2" cy="480.2" r="0.98"/><circle cx="503.7" cy="483.9" r="0.98"/><circle cx="489.5" cy="498.9" r="0.98"/><circle cx="494.1" cy="478" r="0.98"/><circle cx="503.8" cy="505.1" r="0.98"/><circle cx="495.6" cy="525.2" r="0.98"/><circle cx="490.8" cy="467.3" r="0.98"/><circle cx="504.2" cy="462" r="0.98"/><circle cx="500.3" cy="475.6" r="0.98"/><circle cx="489.5" cy="527" r="0.98"/><circle cx="499.9" cy="478.4" r="0.98"/><circle cx="491.3" cy="551.8" r="0.98"/><circle cx="500.5" cy="539.6" r="0.98"/><circle cx="488.3" cy="541.3" r="0.98"/><circle cx="497" cy="539.9" r="0.98"/><circle cx="500.8" cy="544.7" r="0.98"/><circle cx="491.4" cy="546.8" r="0.98"/><circle cx="490" cy="551.6" r="0.98"/><circle cx="504.3" cy="537.8" r="0.98"/><circle cx="490.7" cy="547.8" r="0.98"/><circle cx="491.8" cy="534.3" r="0.98"/><circle cx="496.3" cy="536.5" r="0.98"/><circle cx="499.3" cy="545.7" r="0.98"/><circle cx="491.5" cy="564" r="0.98"/><circle cx="497" cy="563.4" r="0.98"/><circle cx="501.1" cy="560.7" r="0.98"/><circle cx="491.5" cy="560.9" r="0.98"/><circle cx="496.4" cy="563.1" r="0.98"/><circle cx="489.8" cy="560.8" r="0.98"/><circle cx="488" cy="563.4" r="0.98"/><circle cx="503.5" cy="562.4" r="0.98"/><circle cx="497.7" cy="561.6" r="0.98"/><circle cx="493.3" cy="561.3" r="0.98"/><circle cx="487.7" cy="560.6" r="0.98"/><circle cx="495.8" cy="561.1" r="0.98"/><circle cx="498.2" cy="560.2" r="0.98"/><circle cx="494.2" cy="564.1" r="0.98"/><circle cx="491.4" cy="564.4" r="0.98"/><circle cx="487.7" cy="564.3" r="0.98"/>
</g>
<g fill="none" stroke="#1e1e1e" stroke-width=".7">
<rect x="429.3" y="389" width="91.8" height="122.8"/>
<path d="M429.3 393.6h-3.6"/>
<path d="M429.3 416.5h-3.6"/>
<path d="M429.3 439.1h-3.6"/>
<path d="M429.3 461.9h-3.6"/>
<path d="M429.3 484.8h-3.6"/>
<path d="M429.3 507.4h-3.6"/>
<path d="M453.8 511.8v3.3"/>
<rect x="437.1" y="413" width="34.4" height="87.4"/>
<path stroke="#aaa" stroke-width=".58" d="M445.2 393.6h17.2 M445.2 507.4h17.2"/>
<path stroke="#000" stroke-width=".75" stroke-dasharray="1.5 1.3" d="M453.8 413V393.6 M453.8 500.4V507.4"/>
<path stroke="#0a0a0a" stroke-width="1.6" d="M437.1 470.4H471.5"/>
<path d="M496.2 511.8v3.3"/>
<rect x="479.4" y="394.1" width="34.1" height="84.5"/>
<path stroke="#aaa" stroke-width=".58" d="M487.7 393.6h17.1 M487.7 507.4h17.1"/>
<path stroke="#000" stroke-width=".75" stroke-dasharray="1.5 1.3" d="M496.2 394.1V393.6 M496.2 478.6V507.4"/>
<path stroke="#0a0a0a" stroke-width="1.6" d="M479.4 407H513.5"/>
</g>
<g font-family="'Liberation Sans',Arial,sans-serif" fill="#1a1a1a" stroke="#1a1a1a" stroke-width=".12" text-anchor="middle">
<text font-size="4.7" transform="translate(422.1 393.6) rotate(-90) scale(1 1)">1.0</text>
<text font-size="4.7" transform="translate(422.1 416.5) rotate(-90) scale(1 1)">0.8</text>
<text font-size="4.7" transform="translate(422.1 439.1) rotate(-90) scale(1 1)">0.6</text>
<text font-size="4.7" transform="translate(422.1 461.9) rotate(-90) scale(1 1)">0.4</text>
<text font-size="4.7" transform="translate(422.1 484.8) rotate(-90) scale(1 1)">0.2</text>
<text font-size="4.7" transform="translate(422.1 507.4) rotate(-90) scale(1 1)">0.0</text>
<text stroke-width=".1" fill="#2a2a2a" font-size="4.9" text-anchor="start" textLength="16.1" lengthAdjust="spacingAndGlyphs" transform="translate(410.5 458.1) rotate(-90)">IS score</text>
<text stroke-width=".08" text-anchor="start" textLength="6.4" lengthAdjust="spacingAndGlyphs" font-size="4.5" x="450.6" y="520.8">Epi</text>
<text stroke-width=".08" text-anchor="start" textLength="8.6" lengthAdjust="spacingAndGlyphs" font-size="4.5" x="491.9" y="520.8">Mes</text>
</g>
<text font-family="'DejaVu Sans',Verdana,sans-serif" font-weight="bold" font-size="9.5" x="455.6" y="535.3" fill="#111" textLength="37.9" lengthAdjust="spacingAndGlyphs">Leipzig</text>
<text font-family="'DejaVu Sans',Verdana,sans-serif" font-size="9.0" x="441.8" y="382.4" fill="#222" stroke="#222" stroke-width=".07" textLength="68" lengthAdjust="spacingAndGlyphs">P =3.1 x 10<tspan font-size="6.3" dy="-3" stroke-width=".22">-6</tspan></text></g>
<text font-family="'Liberation Serif','Times New Roman',serif" font-size="22.6" fill="#000" stroke="#000" stroke-width=".25" transform="translate(28.8 16.2) scale(.84 1)">A</text>
<text font-family="'Liberation Serif','Times New Roman',serif" font-size="22.6" fill="#000" stroke="#000" stroke-width=".25" transform="translate(488.9 16.2) scale(.84 1)">B</text>
<text font-family="'Liberation Serif','Times New Roman',serif" font-size="22.6" fill="#000" stroke="#000" stroke-width=".25" transform="translate(28.7 185.7) scale(.84 1)">C</text>
<text font-family="'Liberation Serif','Times New Roman',serif" font-size="22.6" fill="#000" stroke="#000" stroke-width=".25" transform="translate(28.8 365.2) scale(.84 1)">D</text>
<text font-family="'Liberation Serif','Times New Roman',serif" font-size="22.6" fill="#000" stroke="#000" stroke-width=".25" transform="translate(315 365.2) scale(.84 1)">E</text>
</svg>
</body></html>
